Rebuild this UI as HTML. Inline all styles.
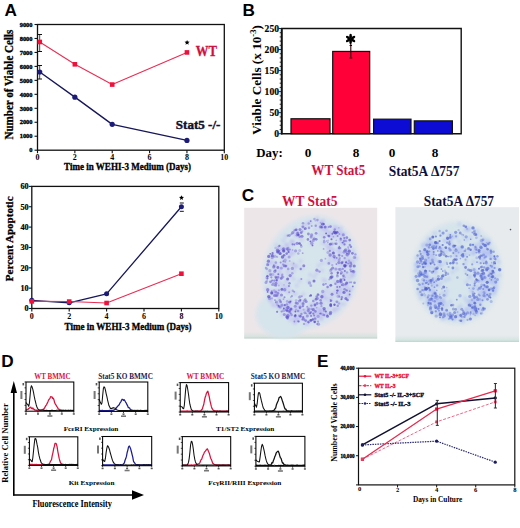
<!DOCTYPE html>
<html><head><meta charset="utf-8"><style>
html,body{margin:0;padding:0;background:#fff;}
body{width:520px;height:528px;overflow:hidden;}
svg{display:block;}
</style></head><body>
<svg width="520" height="528" viewBox="0 0 520 528">
<defs>
<filter id="soft" x="-5%" y="-5%" width="110%" height="110%"><feGaussianBlur stdDeviation="0.45"/></filter>
<filter id="blur1" x="-20%" y="-20%" width="140%" height="140%"><feGaussianBlur stdDeviation="1.2"/></filter>
<filter id="blur2" x="-20%" y="-20%" width="140%" height="140%"><feGaussianBlur stdDeviation="2"/></filter>
<linearGradient id="gstrip" x1="0" y1="0" x2="0" y2="1"><stop offset="0" stop-color="#c0e0d8" stop-opacity="0"/><stop offset="0.7" stop-color="#bcdcd0" stop-opacity="0.4"/><stop offset="1" stop-color="#a0c4b4" stop-opacity="0.6"/></linearGradient>
</defs>
<rect width="520" height="528" fill="#fff"/>
<text x="4.4" y="15.6" font-family="Liberation Sans" font-size="17.2" font-weight="bold" fill="#000" text-anchor="start" >A</text>
<text x="242.6" y="15.6" font-family="Liberation Sans" font-size="17.2" font-weight="bold" fill="#000" text-anchor="start" >B</text>
<text x="241.8" y="201.4" font-family="Liberation Sans" font-size="17.2" font-weight="bold" fill="#000" text-anchor="start" >C</text>
<text x="1.2" y="366.6" font-family="Liberation Sans" font-size="17.2" font-weight="bold" fill="#000" text-anchor="start" >D</text>
<text x="317.0" y="366.6" font-family="Liberation Sans" font-size="17.2" font-weight="bold" fill="#000" text-anchor="start" >E</text>
<rect x="37.50" y="24.50" width="186.80" height="125.70" fill="none" stroke="#111" stroke-width="1.3" />
<line x1="34.50" y1="150.20" x2="37.50" y2="150.20" stroke="#111" stroke-width="1.1" />
<text x="32.5" y="152.39999999999998" font-family="Liberation Serif" font-size="6.4" font-weight="bold" fill="#000" text-anchor="end" stroke="#000" stroke-width="0.35">0</text>
<line x1="34.50" y1="136.23" x2="37.50" y2="136.23" stroke="#111" stroke-width="1.1" />
<text x="32.5" y="138.4333333333333" font-family="Liberation Serif" font-size="6.4" font-weight="bold" fill="#000" text-anchor="end" stroke="#000" stroke-width="0.35">1000</text>
<line x1="34.50" y1="122.27" x2="37.50" y2="122.27" stroke="#111" stroke-width="1.1" />
<text x="32.5" y="124.46666666666665" font-family="Liberation Serif" font-size="6.4" font-weight="bold" fill="#000" text-anchor="end" stroke="#000" stroke-width="0.35">2000</text>
<line x1="34.50" y1="108.30" x2="37.50" y2="108.30" stroke="#111" stroke-width="1.1" />
<text x="32.5" y="110.5" font-family="Liberation Serif" font-size="6.4" font-weight="bold" fill="#000" text-anchor="end" stroke="#000" stroke-width="0.35">3000</text>
<line x1="34.50" y1="94.33" x2="37.50" y2="94.33" stroke="#111" stroke-width="1.1" />
<text x="32.5" y="96.53333333333333" font-family="Liberation Serif" font-size="6.4" font-weight="bold" fill="#000" text-anchor="end" stroke="#000" stroke-width="0.35">4000</text>
<line x1="34.50" y1="80.37" x2="37.50" y2="80.37" stroke="#111" stroke-width="1.1" />
<text x="32.5" y="82.56666666666666" font-family="Liberation Serif" font-size="6.4" font-weight="bold" fill="#000" text-anchor="end" stroke="#000" stroke-width="0.35">5000</text>
<line x1="34.50" y1="66.40" x2="37.50" y2="66.40" stroke="#111" stroke-width="1.1" />
<text x="32.5" y="68.60000000000001" font-family="Liberation Serif" font-size="6.4" font-weight="bold" fill="#000" text-anchor="end" stroke="#000" stroke-width="0.35">6000</text>
<line x1="34.50" y1="52.43" x2="37.50" y2="52.43" stroke="#111" stroke-width="1.1" />
<text x="32.5" y="54.63333333333334" font-family="Liberation Serif" font-size="6.4" font-weight="bold" fill="#000" text-anchor="end" stroke="#000" stroke-width="0.35">7000</text>
<line x1="34.50" y1="38.47" x2="37.50" y2="38.47" stroke="#111" stroke-width="1.1" />
<text x="32.5" y="40.66666666666667" font-family="Liberation Serif" font-size="6.4" font-weight="bold" fill="#000" text-anchor="end" stroke="#000" stroke-width="0.35">8000</text>
<line x1="34.50" y1="24.50" x2="37.50" y2="24.50" stroke="#111" stroke-width="1.1" />
<text x="32.5" y="26.699999999999985" font-family="Liberation Serif" font-size="6.4" font-weight="bold" fill="#000" text-anchor="end" stroke="#000" stroke-width="0.35">9000</text>
<line x1="37.50" y1="150.20" x2="37.50" y2="153.20" stroke="#111" stroke-width="1.1" />
<text x="37.5" y="160.2" font-family="Liberation Serif" font-size="8" font-weight="bold" fill="#000" text-anchor="middle" >0</text>
<line x1="74.86" y1="150.20" x2="74.86" y2="153.20" stroke="#111" stroke-width="1.1" />
<text x="74.86" y="160.2" font-family="Liberation Serif" font-size="8" font-weight="bold" fill="#000" text-anchor="middle" >2</text>
<line x1="112.22" y1="150.20" x2="112.22" y2="153.20" stroke="#111" stroke-width="1.1" />
<text x="112.22" y="160.2" font-family="Liberation Serif" font-size="8" font-weight="bold" fill="#000" text-anchor="middle" >4</text>
<line x1="149.58" y1="150.20" x2="149.58" y2="153.20" stroke="#111" stroke-width="1.1" />
<text x="149.58" y="160.2" font-family="Liberation Serif" font-size="8" font-weight="bold" fill="#000" text-anchor="middle" >6</text>
<line x1="186.94" y1="150.20" x2="186.94" y2="153.20" stroke="#111" stroke-width="1.1" />
<text x="186.94" y="160.2" font-family="Liberation Serif" font-size="8" font-weight="bold" fill="#000" text-anchor="middle" >8</text>
<line x1="224.30" y1="150.20" x2="224.30" y2="153.20" stroke="#111" stroke-width="1.1" />
<text x="224.3" y="160.2" font-family="Liberation Serif" font-size="8" font-weight="bold" fill="#000" text-anchor="middle" >10</text>
<text x="127.6" y="170.2" font-family="Liberation Serif" font-size="9.6" font-weight="bold" fill="#000" text-anchor="middle" textLength="127" lengthAdjust="spacingAndGlyphs" stroke="#000" stroke-width="0.3">Time in WEHI-3 Medium (Days)</text>
<text transform="translate(13.2,84.6) rotate(-90)" x="0" y="0" font-family="Liberation Serif" font-size="11.5" font-weight="bold" fill="#000" text-anchor="middle" textLength="110" lengthAdjust="spacingAndGlyphs" stroke="#000" stroke-width="0.3">Number of Viable Cells</text>
<line x1="39.60" y1="34.50" x2="39.60" y2="51.50" stroke="#666" stroke-width="1.2" />
<line x1="37.60" y1="34.50" x2="42.00" y2="34.50" stroke="#111" stroke-width="1" />
<line x1="37.60" y1="51.50" x2="42.00" y2="51.50" stroke="#111" stroke-width="1" />
<line x1="39.60" y1="65.50" x2="39.60" y2="79.00" stroke="#666" stroke-width="1.2" />
<line x1="37.60" y1="65.50" x2="42.00" y2="65.50" stroke="#111" stroke-width="1" />
<line x1="37.60" y1="79.00" x2="42.00" y2="79.00" stroke="#111" stroke-width="1" />
<polyline points="39.74,41.96 74.86,64.31 112.22,84.56 186.94,52.43" fill="none" stroke="#ea2c52" stroke-width="1.05" stroke-linejoin="round" />
<polyline points="39.74,71.99 74.86,97.13 112.22,124.36 186.94,140.42" fill="none" stroke="#16165a" stroke-width="1.35" stroke-linejoin="round" />
<rect x="37.44" y="39.66" width="4.60" height="4.60" fill="#f0103c" stroke="none" stroke-width="1" />
<rect x="72.56" y="62.01" width="4.60" height="4.60" fill="#f0103c" stroke="none" stroke-width="1" />
<rect x="109.92" y="82.26" width="4.60" height="4.60" fill="#f0103c" stroke="none" stroke-width="1" />
<rect x="184.64" y="50.13" width="4.60" height="4.60" fill="#f0103c" stroke="none" stroke-width="1" />
<circle cx="39.74" cy="71.99" r="2.60" fill="#1c1c78" />
<circle cx="74.86" cy="97.13" r="2.60" fill="#1c1c78" />
<circle cx="112.22" cy="124.36" r="2.60" fill="#1c1c78" />
<circle cx="186.94" cy="140.42" r="2.60" fill="#1c1c78" />
<polygon points="187.10,39.90 187.81,41.62 189.67,41.77 188.26,42.98 188.69,44.78 187.10,43.82 185.51,44.78 185.94,42.98 184.53,41.77 186.39,41.62" fill="#000"/>
<text x="195.8" y="55.9" font-family="Liberation Serif" font-size="13.6" font-weight="bold" fill="#d0103e" text-anchor="start" textLength="21.2" lengthAdjust="spacingAndGlyphs" stroke="#d0103e" stroke-width="0.3">WT</text>
<text x="175.8" y="128.5" font-family="Liberation Serif" font-size="13.4" font-weight="bold" fill="#101030" text-anchor="start" textLength="44.6" lengthAdjust="spacingAndGlyphs" stroke="#101030" stroke-width="0.45">Stat5 -/-</text>
<rect x="31.80" y="186.40" width="187.00" height="122.10" fill="none" stroke="#111" stroke-width="1.3" />
<line x1="28.80" y1="308.50" x2="31.80" y2="308.50" stroke="#111" stroke-width="1.1" />
<text x="28.6" y="311.3" font-family="Liberation Serif" font-size="8.2" font-weight="bold" fill="#000" text-anchor="end" stroke="#000" stroke-width="0.2">0</text>
<line x1="28.80" y1="288.15" x2="31.80" y2="288.15" stroke="#111" stroke-width="1.1" />
<text x="28.6" y="290.95" font-family="Liberation Serif" font-size="8.2" font-weight="bold" fill="#000" text-anchor="end" stroke="#000" stroke-width="0.2">10</text>
<line x1="28.80" y1="267.80" x2="31.80" y2="267.80" stroke="#111" stroke-width="1.1" />
<text x="28.6" y="270.6" font-family="Liberation Serif" font-size="8.2" font-weight="bold" fill="#000" text-anchor="end" stroke="#000" stroke-width="0.2">20</text>
<line x1="28.80" y1="247.45" x2="31.80" y2="247.45" stroke="#111" stroke-width="1.1" />
<text x="28.6" y="250.25" font-family="Liberation Serif" font-size="8.2" font-weight="bold" fill="#000" text-anchor="end" stroke="#000" stroke-width="0.2">30</text>
<line x1="28.80" y1="227.10" x2="31.80" y2="227.10" stroke="#111" stroke-width="1.1" />
<text x="28.6" y="229.9" font-family="Liberation Serif" font-size="8.2" font-weight="bold" fill="#000" text-anchor="end" stroke="#000" stroke-width="0.2">40</text>
<line x1="28.80" y1="206.75" x2="31.80" y2="206.75" stroke="#111" stroke-width="1.1" />
<text x="28.6" y="209.55" font-family="Liberation Serif" font-size="8.2" font-weight="bold" fill="#000" text-anchor="end" stroke="#000" stroke-width="0.2">50</text>
<line x1="28.80" y1="186.40" x2="31.80" y2="186.40" stroke="#111" stroke-width="1.1" />
<text x="28.6" y="189.20000000000002" font-family="Liberation Serif" font-size="8.2" font-weight="bold" fill="#000" text-anchor="end" stroke="#000" stroke-width="0.2">60</text>
<line x1="31.80" y1="308.50" x2="31.80" y2="311.50" stroke="#111" stroke-width="1.1" />
<text x="31.8" y="318.6" font-family="Liberation Serif" font-size="8" font-weight="bold" fill="#000" text-anchor="middle" >0</text>
<line x1="69.20" y1="308.50" x2="69.20" y2="311.50" stroke="#111" stroke-width="1.1" />
<text x="69.2" y="318.6" font-family="Liberation Serif" font-size="8" font-weight="bold" fill="#000" text-anchor="middle" >2</text>
<line x1="106.60" y1="308.50" x2="106.60" y2="311.50" stroke="#111" stroke-width="1.1" />
<text x="106.6" y="318.6" font-family="Liberation Serif" font-size="8" font-weight="bold" fill="#000" text-anchor="middle" >4</text>
<line x1="144.00" y1="308.50" x2="144.00" y2="311.50" stroke="#111" stroke-width="1.1" />
<text x="144.0" y="318.6" font-family="Liberation Serif" font-size="8" font-weight="bold" fill="#000" text-anchor="middle" >6</text>
<line x1="181.40" y1="308.50" x2="181.40" y2="311.50" stroke="#111" stroke-width="1.1" />
<text x="181.4" y="318.6" font-family="Liberation Serif" font-size="8" font-weight="bold" fill="#000" text-anchor="middle" >8</text>
<line x1="218.80" y1="308.50" x2="218.80" y2="311.50" stroke="#111" stroke-width="1.1" />
<text x="218.8" y="318.6" font-family="Liberation Serif" font-size="8" font-weight="bold" fill="#000" text-anchor="middle" >10</text>
<text x="128.1" y="330.0" font-family="Liberation Serif" font-size="9.4" font-weight="bold" fill="#000" text-anchor="middle" textLength="127" lengthAdjust="spacingAndGlyphs" stroke="#000" stroke-width="0.3">Time in WEHI-3 Medium (Days)</text>
<text transform="translate(12.6,238.8) rotate(-90)" x="0" y="0" font-family="Liberation Serif" font-size="11" font-weight="bold" fill="#000" text-anchor="middle" textLength="84.7" lengthAdjust="spacingAndGlyphs" stroke="#000" stroke-width="0.3">Percent Apoptotic</text>
<polyline points="31.80,300.36 69.20,302.80 106.60,293.85 181.40,206.75" fill="none" stroke="#16165a" stroke-width="1.3" stroke-linejoin="round" />
<polyline points="31.80,301.38 69.20,301.58 106.60,303.01 181.40,273.70" fill="none" stroke="#ea2c52" stroke-width="1.05" stroke-linejoin="round" />
<circle cx="31.80" cy="300.36" r="2.50" fill="#1c1c78" />
<circle cx="69.20" cy="302.80" r="2.50" fill="#1c1c78" />
<circle cx="106.60" cy="293.85" r="2.50" fill="#1c1c78" />
<circle cx="181.40" cy="206.75" r="2.50" fill="#1c1c78" />
<rect x="29.50" y="299.08" width="4.60" height="4.60" fill="#f0103c" stroke="none" stroke-width="1" />
<rect x="66.90" y="299.28" width="4.60" height="4.60" fill="#f0103c" stroke="none" stroke-width="1" />
<rect x="104.30" y="300.71" width="4.60" height="4.60" fill="#f0103c" stroke="none" stroke-width="1" />
<rect x="179.10" y="271.40" width="4.60" height="4.60" fill="#f0103c" stroke="none" stroke-width="1" />
<line x1="179.80" y1="203.00" x2="183.80" y2="203.00" stroke="#111" stroke-width="1" />
<line x1="179.80" y1="211.30" x2="183.80" y2="211.30" stroke="#111" stroke-width="1" />
<polygon points="181.50,195.20 182.19,196.85 183.97,197.00 182.61,198.16 183.03,199.90 181.50,198.97 179.97,199.90 180.39,198.16 179.03,197.00 180.81,196.85" fill="#000"/>
<rect x="291.00" y="118.76" width="39.00" height="14.94" fill="#ff0038" stroke="#111" stroke-width="1.2" />
<rect x="332.70" y="51.43" width="37.00" height="82.27" fill="#ff0038" stroke="#111" stroke-width="1.2" />
<rect x="373.60" y="119.18" width="37.40" height="14.52" fill="#0c0cd4" stroke="#111" stroke-width="1.2" />
<rect x="414.30" y="120.87" width="38.10" height="12.83" fill="#0c0cd4" stroke="#111" stroke-width="1.2" />
<path d="M281.7,28.5 H461.2 V133.7 H281.7 Z" fill="none" stroke="#111" stroke-width="1.4"/>
<line x1="281.70" y1="28.50" x2="281.70" y2="134.40" stroke="#111" stroke-width="1.9" />
<line x1="278.70" y1="133.70" x2="281.70" y2="133.70" stroke="#111" stroke-width="0.9" />
<line x1="279.70" y1="129.49" x2="281.70" y2="129.49" stroke="#111" stroke-width="0.9" />
<line x1="279.70" y1="125.28" x2="281.70" y2="125.28" stroke="#111" stroke-width="0.9" />
<line x1="279.70" y1="121.08" x2="281.70" y2="121.08" stroke="#111" stroke-width="0.9" />
<line x1="279.70" y1="116.87" x2="281.70" y2="116.87" stroke="#111" stroke-width="0.9" />
<line x1="278.70" y1="112.66" x2="281.70" y2="112.66" stroke="#111" stroke-width="0.9" />
<line x1="279.70" y1="108.45" x2="281.70" y2="108.45" stroke="#111" stroke-width="0.9" />
<line x1="279.70" y1="104.24" x2="281.70" y2="104.24" stroke="#111" stroke-width="0.9" />
<line x1="279.70" y1="100.04" x2="281.70" y2="100.04" stroke="#111" stroke-width="0.9" />
<line x1="279.70" y1="95.83" x2="281.70" y2="95.83" stroke="#111" stroke-width="0.9" />
<line x1="278.70" y1="91.62" x2="281.70" y2="91.62" stroke="#111" stroke-width="0.9" />
<line x1="279.70" y1="87.41" x2="281.70" y2="87.41" stroke="#111" stroke-width="0.9" />
<line x1="279.70" y1="83.20" x2="281.70" y2="83.20" stroke="#111" stroke-width="0.9" />
<line x1="279.70" y1="79.00" x2="281.70" y2="79.00" stroke="#111" stroke-width="0.9" />
<line x1="279.70" y1="74.79" x2="281.70" y2="74.79" stroke="#111" stroke-width="0.9" />
<line x1="278.70" y1="70.58" x2="281.70" y2="70.58" stroke="#111" stroke-width="0.9" />
<line x1="279.70" y1="66.37" x2="281.70" y2="66.37" stroke="#111" stroke-width="0.9" />
<line x1="279.70" y1="62.16" x2="281.70" y2="62.16" stroke="#111" stroke-width="0.9" />
<line x1="279.70" y1="57.96" x2="281.70" y2="57.96" stroke="#111" stroke-width="0.9" />
<line x1="279.70" y1="53.75" x2="281.70" y2="53.75" stroke="#111" stroke-width="0.9" />
<line x1="278.70" y1="49.54" x2="281.70" y2="49.54" stroke="#111" stroke-width="0.9" />
<line x1="279.70" y1="45.33" x2="281.70" y2="45.33" stroke="#111" stroke-width="0.9" />
<line x1="279.70" y1="41.12" x2="281.70" y2="41.12" stroke="#111" stroke-width="0.9" />
<line x1="279.70" y1="36.92" x2="281.70" y2="36.92" stroke="#111" stroke-width="0.9" />
<line x1="279.70" y1="32.71" x2="281.70" y2="32.71" stroke="#111" stroke-width="0.9" />
<line x1="278.70" y1="28.50" x2="281.70" y2="28.50" stroke="#111" stroke-width="0.9" />
<text x="279" y="137.0" font-family="Liberation Serif" font-size="9.6" font-weight="bold" fill="#000" text-anchor="end" stroke="#000" stroke-width="0.15">0</text>
<text x="279" y="115.96" font-family="Liberation Serif" font-size="9.6" font-weight="bold" fill="#000" text-anchor="end" stroke="#000" stroke-width="0.15">50</text>
<text x="279" y="94.92" font-family="Liberation Serif" font-size="9.6" font-weight="bold" fill="#000" text-anchor="end" stroke="#000" stroke-width="0.15">100</text>
<text x="279" y="73.88" font-family="Liberation Serif" font-size="9.6" font-weight="bold" fill="#000" text-anchor="end" stroke="#000" stroke-width="0.15">150</text>
<text x="279" y="52.84" font-family="Liberation Serif" font-size="9.6" font-weight="bold" fill="#000" text-anchor="end" stroke="#000" stroke-width="0.15">200</text>
<text x="279" y="31.8" font-family="Liberation Serif" font-size="9.6" font-weight="bold" fill="#000" text-anchor="end" stroke="#000" stroke-width="0.15">250</text>
<line x1="350.80" y1="44.00" x2="350.80" y2="58.30" stroke="#300008" stroke-width="1.1" />
<line x1="349.60" y1="45.50" x2="352.00" y2="45.50" stroke="#000" stroke-width="1" />
<line x1="349.30" y1="58.00" x2="352.30" y2="58.00" stroke="#700010" stroke-width="1.2" />
<g transform="translate(350.6,39)" fill="#000"><ellipse cx="0" cy="-2.86" rx="1.35" ry="2.44" transform="rotate(0)"/><ellipse cx="0" cy="-2.86" rx="1.35" ry="2.44" transform="rotate(60)"/><ellipse cx="0" cy="-2.86" rx="1.35" ry="2.44" transform="rotate(120)"/><ellipse cx="0" cy="-2.86" rx="1.35" ry="2.44" transform="rotate(180)"/><ellipse cx="0" cy="-2.86" rx="1.35" ry="2.44" transform="rotate(240)"/><ellipse cx="0" cy="-2.86" rx="1.35" ry="2.44" transform="rotate(300)"/><circle r="1.04"/></g>
<text transform="translate(260.6,79.9) rotate(-90)" x="0" y="0" font-family="Liberation Serif" font-size="13.2" font-weight="bold" fill="#000" text-anchor="middle" >Viable Cells (x 10<tspan dy="-5" font-size="8.6">-3</tspan><tspan dy="5">)</tspan></text>
<text x="256.3" y="156.8" font-family="Liberation Serif" font-size="13.2" font-weight="bold" fill="#000" text-anchor="start" textLength="26.5" lengthAdjust="spacingAndGlyphs" >Day:</text>
<text x="308" y="156.8" font-family="Liberation Serif" font-size="13.2" font-weight="bold" fill="#000" text-anchor="middle" >0</text>
<text x="356" y="156.8" font-family="Liberation Serif" font-size="13.2" font-weight="bold" fill="#000" text-anchor="middle" >8</text>
<text x="392" y="156.8" font-family="Liberation Serif" font-size="13.2" font-weight="bold" fill="#000" text-anchor="middle" >0</text>
<text x="435" y="156.8" font-family="Liberation Serif" font-size="13.2" font-weight="bold" fill="#000" text-anchor="middle" >8</text>
<text x="311.3" y="175.4" font-family="Liberation Serif" font-size="14.1" font-weight="bold" fill="#d0103e" text-anchor="start" textLength="54" lengthAdjust="spacingAndGlyphs" >WT Stat5</text>
<text x="388.7" y="175.5" font-family="Liberation Serif" font-size="14.1" font-weight="bold" fill="#10103a" text-anchor="start" textLength="70.8" lengthAdjust="spacingAndGlyphs" >Stat5A Δ757</text>
<text x="309.8" y="205.7" font-family="Liberation Serif" font-size="14" font-weight="bold" fill="#d0103e" text-anchor="middle" textLength="55.5" lengthAdjust="spacingAndGlyphs" >WT Stat5</text>
<text x="458.9" y="205.9" font-family="Liberation Serif" font-size="14" font-weight="bold" fill="#10103a" text-anchor="middle" textLength="70.3" lengthAdjust="spacingAndGlyphs" >Stat5A Δ757</text>
<rect x="244.20" y="207.80" width="133.00" height="130.70" fill="#ece6e9" stroke="none" stroke-width="1" />
<rect x="244.2" y="331.5" width="133.0" height="7" fill="url(#gstrip)"/>
<ellipse cx="284" cy="314" rx="28" ry="24" transform="rotate(0 284 314)" fill="#d6e4ec" filter="url(#blur2)"/>
<ellipse cx="311" cy="272" rx="48" ry="57" transform="rotate(16 311 272)" fill="#d6e4ec" filter="url(#blur2)"/>
<g fill="#b8b2f0" filter="url(#blur1)"><circle cx="341.8" cy="252.8" r="2.4" fill-opacity="0.28"/><circle cx="342.7" cy="273.4" r="2.4" fill-opacity="0.28"/><circle cx="295.7" cy="235.4" r="2.4" fill-opacity="0.28"/><circle cx="339.1" cy="286.5" r="2.4" fill-opacity="0.28"/><circle cx="289.5" cy="291.2" r="2.4" fill-opacity="0.28"/><circle cx="352.0" cy="274.8" r="2.4" fill-opacity="0.28"/><circle cx="332.0" cy="255.5" r="2.4" fill-opacity="0.28"/><circle cx="308.8" cy="281.5" r="2.4" fill-opacity="0.28"/><circle cx="279.2" cy="296.9" r="2.4" fill-opacity="0.28"/><circle cx="280.6" cy="268.9" r="2.4" fill-opacity="0.28"/><circle cx="330.2" cy="263.2" r="2.4" fill-opacity="0.28"/><circle cx="303.3" cy="301.7" r="2.4" fill-opacity="0.28"/><circle cx="301.9" cy="268.2" r="2.4" fill-opacity="0.28"/><circle cx="322.5" cy="263.1" r="2.4" fill-opacity="0.28"/><circle cx="303.6" cy="311.1" r="2.4" fill-opacity="0.28"/><circle cx="298.5" cy="320.2" r="2.4" fill-opacity="0.28"/><circle cx="326.4" cy="313.1" r="2.4" fill-opacity="0.28"/><circle cx="322.9" cy="310.8" r="2.4" fill-opacity="0.28"/><circle cx="318.7" cy="265.7" r="2.4" fill-opacity="0.28"/><circle cx="341.6" cy="288.8" r="2.4" fill-opacity="0.28"/><circle cx="322.2" cy="270.4" r="2.4" fill-opacity="0.28"/><circle cx="346.4" cy="254.1" r="2.4" fill-opacity="0.28"/><circle cx="338.9" cy="232.3" r="2.4" fill-opacity="0.28"/><circle cx="310.3" cy="222.5" r="2.4" fill-opacity="0.28"/><circle cx="323.5" cy="237.6" r="2.4" fill-opacity="0.28"/><circle cx="331.1" cy="272.6" r="2.4" fill-opacity="0.28"/><circle cx="323.1" cy="221.0" r="2.4" fill-opacity="0.28"/><circle cx="313.5" cy="237.0" r="2.4" fill-opacity="0.28"/><circle cx="346.1" cy="283.2" r="2.4" fill-opacity="0.28"/><circle cx="310.7" cy="308.2" r="2.4" fill-opacity="0.28"/><circle cx="340.7" cy="241.6" r="2.4" fill-opacity="0.28"/><circle cx="325.4" cy="281.2" r="2.4" fill-opacity="0.28"/><circle cx="336.0" cy="228.7" r="2.4" fill-opacity="0.28"/><circle cx="283.0" cy="305.0" r="2.4" fill-opacity="0.28"/><circle cx="311.1" cy="243.7" r="2.4" fill-opacity="0.28"/><circle cx="279.7" cy="283.0" r="2.4" fill-opacity="0.28"/><circle cx="331.9" cy="254.6" r="2.4" fill-opacity="0.28"/><circle cx="284.3" cy="306.9" r="2.4" fill-opacity="0.28"/><circle cx="340.9" cy="262.2" r="2.4" fill-opacity="0.28"/><circle cx="316.2" cy="312.1" r="2.4" fill-opacity="0.28"/><circle cx="285.6" cy="308.5" r="2.4" fill-opacity="0.28"/><circle cx="294.9" cy="322.9" r="2.4" fill-opacity="0.28"/><circle cx="343.5" cy="233.8" r="2.4" fill-opacity="0.28"/><circle cx="340.3" cy="292.3" r="2.4" fill-opacity="0.28"/><circle cx="327.5" cy="231.5" r="2.4" fill-opacity="0.28"/><circle cx="326.5" cy="314.0" r="2.4" fill-opacity="0.28"/><circle cx="312.6" cy="304.7" r="2.4" fill-opacity="0.28"/><circle cx="325.6" cy="244.6" r="2.4" fill-opacity="0.28"/><circle cx="278.5" cy="307.4" r="2.4" fill-opacity="0.28"/><circle cx="349.9" cy="278.3" r="2.4" fill-opacity="0.28"/><circle cx="326.4" cy="313.9" r="2.4" fill-opacity="0.28"/><circle cx="338.5" cy="233.1" r="2.4" fill-opacity="0.28"/><circle cx="315.7" cy="229.3" r="2.4" fill-opacity="0.28"/><circle cx="280.7" cy="291.2" r="2.4" fill-opacity="0.28"/><circle cx="351.0" cy="269.5" r="2.4" fill-opacity="0.28"/><circle cx="353.4" cy="260.6" r="2.4" fill-opacity="0.28"/><circle cx="321.1" cy="229.1" r="2.4" fill-opacity="0.28"/><circle cx="332.6" cy="250.6" r="2.4" fill-opacity="0.28"/><circle cx="301.6" cy="240.3" r="2.4" fill-opacity="0.28"/><circle cx="353.3" cy="271.6" r="2.4" fill-opacity="0.28"/><circle cx="351.8" cy="261.1" r="2.4" fill-opacity="0.28"/><circle cx="299.4" cy="310.2" r="2.4" fill-opacity="0.28"/><circle cx="302.2" cy="303.2" r="2.4" fill-opacity="0.28"/><circle cx="344.9" cy="261.1" r="2.4" fill-opacity="0.28"/><circle cx="299.6" cy="316.7" r="2.4" fill-opacity="0.28"/><circle cx="282.5" cy="310.0" r="2.4" fill-opacity="0.28"/><circle cx="327.0" cy="298.3" r="2.4" fill-opacity="0.28"/><circle cx="333.3" cy="250.1" r="2.4" fill-opacity="0.28"/><circle cx="276.7" cy="245.6" r="2.4" fill-opacity="0.28"/><circle cx="288.0" cy="264.8" r="2.4" fill-opacity="0.28"/><circle cx="289.3" cy="255.7" r="2.4" fill-opacity="0.28"/><circle cx="286.7" cy="281.8" r="2.4" fill-opacity="0.28"/><circle cx="272.8" cy="262.4" r="2.4" fill-opacity="0.28"/><circle cx="272.8" cy="291.5" r="2.4" fill-opacity="0.28"/><circle cx="308.6" cy="312.1" r="2.4" fill-opacity="0.28"/><circle cx="349.5" cy="291.2" r="2.4" fill-opacity="0.28"/><circle cx="297.5" cy="235.8" r="2.4" fill-opacity="0.28"/><circle cx="320.5" cy="299.6" r="2.4" fill-opacity="0.28"/><circle cx="334.3" cy="293.4" r="2.4" fill-opacity="0.28"/><circle cx="270.7" cy="292.0" r="2.4" fill-opacity="0.28"/><circle cx="319.0" cy="297.2" r="2.4" fill-opacity="0.28"/><circle cx="291.4" cy="301.0" r="2.4" fill-opacity="0.28"/><circle cx="286.6" cy="245.0" r="2.4" fill-opacity="0.28"/><circle cx="274.3" cy="273.0" r="2.4" fill-opacity="0.28"/><circle cx="283.4" cy="240.7" r="2.4" fill-opacity="0.28"/><circle cx="285.4" cy="257.7" r="2.4" fill-opacity="0.28"/><circle cx="291.6" cy="241.8" r="2.4" fill-opacity="0.28"/><circle cx="288.3" cy="275.3" r="2.4" fill-opacity="0.28"/><circle cx="318.4" cy="307.4" r="2.4" fill-opacity="0.28"/><circle cx="351.5" cy="288.8" r="2.4" fill-opacity="0.28"/><circle cx="334.3" cy="309.5" r="2.4" fill-opacity="0.28"/><circle cx="330.5" cy="298.6" r="2.4" fill-opacity="0.28"/><circle cx="327.8" cy="262.8" r="2.4" fill-opacity="0.28"/><circle cx="308.1" cy="314.8" r="2.4" fill-opacity="0.28"/><circle cx="343.4" cy="270.9" r="2.4" fill-opacity="0.28"/><circle cx="278.2" cy="276.3" r="2.4" fill-opacity="0.28"/><circle cx="340.4" cy="290.1" r="2.4" fill-opacity="0.28"/><circle cx="338.6" cy="308.4" r="2.4" fill-opacity="0.28"/><circle cx="328.5" cy="293.1" r="2.4" fill-opacity="0.28"/><circle cx="309.6" cy="321.6" r="2.4" fill-opacity="0.28"/><circle cx="333.5" cy="309.1" r="2.4" fill-opacity="0.28"/><circle cx="318.1" cy="316.8" r="2.4" fill-opacity="0.28"/><circle cx="270.1" cy="298.4" r="2.4" fill-opacity="0.28"/><circle cx="321.9" cy="223.1" r="2.4" fill-opacity="0.28"/><circle cx="335.0" cy="270.0" r="2.4" fill-opacity="0.28"/><circle cx="298.1" cy="319.4" r="2.4" fill-opacity="0.28"/><circle cx="342.0" cy="243.0" r="2.4" fill-opacity="0.28"/><circle cx="320.3" cy="310.7" r="2.4" fill-opacity="0.28"/><circle cx="328.8" cy="246.5" r="2.4" fill-opacity="0.28"/><circle cx="273.2" cy="294.3" r="2.4" fill-opacity="0.28"/><circle cx="318.9" cy="313.6" r="2.4" fill-opacity="0.28"/><circle cx="342.6" cy="295.1" r="2.4" fill-opacity="0.28"/><circle cx="279.8" cy="277.4" r="2.4" fill-opacity="0.28"/><circle cx="328.0" cy="289.0" r="2.4" fill-opacity="0.28"/><circle cx="324.3" cy="234.5" r="2.4" fill-opacity="0.28"/><circle cx="281.4" cy="288.5" r="2.4" fill-opacity="0.28"/><circle cx="305.7" cy="225.4" r="2.4" fill-opacity="0.28"/><circle cx="322.5" cy="229.5" r="2.4" fill-opacity="0.28"/><circle cx="268.7" cy="271.0" r="2.4" fill-opacity="0.28"/><circle cx="319.5" cy="310.5" r="2.4" fill-opacity="0.28"/><circle cx="271.4" cy="282.7" r="2.4" fill-opacity="0.28"/><circle cx="335.2" cy="259.5" r="2.4" fill-opacity="0.28"/><circle cx="348.1" cy="262.0" r="2.4" fill-opacity="0.28"/><circle cx="305.4" cy="318.3" r="2.4" fill-opacity="0.28"/><circle cx="336.8" cy="309.0" r="2.4" fill-opacity="0.28"/><circle cx="274.6" cy="280.4" r="2.4" fill-opacity="0.28"/><circle cx="302.6" cy="225.8" r="2.4" fill-opacity="0.28"/><circle cx="317.0" cy="313.3" r="2.4" fill-opacity="0.28"/><circle cx="331.3" cy="248.4" r="2.4" fill-opacity="0.28"/><circle cx="346.7" cy="292.6" r="2.4" fill-opacity="0.28"/><circle cx="272.9" cy="304.6" r="2.4" fill-opacity="0.28"/><circle cx="322.9" cy="304.3" r="2.4" fill-opacity="0.28"/><circle cx="269.4" cy="263.7" r="2.4" fill-opacity="0.28"/><circle cx="281.3" cy="251.5" r="2.4" fill-opacity="0.28"/><circle cx="325.6" cy="229.3" r="2.4" fill-opacity="0.28"/><circle cx="293.7" cy="293.7" r="2.4" fill-opacity="0.28"/><circle cx="348.4" cy="260.3" r="2.4" fill-opacity="0.28"/><circle cx="286.7" cy="271.6" r="2.4" fill-opacity="0.28"/><circle cx="330.4" cy="232.3" r="2.4" fill-opacity="0.28"/><circle cx="334.5" cy="301.8" r="2.4" fill-opacity="0.28"/><circle cx="302.9" cy="230.4" r="2.4" fill-opacity="0.28"/><circle cx="325.1" cy="230.0" r="2.4" fill-opacity="0.28"/><circle cx="330.0" cy="256.1" r="2.4" fill-opacity="0.28"/><circle cx="310.3" cy="274.8" r="2.4" fill-opacity="0.28"/><circle cx="352.9" cy="264.1" r="2.4" fill-opacity="0.28"/><circle cx="296.7" cy="315.1" r="2.4" fill-opacity="0.28"/><circle cx="348.7" cy="241.0" r="2.4" fill-opacity="0.28"/><circle cx="321.5" cy="303.2" r="2.4" fill-opacity="0.28"/><circle cx="345.8" cy="298.4" r="2.4" fill-opacity="0.28"/><circle cx="304.2" cy="316.6" r="2.4" fill-opacity="0.28"/><circle cx="296.2" cy="293.9" r="2.4" fill-opacity="0.28"/><circle cx="274.2" cy="266.7" r="2.4" fill-opacity="0.28"/><circle cx="326.1" cy="228.1" r="2.4" fill-opacity="0.28"/><circle cx="337.7" cy="296.0" r="2.4" fill-opacity="0.28"/><circle cx="288.8" cy="305.4" r="2.4" fill-opacity="0.28"/><circle cx="280.0" cy="307.9" r="2.4" fill-opacity="0.28"/><circle cx="321.4" cy="310.9" r="2.4" fill-opacity="0.28"/><circle cx="334.5" cy="280.4" r="2.4" fill-opacity="0.28"/><circle cx="290.9" cy="310.0" r="2.4" fill-opacity="0.28"/><circle cx="353.9" cy="273.8" r="2.4" fill-opacity="0.28"/><circle cx="329.9" cy="285.0" r="2.4" fill-opacity="0.28"/><circle cx="289.1" cy="315.7" r="2.4" fill-opacity="0.28"/><circle cx="313.9" cy="318.5" r="2.4" fill-opacity="0.28"/><circle cx="345.2" cy="268.5" r="2.4" fill-opacity="0.28"/><circle cx="341.0" cy="266.0" r="2.4" fill-opacity="0.28"/><circle cx="281.5" cy="246.9" r="2.4" fill-opacity="0.28"/><circle cx="278.9" cy="303.8" r="2.4" fill-opacity="0.28"/><circle cx="303.2" cy="294.4" r="2.4" fill-opacity="0.28"/><circle cx="295.5" cy="319.3" r="2.4" fill-opacity="0.28"/><circle cx="320.6" cy="313.0" r="2.4" fill-opacity="0.28"/><circle cx="314.3" cy="276.9" r="2.4" fill-opacity="0.28"/><circle cx="274.3" cy="267.5" r="2.4" fill-opacity="0.28"/><circle cx="337.7" cy="236.0" r="2.4" fill-opacity="0.28"/><circle cx="334.0" cy="311.4" r="2.4" fill-opacity="0.28"/><circle cx="277.8" cy="249.9" r="2.4" fill-opacity="0.28"/><circle cx="279.6" cy="250.0" r="2.4" fill-opacity="0.28"/><circle cx="283.9" cy="266.6" r="2.4" fill-opacity="0.28"/><circle cx="297.0" cy="266.4" r="2.4" fill-opacity="0.28"/><circle cx="289.2" cy="270.4" r="2.4" fill-opacity="0.28"/><circle cx="323.6" cy="314.8" r="2.4" fill-opacity="0.28"/><circle cx="284.8" cy="288.1" r="2.4" fill-opacity="0.28"/><circle cx="305.8" cy="323.1" r="2.4" fill-opacity="0.28"/><circle cx="331.3" cy="237.6" r="2.4" fill-opacity="0.28"/><circle cx="285.6" cy="287.1" r="2.4" fill-opacity="0.28"/><circle cx="289.8" cy="250.8" r="2.4" fill-opacity="0.28"/><circle cx="293.5" cy="279.1" r="2.4" fill-opacity="0.28"/><circle cx="338.7" cy="302.2" r="2.4" fill-opacity="0.28"/><circle cx="314.4" cy="308.7" r="2.4" fill-opacity="0.28"/><circle cx="294.9" cy="266.7" r="2.4" fill-opacity="0.28"/><circle cx="347.3" cy="273.5" r="2.4" fill-opacity="0.28"/><circle cx="333.8" cy="231.0" r="2.4" fill-opacity="0.28"/><circle cx="340.9" cy="228.1" r="2.4" fill-opacity="0.28"/><circle cx="342.9" cy="235.7" r="2.4" fill-opacity="0.28"/><circle cx="288.9" cy="315.3" r="2.4" fill-opacity="0.28"/><circle cx="282.7" cy="284.5" r="2.4" fill-opacity="0.28"/><circle cx="288.7" cy="300.4" r="2.4" fill-opacity="0.28"/><circle cx="338.1" cy="291.9" r="2.4" fill-opacity="0.28"/><circle cx="289.5" cy="311.4" r="2.4" fill-opacity="0.28"/><circle cx="328.9" cy="226.1" r="2.4" fill-opacity="0.28"/><circle cx="279.8" cy="248.6" r="2.4" fill-opacity="0.28"/><circle cx="325.1" cy="297.2" r="2.4" fill-opacity="0.28"/><circle cx="288.5" cy="286.4" r="2.4" fill-opacity="0.28"/><circle cx="346.8" cy="263.4" r="2.4" fill-opacity="0.28"/><circle cx="270.3" cy="300.3" r="2.4" fill-opacity="0.28"/><circle cx="346.1" cy="277.4" r="2.4" fill-opacity="0.28"/><circle cx="299.7" cy="280.9" r="2.4" fill-opacity="0.28"/><circle cx="322.4" cy="222.3" r="2.4" fill-opacity="0.28"/><circle cx="315.5" cy="307.9" r="2.4" fill-opacity="0.28"/><circle cx="279.1" cy="298.1" r="2.4" fill-opacity="0.28"/><circle cx="349.2" cy="265.4" r="2.4" fill-opacity="0.28"/><circle cx="273.7" cy="253.8" r="2.4" fill-opacity="0.28"/><circle cx="283.2" cy="300.2" r="2.4" fill-opacity="0.28"/><circle cx="324.5" cy="291.3" r="2.4" fill-opacity="0.28"/><circle cx="277.7" cy="278.8" r="2.4" fill-opacity="0.28"/><circle cx="290.6" cy="304.3" r="2.4" fill-opacity="0.28"/><circle cx="342.3" cy="235.2" r="2.4" fill-opacity="0.28"/><circle cx="328.4" cy="302.5" r="2.4" fill-opacity="0.28"/><circle cx="283.8" cy="250.0" r="2.4" fill-opacity="0.28"/><circle cx="274.9" cy="292.1" r="2.4" fill-opacity="0.28"/><circle cx="343.8" cy="257.2" r="2.4" fill-opacity="0.28"/><circle cx="346.3" cy="286.5" r="2.4" fill-opacity="0.28"/><circle cx="330.1" cy="259.5" r="2.4" fill-opacity="0.28"/><circle cx="324.8" cy="298.9" r="2.4" fill-opacity="0.28"/><circle cx="323.5" cy="279.8" r="2.4" fill-opacity="0.28"/><circle cx="294.6" cy="322.0" r="2.4" fill-opacity="0.28"/><circle cx="293.9" cy="271.1" r="2.4" fill-opacity="0.28"/><circle cx="343.3" cy="265.2" r="2.4" fill-opacity="0.28"/><circle cx="306.5" cy="310.2" r="2.4" fill-opacity="0.28"/><circle cx="314.8" cy="299.5" r="2.4" fill-opacity="0.28"/><circle cx="292.4" cy="263.0" r="2.4" fill-opacity="0.28"/><circle cx="285.8" cy="236.5" r="2.4" fill-opacity="0.28"/><circle cx="336.5" cy="283.6" r="2.4" fill-opacity="0.28"/><circle cx="293.5" cy="309.5" r="2.4" fill-opacity="0.28"/><circle cx="334.9" cy="230.5" r="2.4" fill-opacity="0.28"/><circle cx="277.0" cy="266.7" r="2.4" fill-opacity="0.28"/><circle cx="291.7" cy="252.9" r="2.4" fill-opacity="0.28"/><circle cx="288.1" cy="304.2" r="2.4" fill-opacity="0.28"/><circle cx="334.1" cy="261.2" r="2.4" fill-opacity="0.28"/><circle cx="286.4" cy="260.8" r="2.4" fill-opacity="0.28"/><circle cx="335.6" cy="289.7" r="2.4" fill-opacity="0.28"/><circle cx="341.0" cy="252.5" r="2.4" fill-opacity="0.28"/><circle cx="345.6" cy="260.8" r="2.4" fill-opacity="0.28"/><circle cx="347.5" cy="297.2" r="2.4" fill-opacity="0.28"/><circle cx="338.3" cy="295.1" r="2.4" fill-opacity="0.28"/><circle cx="284.9" cy="265.4" r="2.4" fill-opacity="0.28"/><circle cx="340.6" cy="304.3" r="2.4" fill-opacity="0.28"/><circle cx="287.9" cy="313.8" r="2.4" fill-opacity="0.28"/><circle cx="337.6" cy="251.5" r="2.4" fill-opacity="0.28"/><circle cx="286.3" cy="280.7" r="2.4" fill-opacity="0.28"/><circle cx="348.2" cy="283.0" r="2.4" fill-opacity="0.28"/><circle cx="320.7" cy="222.7" r="2.4" fill-opacity="0.28"/><circle cx="292.0" cy="318.8" r="2.4" fill-opacity="0.28"/><circle cx="283.3" cy="265.2" r="2.4" fill-opacity="0.28"/><circle cx="288.5" cy="249.5" r="2.4" fill-opacity="0.28"/><circle cx="297.2" cy="306.3" r="2.4" fill-opacity="0.28"/><circle cx="326.9" cy="315.7" r="2.4" fill-opacity="0.28"/><circle cx="289.4" cy="312.2" r="2.4" fill-opacity="0.28"/><circle cx="347.9" cy="288.5" r="2.4" fill-opacity="0.28"/><circle cx="348.8" cy="257.4" r="2.4" fill-opacity="0.28"/><circle cx="328.0" cy="308.4" r="2.4" fill-opacity="0.28"/><circle cx="329.4" cy="233.1" r="2.4" fill-opacity="0.28"/><circle cx="312.4" cy="312.1" r="2.4" fill-opacity="0.28"/><circle cx="301.6" cy="304.8" r="2.4" fill-opacity="0.28"/><circle cx="286.3" cy="244.9" r="2.4" fill-opacity="0.28"/><circle cx="338.8" cy="292.4" r="2.4" fill-opacity="0.28"/><circle cx="268.4" cy="274.8" r="2.4" fill-opacity="0.28"/><circle cx="356.6" cy="258.5" r="2.4" fill-opacity="0.28"/><circle cx="284.9" cy="290.4" r="2.4" fill-opacity="0.28"/><circle cx="292.2" cy="241.1" r="2.4" fill-opacity="0.28"/><circle cx="321.4" cy="319.2" r="2.4" fill-opacity="0.28"/><circle cx="290.0" cy="320.1" r="2.4" fill-opacity="0.28"/><circle cx="330.1" cy="234.3" r="2.4" fill-opacity="0.28"/><circle cx="339.2" cy="248.0" r="2.4" fill-opacity="0.28"/><circle cx="269.0" cy="263.2" r="2.4" fill-opacity="0.28"/><circle cx="292.6" cy="265.6" r="2.4" fill-opacity="0.28"/><circle cx="296.8" cy="285.5" r="2.4" fill-opacity="0.28"/><circle cx="277.2" cy="283.4" r="2.4" fill-opacity="0.28"/><circle cx="351.5" cy="275.2" r="2.4" fill-opacity="0.28"/><circle cx="272.2" cy="275.3" r="2.4" fill-opacity="0.28"/><circle cx="353.0" cy="276.3" r="2.4" fill-opacity="0.28"/><circle cx="310.1" cy="223.0" r="2.4" fill-opacity="0.28"/><circle cx="319.6" cy="309.3" r="2.4" fill-opacity="0.28"/><circle cx="338.4" cy="287.1" r="2.4" fill-opacity="0.28"/><circle cx="306.9" cy="311.7" r="2.4" fill-opacity="0.28"/><circle cx="298.4" cy="306.4" r="2.4" fill-opacity="0.28"/><circle cx="327.8" cy="249.3" r="2.4" fill-opacity="0.28"/><circle cx="334.0" cy="226.6" r="2.4" fill-opacity="0.28"/><circle cx="353.8" cy="253.6" r="2.4" fill-opacity="0.28"/><circle cx="338.3" cy="257.7" r="2.4" fill-opacity="0.28"/><circle cx="352.6" cy="250.6" r="2.4" fill-opacity="0.28"/><circle cx="335.1" cy="236.4" r="2.4" fill-opacity="0.28"/><circle cx="348.4" cy="295.0" r="2.4" fill-opacity="0.28"/><circle cx="274.9" cy="292.1" r="2.4" fill-opacity="0.28"/><circle cx="291.5" cy="254.4" r="2.4" fill-opacity="0.28"/><circle cx="321.1" cy="318.3" r="2.4" fill-opacity="0.28"/><circle cx="334.9" cy="256.8" r="2.4" fill-opacity="0.28"/><circle cx="306.8" cy="223.5" r="2.4" fill-opacity="0.28"/><circle cx="299.9" cy="311.2" r="2.4" fill-opacity="0.28"/><circle cx="294.0" cy="252.6" r="2.4" fill-opacity="0.28"/><circle cx="275.4" cy="263.5" r="2.4" fill-opacity="0.28"/><circle cx="320.8" cy="315.2" r="2.4" fill-opacity="0.28"/><circle cx="294.6" cy="233.0" r="2.4" fill-opacity="0.28"/><circle cx="273.7" cy="305.6" r="2.4" fill-opacity="0.28"/><circle cx="317.4" cy="218.5" r="2.4" fill-opacity="0.28"/><circle cx="315.5" cy="303.2" r="2.4" fill-opacity="0.28"/><circle cx="269.6" cy="298.2" r="2.4" fill-opacity="0.28"/><circle cx="332.0" cy="296.9" r="2.4" fill-opacity="0.28"/><circle cx="277.2" cy="290.5" r="2.4" fill-opacity="0.28"/><circle cx="292.7" cy="242.3" r="2.4" fill-opacity="0.28"/><circle cx="298.3" cy="233.4" r="2.4" fill-opacity="0.28"/><circle cx="295.6" cy="310.4" r="2.4" fill-opacity="0.28"/><circle cx="310.2" cy="313.5" r="2.4" fill-opacity="0.28"/><circle cx="332.0" cy="233.8" r="2.4" fill-opacity="0.28"/><circle cx="337.5" cy="264.8" r="2.4" fill-opacity="0.28"/><circle cx="279.6" cy="270.6" r="2.4" fill-opacity="0.28"/><circle cx="340.3" cy="240.3" r="2.4" fill-opacity="0.28"/><circle cx="333.3" cy="236.7" r="2.4" fill-opacity="0.28"/><circle cx="328.9" cy="246.9" r="2.4" fill-opacity="0.28"/><circle cx="271.2" cy="301.3" r="2.4" fill-opacity="0.28"/><circle cx="340.4" cy="231.1" r="2.4" fill-opacity="0.28"/><circle cx="300.5" cy="311.4" r="2.4" fill-opacity="0.28"/><circle cx="332.1" cy="292.6" r="2.4" fill-opacity="0.28"/><circle cx="307.0" cy="324.0" r="2.4" fill-opacity="0.28"/><circle cx="278.1" cy="302.4" r="2.4" fill-opacity="0.28"/><circle cx="344.1" cy="304.1" r="2.4" fill-opacity="0.28"/><circle cx="287.6" cy="309.9" r="2.4" fill-opacity="0.28"/><circle cx="292.7" cy="245.2" r="2.4" fill-opacity="0.28"/><circle cx="345.3" cy="286.3" r="2.4" fill-opacity="0.28"/><circle cx="300.3" cy="261.3" r="2.4" fill-opacity="0.28"/><circle cx="277.0" cy="292.3" r="2.4" fill-opacity="0.28"/><circle cx="295.4" cy="229.0" r="2.4" fill-opacity="0.28"/><circle cx="315.6" cy="315.4" r="2.4" fill-opacity="0.28"/><circle cx="332.9" cy="243.5" r="2.4" fill-opacity="0.28"/><circle cx="307.4" cy="309.6" r="2.4" fill-opacity="0.28"/><circle cx="295.3" cy="265.3" r="2.4" fill-opacity="0.28"/><circle cx="287.7" cy="292.9" r="2.4" fill-opacity="0.28"/><circle cx="343.3" cy="289.6" r="2.4" fill-opacity="0.28"/><circle cx="316.5" cy="224.5" r="2.4" fill-opacity="0.28"/><circle cx="314.1" cy="314.0" r="2.4" fill-opacity="0.28"/><circle cx="288.0" cy="245.6" r="2.4" fill-opacity="0.28"/><circle cx="348.1" cy="254.3" r="2.4" fill-opacity="0.28"/><circle cx="296.2" cy="319.4" r="2.4" fill-opacity="0.28"/><circle cx="336.5" cy="227.7" r="2.4" fill-opacity="0.28"/><circle cx="339.0" cy="251.2" r="2.4" fill-opacity="0.28"/><circle cx="270.0" cy="261.1" r="2.4" fill-opacity="0.28"/><circle cx="316.0" cy="321.2" r="2.4" fill-opacity="0.28"/><circle cx="316.7" cy="273.3" r="2.4" fill-opacity="0.28"/><circle cx="278.7" cy="272.9" r="2.4" fill-opacity="0.28"/><circle cx="321.2" cy="311.7" r="2.4" fill-opacity="0.28"/><circle cx="322.7" cy="293.9" r="2.4" fill-opacity="0.28"/><circle cx="266.8" cy="288.8" r="2.4" fill-opacity="0.28"/><circle cx="282.8" cy="257.3" r="2.4" fill-opacity="0.28"/><circle cx="282.4" cy="262.7" r="2.4" fill-opacity="0.28"/><circle cx="276.1" cy="305.1" r="2.4" fill-opacity="0.28"/><circle cx="310.4" cy="304.7" r="2.4" fill-opacity="0.28"/><circle cx="295.7" cy="306.0" r="2.4" fill-opacity="0.28"/><circle cx="342.8" cy="235.0" r="2.4" fill-opacity="0.28"/><circle cx="345.3" cy="244.5" r="2.4" fill-opacity="0.28"/><circle cx="274.4" cy="293.0" r="2.4" fill-opacity="0.28"/><circle cx="343.7" cy="274.7" r="2.4" fill-opacity="0.28"/><circle cx="295.1" cy="316.7" r="2.4" fill-opacity="0.28"/><circle cx="292.8" cy="311.2" r="2.4" fill-opacity="0.28"/><circle cx="319.7" cy="234.3" r="2.4" fill-opacity="0.28"/><circle cx="349.3" cy="295.7" r="2.4" fill-opacity="0.28"/><circle cx="347.1" cy="249.9" r="2.4" fill-opacity="0.28"/><circle cx="284.0" cy="249.9" r="2.4" fill-opacity="0.28"/><circle cx="291.1" cy="275.6" r="2.4" fill-opacity="0.28"/><circle cx="343.3" cy="244.0" r="2.4" fill-opacity="0.28"/><circle cx="349.1" cy="289.7" r="2.4" fill-opacity="0.28"/><circle cx="336.2" cy="258.6" r="2.4" fill-opacity="0.28"/><circle cx="322.8" cy="243.1" r="2.4" fill-opacity="0.28"/><circle cx="281.6" cy="274.4" r="2.4" fill-opacity="0.28"/><circle cx="282.4" cy="314.4" r="2.4" fill-opacity="0.28"/><circle cx="300.7" cy="237.5" r="2.4" fill-opacity="0.28"/><circle cx="323.4" cy="295.0" r="2.4" fill-opacity="0.28"/><circle cx="289.0" cy="311.7" r="2.4" fill-opacity="0.28"/></g>
<g filter="url(#soft)"><circle cx="277.8" cy="251.9" r="1.6" fill="#5448c4" fill-opacity="0.76"/><circle cx="344.2" cy="240.8" r="1.4" fill="#7c70dc" fill-opacity="0.71"/><circle cx="274.8" cy="271.3" r="1.6" fill="#7c70dc" fill-opacity="0.66"/><circle cx="334.4" cy="257.8" r="1.0" fill="#6458d0" fill-opacity="0.50"/><circle cx="308.4" cy="234.0" r="1.4" fill="#5448c4" fill-opacity="0.50"/><circle cx="273.7" cy="265.1" r="0.8" fill="#6458d0" fill-opacity="0.39"/><circle cx="283.6" cy="248.2" r="1.3" fill="#6458d0" fill-opacity="0.39"/><circle cx="350.4" cy="266.0" r="1.7" fill="#7c70dc" fill-opacity="0.69"/><circle cx="339.3" cy="246.5" r="0.8" fill="#5448c4" fill-opacity="0.56"/><circle cx="274.5" cy="295.6" r="1.5" fill="#5448c4" fill-opacity="0.48"/><circle cx="346.8" cy="237.7" r="1.4" fill="#7c70dc" fill-opacity="0.76"/><circle cx="283.3" cy="249.3" r="1.6" fill="#6458d0" fill-opacity="0.49"/><circle cx="335.9" cy="269.0" r="1.6" fill="#7c70dc" fill-opacity="0.53"/><circle cx="324.2" cy="242.1" r="1.4" fill="#7c70dc" fill-opacity="0.48"/><circle cx="330.5" cy="226.6" r="1.3" fill="#7c70dc" fill-opacity="0.78"/><circle cx="296.2" cy="300.4" r="1.5" fill="#7c70dc" fill-opacity="0.34"/><circle cx="336.9" cy="301.8" r="1.4" fill="#5448c4" fill-opacity="0.43"/><circle cx="272.3" cy="255.7" r="1.6" fill="#5448c4" fill-opacity="0.69"/><circle cx="348.9" cy="253.7" r="1.1" fill="#7c70dc" fill-opacity="0.76"/><circle cx="316.1" cy="233.3" r="1.4" fill="#7c70dc" fill-opacity="0.70"/><circle cx="274.2" cy="265.9" r="1.3" fill="#5448c4" fill-opacity="0.31"/><circle cx="345.9" cy="298.4" r="1.5" fill="#6458d0" fill-opacity="0.69"/><circle cx="290.6" cy="313.3" r="1.0" fill="#5448c4" fill-opacity="0.48"/><circle cx="301.9" cy="296.2" r="1.0" fill="#7c70dc" fill-opacity="0.52"/><circle cx="269.9" cy="270.7" r="1.6" fill="#5448c4" fill-opacity="0.32"/><circle cx="311.7" cy="226.0" r="1.0" fill="#7c70dc" fill-opacity="0.57"/><circle cx="337.1" cy="232.3" r="1.4" fill="#5448c4" fill-opacity="0.72"/><circle cx="355.4" cy="254.4" r="1.2" fill="#7c70dc" fill-opacity="0.55"/><circle cx="315.4" cy="220.7" r="0.9" fill="#7c70dc" fill-opacity="0.35"/><circle cx="287.6" cy="279.1" r="1.5" fill="#6458d0" fill-opacity="0.76"/><circle cx="275.9" cy="285.5" r="1.2" fill="#6458d0" fill-opacity="0.59"/><circle cx="328.2" cy="240.6" r="1.0" fill="#7c70dc" fill-opacity="0.35"/><circle cx="317.2" cy="303.5" r="1.4" fill="#7c70dc" fill-opacity="0.72"/><circle cx="347.2" cy="254.8" r="1.7" fill="#6458d0" fill-opacity="0.54"/><circle cx="335.4" cy="283.7" r="1.2" fill="#7c70dc" fill-opacity="0.65"/><circle cx="326.1" cy="233.4" r="0.9" fill="#5448c4" fill-opacity="0.79"/><circle cx="306.2" cy="301.5" r="1.5" fill="#6458d0" fill-opacity="0.57"/><circle cx="273.7" cy="256.9" r="0.9" fill="#7c70dc" fill-opacity="0.42"/><circle cx="325.9" cy="283.8" r="0.9" fill="#7c70dc" fill-opacity="0.74"/><circle cx="314.7" cy="322.0" r="0.9" fill="#6458d0" fill-opacity="0.64"/><circle cx="336.3" cy="243.6" r="1.5" fill="#7c70dc" fill-opacity="0.32"/><circle cx="323.6" cy="248.9" r="0.9" fill="#7c70dc" fill-opacity="0.55"/><circle cx="277.1" cy="311.8" r="1.1" fill="#5448c4" fill-opacity="0.60"/><circle cx="296.0" cy="303.1" r="1.4" fill="#6458d0" fill-opacity="0.60"/><circle cx="313.3" cy="309.7" r="1.6" fill="#5448c4" fill-opacity="0.57"/><circle cx="346.3" cy="265.5" r="1.1" fill="#5448c4" fill-opacity="0.42"/><circle cx="344.8" cy="250.7" r="1.4" fill="#6458d0" fill-opacity="0.38"/><circle cx="288.0" cy="307.5" r="1.7" fill="#6458d0" fill-opacity="0.76"/><circle cx="352.8" cy="286.4" r="0.9" fill="#5448c4" fill-opacity="0.64"/><circle cx="315.3" cy="318.8" r="1.5" fill="#7c70dc" fill-opacity="0.34"/><circle cx="296.1" cy="309.5" r="1.1" fill="#7c70dc" fill-opacity="0.40"/><circle cx="338.2" cy="296.4" r="1.7" fill="#7c70dc" fill-opacity="0.33"/><circle cx="330.7" cy="270.4" r="1.6" fill="#5448c4" fill-opacity="0.30"/><circle cx="286.8" cy="248.9" r="1.4" fill="#7c70dc" fill-opacity="0.74"/><circle cx="307.4" cy="316.0" r="1.5" fill="#5448c4" fill-opacity="0.41"/><circle cx="308.6" cy="322.3" r="1.1" fill="#6458d0" fill-opacity="0.79"/><circle cx="332.3" cy="244.0" r="1.4" fill="#6458d0" fill-opacity="0.35"/><circle cx="267.6" cy="291.9" r="0.9" fill="#5448c4" fill-opacity="0.73"/><circle cx="312.8" cy="319.5" r="1.2" fill="#5448c4" fill-opacity="0.73"/><circle cx="299.4" cy="297.3" r="1.5" fill="#7c70dc" fill-opacity="0.37"/><circle cx="266.7" cy="268.8" r="1.4" fill="#6458d0" fill-opacity="0.37"/><circle cx="299.9" cy="307.9" r="1.0" fill="#6458d0" fill-opacity="0.57"/><circle cx="315.7" cy="225.7" r="1.2" fill="#7c70dc" fill-opacity="0.63"/><circle cx="325.4" cy="258.7" r="0.9" fill="#7c70dc" fill-opacity="0.46"/><circle cx="311.1" cy="312.1" r="1.0" fill="#7c70dc" fill-opacity="0.60"/><circle cx="278.0" cy="277.2" r="1.3" fill="#7c70dc" fill-opacity="0.69"/><circle cx="316.8" cy="296.7" r="1.4" fill="#5448c4" fill-opacity="0.50"/><circle cx="301.3" cy="246.5" r="1.4" fill="#6458d0" fill-opacity="0.34"/><circle cx="298.0" cy="311.0" r="1.3" fill="#5448c4" fill-opacity="0.42"/><circle cx="287.7" cy="235.7" r="1.1" fill="#6458d0" fill-opacity="0.52"/><circle cx="298.8" cy="234.5" r="0.9" fill="#5448c4" fill-opacity="0.69"/><circle cx="303.1" cy="317.2" r="1.1" fill="#6458d0" fill-opacity="0.66"/><circle cx="277.1" cy="295.5" r="1.3" fill="#5448c4" fill-opacity="0.57"/><circle cx="303.1" cy="303.4" r="0.9" fill="#7c70dc" fill-opacity="0.45"/><circle cx="297.0" cy="235.3" r="1.3" fill="#7c70dc" fill-opacity="0.65"/><circle cx="354.3" cy="257.4" r="1.6" fill="#7c70dc" fill-opacity="0.47"/><circle cx="275.0" cy="256.2" r="1.5" fill="#5448c4" fill-opacity="0.30"/><circle cx="277.4" cy="304.7" r="1.2" fill="#7c70dc" fill-opacity="0.37"/><circle cx="323.7" cy="240.7" r="0.8" fill="#7c70dc" fill-opacity="0.31"/><circle cx="343.1" cy="284.7" r="1.6" fill="#7c70dc" fill-opacity="0.69"/><circle cx="301.2" cy="232.6" r="1.4" fill="#6458d0" fill-opacity="0.70"/><circle cx="289.4" cy="311.8" r="1.2" fill="#6458d0" fill-opacity="0.63"/><circle cx="337.7" cy="305.8" r="1.2" fill="#6458d0" fill-opacity="0.49"/><circle cx="266.8" cy="281.0" r="1.3" fill="#5448c4" fill-opacity="0.30"/><circle cx="326.5" cy="241.1" r="1.0" fill="#6458d0" fill-opacity="0.33"/><circle cx="324.2" cy="237.2" r="1.3" fill="#6458d0" fill-opacity="0.61"/><circle cx="322.8" cy="224.2" r="1.6" fill="#6458d0" fill-opacity="0.68"/><circle cx="327.3" cy="315.4" r="0.9" fill="#6458d0" fill-opacity="0.56"/><circle cx="319.5" cy="271.6" r="1.2" fill="#7c70dc" fill-opacity="0.62"/><circle cx="337.2" cy="287.1" r="1.0" fill="#7c70dc" fill-opacity="0.80"/><circle cx="314.1" cy="315.6" r="1.0" fill="#5448c4" fill-opacity="0.52"/><circle cx="289.7" cy="302.2" r="1.4" fill="#6458d0" fill-opacity="0.67"/><circle cx="270.5" cy="281.8" r="1.4" fill="#7c70dc" fill-opacity="0.73"/><circle cx="301.3" cy="279.1" r="1.0" fill="#7c70dc" fill-opacity="0.67"/><circle cx="333.4" cy="252.9" r="1.5" fill="#5448c4" fill-opacity="0.74"/><circle cx="324.2" cy="315.2" r="1.1" fill="#7c70dc" fill-opacity="0.76"/><circle cx="275.9" cy="283.4" r="1.6" fill="#7c70dc" fill-opacity="0.74"/><circle cx="331.6" cy="276.7" r="1.5" fill="#5448c4" fill-opacity="0.53"/><circle cx="270.5" cy="274.7" r="1.3" fill="#6458d0" fill-opacity="0.46"/><circle cx="278.9" cy="290.3" r="1.0" fill="#6458d0" fill-opacity="0.38"/><circle cx="297.5" cy="303.4" r="1.3" fill="#7c70dc" fill-opacity="0.68"/><circle cx="315.4" cy="311.4" r="1.3" fill="#6458d0" fill-opacity="0.60"/><circle cx="303.4" cy="319.4" r="1.5" fill="#6458d0" fill-opacity="0.33"/><circle cx="286.9" cy="304.5" r="1.3" fill="#5448c4" fill-opacity="0.41"/><circle cx="268.4" cy="261.2" r="1.6" fill="#5448c4" fill-opacity="0.56"/><circle cx="311.6" cy="234.9" r="1.6" fill="#7c70dc" fill-opacity="0.60"/><circle cx="310.8" cy="285.7" r="1.4" fill="#5448c4" fill-opacity="0.35"/><circle cx="349.3" cy="251.2" r="1.6" fill="#5448c4" fill-opacity="0.68"/><circle cx="295.2" cy="306.2" r="1.5" fill="#6458d0" fill-opacity="0.48"/><circle cx="332.7" cy="268.0" r="1.6" fill="#5448c4" fill-opacity="0.51"/><circle cx="343.4" cy="242.6" r="1.0" fill="#6458d0" fill-opacity="0.40"/><circle cx="340.4" cy="281.4" r="0.9" fill="#5448c4" fill-opacity="0.64"/><circle cx="339.5" cy="255.6" r="1.0" fill="#6458d0" fill-opacity="0.62"/><circle cx="318.1" cy="316.4" r="1.6" fill="#7c70dc" fill-opacity="0.47"/><circle cx="339.0" cy="303.4" r="1.2" fill="#6458d0" fill-opacity="0.33"/><circle cx="278.6" cy="305.8" r="0.9" fill="#5448c4" fill-opacity="0.77"/><circle cx="283.7" cy="250.9" r="1.6" fill="#5448c4" fill-opacity="0.74"/><circle cx="273.7" cy="266.9" r="1.6" fill="#5448c4" fill-opacity="0.45"/><circle cx="272.2" cy="257.7" r="1.6" fill="#7c70dc" fill-opacity="0.51"/><circle cx="282.3" cy="274.7" r="1.1" fill="#6458d0" fill-opacity="0.46"/><circle cx="353.0" cy="271.3" r="1.2" fill="#7c70dc" fill-opacity="0.78"/><circle cx="340.9" cy="273.9" r="0.8" fill="#5448c4" fill-opacity="0.69"/><circle cx="320.0" cy="313.6" r="0.9" fill="#6458d0" fill-opacity="0.61"/><circle cx="321.4" cy="306.2" r="1.1" fill="#5448c4" fill-opacity="0.37"/><circle cx="316.9" cy="270.2" r="1.6" fill="#7c70dc" fill-opacity="0.68"/><circle cx="284.7" cy="289.7" r="1.7" fill="#6458d0" fill-opacity="0.51"/><circle cx="355.3" cy="257.7" r="1.1" fill="#7c70dc" fill-opacity="0.40"/><circle cx="279.3" cy="250.9" r="1.0" fill="#5448c4" fill-opacity="0.61"/><circle cx="336.7" cy="257.9" r="0.9" fill="#6458d0" fill-opacity="0.62"/><circle cx="330.5" cy="299.8" r="0.9" fill="#7c70dc" fill-opacity="0.71"/><circle cx="338.8" cy="262.6" r="1.6" fill="#5448c4" fill-opacity="0.49"/><circle cx="337.7" cy="281.5" r="1.7" fill="#6458d0" fill-opacity="0.66"/><circle cx="349.8" cy="244.9" r="1.2" fill="#6458d0" fill-opacity="0.54"/><circle cx="284.0" cy="284.8" r="0.9" fill="#7c70dc" fill-opacity="0.30"/><circle cx="288.0" cy="315.8" r="1.7" fill="#7c70dc" fill-opacity="0.77"/><circle cx="341.4" cy="299.4" r="0.9" fill="#6458d0" fill-opacity="0.55"/><circle cx="330.6" cy="305.0" r="1.6" fill="#6458d0" fill-opacity="0.39"/><circle cx="329.8" cy="250.9" r="1.1" fill="#5448c4" fill-opacity="0.54"/><circle cx="272.1" cy="280.5" r="1.0" fill="#5448c4" fill-opacity="0.55"/><circle cx="299.4" cy="301.0" r="1.6" fill="#6458d0" fill-opacity="0.51"/><circle cx="338.8" cy="227.8" r="0.9" fill="#7c70dc" fill-opacity="0.31"/><circle cx="311.4" cy="308.9" r="1.2" fill="#5448c4" fill-opacity="0.34"/><circle cx="306.2" cy="313.6" r="0.8" fill="#6458d0" fill-opacity="0.44"/><circle cx="272.0" cy="298.4" r="1.1" fill="#7c70dc" fill-opacity="0.39"/><circle cx="303.1" cy="303.7" r="1.6" fill="#5448c4" fill-opacity="0.42"/><circle cx="284.8" cy="305.2" r="1.1" fill="#5448c4" fill-opacity="0.70"/><circle cx="265.8" cy="267.7" r="1.0" fill="#6458d0" fill-opacity="0.40"/><circle cx="337.4" cy="274.8" r="1.0" fill="#7c70dc" fill-opacity="0.49"/><circle cx="315.0" cy="305.0" r="1.4" fill="#5448c4" fill-opacity="0.68"/><circle cx="292.8" cy="290.7" r="1.2" fill="#6458d0" fill-opacity="0.38"/><circle cx="291.9" cy="296.2" r="1.1" fill="#6458d0" fill-opacity="0.45"/><circle cx="283.0" cy="277.1" r="1.4" fill="#7c70dc" fill-opacity="0.53"/><circle cx="345.3" cy="265.7" r="1.1" fill="#5448c4" fill-opacity="0.61"/><circle cx="292.4" cy="268.4" r="1.6" fill="#5448c4" fill-opacity="0.41"/><circle cx="275.0" cy="300.1" r="0.9" fill="#5448c4" fill-opacity="0.51"/><circle cx="286.2" cy="307.4" r="0.9" fill="#7c70dc" fill-opacity="0.42"/><circle cx="346.0" cy="240.9" r="1.3" fill="#7c70dc" fill-opacity="0.53"/><circle cx="299.7" cy="236.6" r="1.4" fill="#6458d0" fill-opacity="0.52"/><circle cx="274.3" cy="280.6" r="1.2" fill="#6458d0" fill-opacity="0.54"/><circle cx="316.7" cy="307.7" r="0.8" fill="#7c70dc" fill-opacity="0.49"/><circle cx="280.7" cy="301.9" r="1.3" fill="#5448c4" fill-opacity="0.49"/><circle cx="330.8" cy="285.3" r="1.4" fill="#5448c4" fill-opacity="0.70"/><circle cx="343.6" cy="292.3" r="0.8" fill="#7c70dc" fill-opacity="0.62"/><circle cx="331.4" cy="300.5" r="1.1" fill="#6458d0" fill-opacity="0.45"/><circle cx="321.9" cy="296.7" r="1.7" fill="#6458d0" fill-opacity="0.77"/><circle cx="348.1" cy="247.1" r="0.9" fill="#6458d0" fill-opacity="0.48"/><circle cx="354.2" cy="266.0" r="1.6" fill="#5448c4" fill-opacity="0.60"/><circle cx="341.8" cy="262.9" r="1.4" fill="#6458d0" fill-opacity="0.71"/><circle cx="295.6" cy="250.8" r="1.6" fill="#7c70dc" fill-opacity="0.54"/><circle cx="327.5" cy="316.2" r="1.5" fill="#6458d0" fill-opacity="0.68"/><circle cx="274.2" cy="290.5" r="1.2" fill="#7c70dc" fill-opacity="0.35"/><circle cx="303.6" cy="309.7" r="1.1" fill="#6458d0" fill-opacity="0.31"/><circle cx="334.8" cy="229.4" r="1.2" fill="#7c70dc" fill-opacity="0.63"/><circle cx="308.3" cy="310.4" r="1.5" fill="#7c70dc" fill-opacity="0.70"/><circle cx="349.5" cy="282.3" r="0.9" fill="#7c70dc" fill-opacity="0.53"/><circle cx="341.6" cy="299.0" r="1.1" fill="#5448c4" fill-opacity="0.46"/><circle cx="292.3" cy="273.2" r="1.3" fill="#7c70dc" fill-opacity="0.47"/><circle cx="284.5" cy="297.3" r="1.0" fill="#5448c4" fill-opacity="0.53"/><circle cx="330.1" cy="255.0" r="1.7" fill="#6458d0" fill-opacity="0.57"/><circle cx="281.6" cy="311.5" r="1.1" fill="#6458d0" fill-opacity="0.53"/><circle cx="342.5" cy="262.0" r="1.2" fill="#6458d0" fill-opacity="0.43"/><circle cx="340.6" cy="279.9" r="1.4" fill="#7c70dc" fill-opacity="0.62"/><circle cx="304.0" cy="324.0" r="1.1" fill="#6458d0" fill-opacity="0.47"/><circle cx="272.8" cy="274.5" r="1.6" fill="#7c70dc" fill-opacity="0.33"/><circle cx="292.6" cy="250.0" r="0.9" fill="#7c70dc" fill-opacity="0.41"/><circle cx="329.2" cy="279.5" r="0.9" fill="#7c70dc" fill-opacity="0.51"/><circle cx="270.2" cy="253.8" r="0.9" fill="#6458d0" fill-opacity="0.79"/><circle cx="330.8" cy="305.8" r="1.4" fill="#6458d0" fill-opacity="0.79"/><circle cx="330.1" cy="244.2" r="1.3" fill="#5448c4" fill-opacity="0.52"/><circle cx="302.5" cy="231.2" r="0.9" fill="#5448c4" fill-opacity="0.33"/><circle cx="287.5" cy="317.3" r="1.4" fill="#5448c4" fill-opacity="0.54"/><circle cx="328.8" cy="263.4" r="1.3" fill="#5448c4" fill-opacity="0.42"/><circle cx="284.4" cy="265.7" r="1.5" fill="#5448c4" fill-opacity="0.51"/><circle cx="340.1" cy="269.4" r="1.7" fill="#7c70dc" fill-opacity="0.59"/><circle cx="343.8" cy="251.1" r="1.0" fill="#7c70dc" fill-opacity="0.47"/><circle cx="354.5" cy="282.8" r="1.3" fill="#6458d0" fill-opacity="0.58"/><circle cx="317.9" cy="294.4" r="1.2" fill="#5448c4" fill-opacity="0.55"/><circle cx="342.2" cy="256.0" r="1.1" fill="#5448c4" fill-opacity="0.43"/><circle cx="270.7" cy="274.1" r="1.5" fill="#7c70dc" fill-opacity="0.33"/><circle cx="334.1" cy="256.4" r="1.6" fill="#6458d0" fill-opacity="0.56"/><circle cx="298.1" cy="235.0" r="1.1" fill="#5448c4" fill-opacity="0.76"/><circle cx="322.7" cy="291.5" r="1.7" fill="#6458d0" fill-opacity="0.38"/><circle cx="339.1" cy="248.1" r="1.4" fill="#5448c4" fill-opacity="0.57"/><circle cx="351.1" cy="271.6" r="1.0" fill="#5448c4" fill-opacity="0.59"/><circle cx="334.9" cy="243.6" r="1.1" fill="#5448c4" fill-opacity="0.33"/><circle cx="347.0" cy="253.4" r="1.0" fill="#6458d0" fill-opacity="0.63"/><circle cx="275.8" cy="277.1" r="1.4" fill="#5448c4" fill-opacity="0.52"/><circle cx="330.9" cy="277.7" r="1.7" fill="#5448c4" fill-opacity="0.62"/><circle cx="341.7" cy="285.0" r="1.0" fill="#7c70dc" fill-opacity="0.77"/><circle cx="296.2" cy="229.8" r="1.4" fill="#6458d0" fill-opacity="0.78"/><circle cx="276.8" cy="278.8" r="1.5" fill="#6458d0" fill-opacity="0.33"/><circle cx="317.1" cy="324.0" r="1.1" fill="#7c70dc" fill-opacity="0.48"/><circle cx="344.9" cy="270.9" r="1.0" fill="#6458d0" fill-opacity="0.72"/><circle cx="327.9" cy="252.4" r="1.5" fill="#6458d0" fill-opacity="0.32"/><circle cx="343.1" cy="279.3" r="1.6" fill="#7c70dc" fill-opacity="0.36"/><circle cx="329.0" cy="236.1" r="1.3" fill="#6458d0" fill-opacity="0.71"/><circle cx="281.5" cy="295.0" r="1.6" fill="#6458d0" fill-opacity="0.56"/><circle cx="289.6" cy="310.4" r="1.5" fill="#6458d0" fill-opacity="0.54"/><circle cx="310.8" cy="295.4" r="1.2" fill="#5448c4" fill-opacity="0.80"/><circle cx="332.3" cy="233.8" r="0.9" fill="#5448c4" fill-opacity="0.72"/><circle cx="286.8" cy="315.7" r="1.1" fill="#7c70dc" fill-opacity="0.47"/><circle cx="283.0" cy="264.4" r="1.0" fill="#7c70dc" fill-opacity="0.55"/><circle cx="288.9" cy="286.1" r="1.1" fill="#7c70dc" fill-opacity="0.72"/><circle cx="327.6" cy="287.0" r="1.3" fill="#6458d0" fill-opacity="0.59"/><circle cx="275.9" cy="292.2" r="1.4" fill="#6458d0" fill-opacity="0.47"/><circle cx="297.8" cy="232.7" r="1.2" fill="#6458d0" fill-opacity="0.51"/><circle cx="321.4" cy="260.4" r="1.6" fill="#7c70dc" fill-opacity="0.49"/><circle cx="303.3" cy="318.7" r="1.5" fill="#7c70dc" fill-opacity="0.69"/><circle cx="336.4" cy="264.1" r="0.9" fill="#6458d0" fill-opacity="0.62"/><circle cx="344.2" cy="277.3" r="1.6" fill="#7c70dc" fill-opacity="0.32"/><circle cx="285.2" cy="262.0" r="1.0" fill="#6458d0" fill-opacity="0.32"/><circle cx="281.9" cy="276.1" r="0.9" fill="#6458d0" fill-opacity="0.46"/><circle cx="289.1" cy="257.1" r="1.5" fill="#7c70dc" fill-opacity="0.52"/><circle cx="341.0" cy="279.7" r="1.1" fill="#5448c4" fill-opacity="0.46"/><circle cx="278.8" cy="285.5" r="1.0" fill="#6458d0" fill-opacity="0.31"/><circle cx="302.0" cy="236.3" r="1.5" fill="#6458d0" fill-opacity="0.61"/><circle cx="339.1" cy="260.1" r="1.5" fill="#7c70dc" fill-opacity="0.51"/><circle cx="275.9" cy="262.6" r="1.3" fill="#6458d0" fill-opacity="0.41"/><circle cx="347.5" cy="300.0" r="1.3" fill="#5448c4" fill-opacity="0.56"/><circle cx="350.9" cy="246.7" r="1.3" fill="#7c70dc" fill-opacity="0.77"/><circle cx="325.1" cy="226.9" r="1.5" fill="#5448c4" fill-opacity="0.65"/><circle cx="345.0" cy="266.5" r="1.2" fill="#5448c4" fill-opacity="0.62"/><circle cx="330.6" cy="312.4" r="1.6" fill="#6458d0" fill-opacity="0.58"/><circle cx="346.2" cy="251.8" r="1.6" fill="#6458d0" fill-opacity="0.41"/><circle cx="334.4" cy="231.7" r="1.0" fill="#6458d0" fill-opacity="0.40"/><circle cx="281.3" cy="268.2" r="1.4" fill="#7c70dc" fill-opacity="0.50"/><circle cx="277.9" cy="267.5" r="1.4" fill="#6458d0" fill-opacity="0.71"/><circle cx="340.9" cy="239.4" r="1.3" fill="#5448c4" fill-opacity="0.40"/><circle cx="286.7" cy="253.6" r="1.3" fill="#5448c4" fill-opacity="0.62"/><circle cx="277.6" cy="250.3" r="1.7" fill="#6458d0" fill-opacity="0.61"/><circle cx="289.9" cy="249.5" r="1.1" fill="#6458d0" fill-opacity="0.48"/><circle cx="334.4" cy="232.3" r="1.7" fill="#5448c4" fill-opacity="0.70"/><circle cx="339.8" cy="258.1" r="1.2" fill="#5448c4" fill-opacity="0.33"/><circle cx="318.5" cy="324.2" r="1.6" fill="#5448c4" fill-opacity="0.39"/><circle cx="301.4" cy="313.9" r="1.2" fill="#7c70dc" fill-opacity="0.67"/><circle cx="312.5" cy="245.4" r="0.9" fill="#5448c4" fill-opacity="0.72"/><circle cx="271.7" cy="292.9" r="1.5" fill="#5448c4" fill-opacity="0.80"/><circle cx="339.8" cy="286.8" r="0.9" fill="#6458d0" fill-opacity="0.77"/><circle cx="273.2" cy="283.4" r="1.1" fill="#5448c4" fill-opacity="0.37"/><circle cx="269.5" cy="298.4" r="1.6" fill="#5448c4" fill-opacity="0.37"/><circle cx="305.3" cy="228.4" r="1.5" fill="#6458d0" fill-opacity="0.61"/><circle cx="294.4" cy="321.5" r="0.9" fill="#7c70dc" fill-opacity="0.68"/><circle cx="276.5" cy="302.1" r="1.6" fill="#5448c4" fill-opacity="0.32"/><circle cx="344.0" cy="252.3" r="1.4" fill="#7c70dc" fill-opacity="0.57"/><circle cx="330.8" cy="304.5" r="1.2" fill="#5448c4" fill-opacity="0.76"/><circle cx="275.8" cy="302.2" r="0.8" fill="#6458d0" fill-opacity="0.48"/><circle cx="291.5" cy="234.2" r="1.1" fill="#5448c4" fill-opacity="0.39"/><circle cx="351.7" cy="264.3" r="0.8" fill="#5448c4" fill-opacity="0.50"/><circle cx="275.9" cy="295.7" r="1.4" fill="#7c70dc" fill-opacity="0.77"/><circle cx="330.6" cy="301.2" r="0.9" fill="#5448c4" fill-opacity="0.56"/><circle cx="286.4" cy="309.9" r="1.6" fill="#6458d0" fill-opacity="0.55"/><circle cx="314.7" cy="321.8" r="1.4" fill="#5448c4" fill-opacity="0.61"/><circle cx="267.4" cy="278.5" r="1.0" fill="#6458d0" fill-opacity="0.76"/><circle cx="309.5" cy="282.9" r="1.7" fill="#5448c4" fill-opacity="0.34"/><circle cx="350.4" cy="265.9" r="0.9" fill="#7c70dc" fill-opacity="0.46"/><circle cx="309.0" cy="227.9" r="1.3" fill="#7c70dc" fill-opacity="0.59"/><circle cx="292.6" cy="244.3" r="1.1" fill="#5448c4" fill-opacity="0.55"/><circle cx="336.1" cy="243.9" r="1.2" fill="#5448c4" fill-opacity="0.37"/><circle cx="331.5" cy="239.2" r="1.0" fill="#5448c4" fill-opacity="0.72"/><circle cx="266.9" cy="277.7" r="1.7" fill="#7c70dc" fill-opacity="0.32"/><circle cx="305.6" cy="320.6" r="1.4" fill="#5448c4" fill-opacity="0.54"/><circle cx="314.0" cy="280.9" r="1.5" fill="#5448c4" fill-opacity="0.67"/><circle cx="321.7" cy="224.1" r="1.1" fill="#6458d0" fill-opacity="0.43"/><circle cx="344.6" cy="289.2" r="1.3" fill="#6458d0" fill-opacity="0.52"/><circle cx="288.2" cy="248.0" r="1.2" fill="#7c70dc" fill-opacity="0.59"/><circle cx="289.4" cy="235.5" r="1.4" fill="#5448c4" fill-opacity="0.43"/><circle cx="297.9" cy="321.3" r="1.0" fill="#6458d0" fill-opacity="0.42"/><circle cx="267.6" cy="264.7" r="1.6" fill="#6458d0" fill-opacity="0.49"/><circle cx="289.2" cy="292.2" r="1.0" fill="#7c70dc" fill-opacity="0.54"/><circle cx="347.1" cy="272.4" r="1.2" fill="#5448c4" fill-opacity="0.34"/><circle cx="349.0" cy="260.8" r="1.2" fill="#6458d0" fill-opacity="0.32"/><circle cx="317.8" cy="298.5" r="1.2" fill="#7c70dc" fill-opacity="0.59"/><circle cx="281.3" cy="278.4" r="1.4" fill="#6458d0" fill-opacity="0.68"/><circle cx="282.0" cy="305.1" r="1.6" fill="#6458d0" fill-opacity="0.49"/><circle cx="309.7" cy="296.1" r="0.8" fill="#6458d0" fill-opacity="0.62"/><circle cx="320.3" cy="227.0" r="1.7" fill="#5448c4" fill-opacity="0.30"/><circle cx="330.7" cy="243.9" r="1.5" fill="#6458d0" fill-opacity="0.46"/><circle cx="310.8" cy="320.4" r="1.4" fill="#5448c4" fill-opacity="0.78"/><circle cx="334.5" cy="304.8" r="1.2" fill="#5448c4" fill-opacity="0.79"/><circle cx="337.6" cy="236.1" r="1.0" fill="#5448c4" fill-opacity="0.49"/><circle cx="332.3" cy="265.1" r="1.2" fill="#7c70dc" fill-opacity="0.44"/><circle cx="295.1" cy="316.0" r="1.4" fill="#5448c4" fill-opacity="0.68"/><circle cx="272.4" cy="284.7" r="1.3" fill="#7c70dc" fill-opacity="0.56"/><circle cx="323.5" cy="284.6" r="1.3" fill="#6458d0" fill-opacity="0.57"/><circle cx="303.0" cy="306.4" r="0.9" fill="#5448c4" fill-opacity="0.36"/><circle cx="299.3" cy="315.7" r="1.3" fill="#5448c4" fill-opacity="0.36"/><circle cx="274.4" cy="285.3" r="1.1" fill="#7c70dc" fill-opacity="0.66"/><circle cx="317.4" cy="220.1" r="1.3" fill="#7c70dc" fill-opacity="0.56"/><circle cx="278.3" cy="274.3" r="1.0" fill="#6458d0" fill-opacity="0.72"/><circle cx="345.7" cy="249.9" r="1.7" fill="#5448c4" fill-opacity="0.43"/><circle cx="297.1" cy="243.3" r="1.6" fill="#7c70dc" fill-opacity="0.71"/><circle cx="339.0" cy="255.1" r="1.3" fill="#7c70dc" fill-opacity="0.64"/><circle cx="339.3" cy="234.0" r="1.0" fill="#5448c4" fill-opacity="0.38"/><circle cx="303.1" cy="305.7" r="1.2" fill="#7c70dc" fill-opacity="0.54"/><circle cx="267.4" cy="276.3" r="1.2" fill="#5448c4" fill-opacity="0.72"/><circle cx="287.1" cy="301.4" r="1.3" fill="#6458d0" fill-opacity="0.33"/><circle cx="330.3" cy="313.7" r="1.6" fill="#7c70dc" fill-opacity="0.77"/><circle cx="310.6" cy="312.9" r="1.1" fill="#5448c4" fill-opacity="0.32"/><circle cx="275.5" cy="270.3" r="1.1" fill="#5448c4" fill-opacity="0.50"/><circle cx="300.7" cy="269.0" r="1.2" fill="#5448c4" fill-opacity="0.54"/><circle cx="308.6" cy="308.8" r="1.4" fill="#7c70dc" fill-opacity="0.62"/><circle cx="324.2" cy="240.2" r="0.8" fill="#7c70dc" fill-opacity="0.50"/><circle cx="277.1" cy="256.9" r="1.1" fill="#5448c4" fill-opacity="0.31"/><circle cx="278.3" cy="246.8" r="1.0" fill="#7c70dc" fill-opacity="0.37"/><circle cx="308.7" cy="223.5" r="1.2" fill="#5448c4" fill-opacity="0.35"/><circle cx="290.2" cy="275.6" r="1.6" fill="#7c70dc" fill-opacity="0.78"/><circle cx="307.2" cy="306.8" r="1.0" fill="#7c70dc" fill-opacity="0.62"/><circle cx="290.8" cy="297.1" r="0.8" fill="#6458d0" fill-opacity="0.44"/><circle cx="289.5" cy="283.2" r="1.2" fill="#5448c4" fill-opacity="0.51"/><circle cx="289.6" cy="261.0" r="1.0" fill="#7c70dc" fill-opacity="0.39"/><circle cx="346.7" cy="283.0" r="1.5" fill="#6458d0" fill-opacity="0.74"/><circle cx="313.3" cy="301.0" r="1.3" fill="#6458d0" fill-opacity="0.51"/><circle cx="318.4" cy="294.9" r="1.2" fill="#6458d0" fill-opacity="0.38"/><circle cx="302.9" cy="226.8" r="1.4" fill="#6458d0" fill-opacity="0.59"/><circle cx="286.5" cy="316.8" r="1.4" fill="#6458d0" fill-opacity="0.46"/><circle cx="337.8" cy="272.8" r="1.2" fill="#5448c4" fill-opacity="0.77"/><circle cx="316.1" cy="299.2" r="1.4" fill="#5448c4" fill-opacity="0.64"/><circle cx="342.8" cy="268.9" r="1.1" fill="#7c70dc" fill-opacity="0.65"/><circle cx="328.6" cy="226.9" r="1.0" fill="#6458d0" fill-opacity="0.52"/><circle cx="340.3" cy="280.6" r="1.2" fill="#6458d0" fill-opacity="0.45"/><circle cx="271.8" cy="291.3" r="1.1" fill="#6458d0" fill-opacity="0.47"/><circle cx="336.3" cy="240.4" r="0.9" fill="#6458d0" fill-opacity="0.35"/><circle cx="320.6" cy="222.6" r="0.9" fill="#7c70dc" fill-opacity="0.38"/><circle cx="346.6" cy="290.4" r="1.2" fill="#5448c4" fill-opacity="0.59"/><circle cx="341.9" cy="297.2" r="1.2" fill="#5448c4" fill-opacity="0.49"/><circle cx="344.5" cy="244.4" r="1.1" fill="#6458d0" fill-opacity="0.67"/><circle cx="288.2" cy="250.1" r="1.3" fill="#7c70dc" fill-opacity="0.76"/><circle cx="303.0" cy="223.3" r="1.3" fill="#5448c4" fill-opacity="0.41"/><circle cx="290.8" cy="301.3" r="0.8" fill="#5448c4" fill-opacity="0.73"/><circle cx="267.7" cy="289.8" r="1.7" fill="#7c70dc" fill-opacity="0.78"/><circle cx="335.6" cy="233.0" r="1.5" fill="#5448c4" fill-opacity="0.74"/><circle cx="287.6" cy="318.6" r="1.4" fill="#6458d0" fill-opacity="0.37"/><circle cx="293.7" cy="263.5" r="0.9" fill="#7c70dc" fill-opacity="0.36"/><circle cx="302.0" cy="319.4" r="1.0" fill="#7c70dc" fill-opacity="0.48"/><circle cx="332.0" cy="294.3" r="1.5" fill="#5448c4" fill-opacity="0.56"/><circle cx="321.0" cy="303.2" r="1.6" fill="#6458d0" fill-opacity="0.62"/><circle cx="323.9" cy="224.1" r="1.0" fill="#5448c4" fill-opacity="0.66"/><circle cx="272.6" cy="253.2" r="1.1" fill="#5448c4" fill-opacity="0.63"/><circle cx="279.8" cy="300.4" r="1.3" fill="#6458d0" fill-opacity="0.43"/><circle cx="323.5" cy="308.5" r="1.4" fill="#7c70dc" fill-opacity="0.37"/><circle cx="346.1" cy="262.4" r="1.1" fill="#5448c4" fill-opacity="0.73"/><circle cx="339.3" cy="296.4" r="1.0" fill="#7c70dc" fill-opacity="0.67"/><circle cx="337.4" cy="290.6" r="1.2" fill="#5448c4" fill-opacity="0.79"/><circle cx="331.3" cy="300.7" r="0.8" fill="#7c70dc" fill-opacity="0.78"/><circle cx="284.3" cy="314.5" r="1.5" fill="#7c70dc" fill-opacity="0.64"/><circle cx="322.8" cy="314.6" r="1.4" fill="#7c70dc" fill-opacity="0.46"/><circle cx="349.6" cy="294.5" r="0.9" fill="#5448c4" fill-opacity="0.63"/><circle cx="297.3" cy="233.4" r="1.5" fill="#6458d0" fill-opacity="0.48"/><circle cx="287.1" cy="317.5" r="1.5" fill="#6458d0" fill-opacity="0.51"/><circle cx="341.0" cy="281.9" r="1.7" fill="#6458d0" fill-opacity="0.65"/><circle cx="300.1" cy="307.1" r="1.6" fill="#5448c4" fill-opacity="0.48"/><circle cx="295.4" cy="311.5" r="0.9" fill="#5448c4" fill-opacity="0.77"/><circle cx="285.9" cy="266.1" r="1.4" fill="#6458d0" fill-opacity="0.64"/><circle cx="292.8" cy="232.6" r="1.6" fill="#5448c4" fill-opacity="0.48"/><circle cx="283.9" cy="255.3" r="0.8" fill="#6458d0" fill-opacity="0.63"/><circle cx="343.3" cy="234.7" r="1.5" fill="#7c70dc" fill-opacity="0.59"/><circle cx="349.7" cy="291.2" r="0.9" fill="#5448c4" fill-opacity="0.49"/><circle cx="304.7" cy="228.8" r="0.9" fill="#5448c4" fill-opacity="0.39"/><circle cx="295.5" cy="315.2" r="0.9" fill="#5448c4" fill-opacity="0.76"/><circle cx="344.7" cy="258.1" r="1.2" fill="#5448c4" fill-opacity="0.39"/><circle cx="268.0" cy="264.7" r="0.9" fill="#6458d0" fill-opacity="0.36"/><circle cx="342.5" cy="242.6" r="0.9" fill="#6458d0" fill-opacity="0.77"/><circle cx="298.7" cy="321.4" r="1.0" fill="#6458d0" fill-opacity="0.70"/><circle cx="300.6" cy="316.0" r="0.8" fill="#6458d0" fill-opacity="0.60"/><circle cx="291.6" cy="314.9" r="1.3" fill="#5448c4" fill-opacity="0.41"/><circle cx="338.8" cy="269.2" r="1.2" fill="#7c70dc" fill-opacity="0.40"/><circle cx="311.1" cy="315.9" r="1.1" fill="#7c70dc" fill-opacity="0.72"/><circle cx="309.7" cy="312.9" r="1.4" fill="#5448c4" fill-opacity="0.35"/><circle cx="304.2" cy="300.8" r="1.4" fill="#7c70dc" fill-opacity="0.47"/><circle cx="331.2" cy="269.2" r="1.2" fill="#6458d0" fill-opacity="0.40"/><circle cx="320.6" cy="300.3" r="1.3" fill="#6458d0" fill-opacity="0.53"/><circle cx="283.9" cy="308.4" r="0.9" fill="#5448c4" fill-opacity="0.77"/><circle cx="283.5" cy="299.1" r="0.9" fill="#6458d0" fill-opacity="0.42"/><circle cx="352.4" cy="253.3" r="1.4" fill="#5448c4" fill-opacity="0.57"/><circle cx="284.2" cy="255.2" r="1.3" fill="#6458d0" fill-opacity="0.59"/><circle cx="321.9" cy="227.2" r="1.2" fill="#6458d0" fill-opacity="0.73"/><circle cx="331.6" cy="273.3" r="1.2" fill="#7c70dc" fill-opacity="0.73"/><circle cx="288.2" cy="268.9" r="1.3" fill="#6458d0" fill-opacity="0.41"/><circle cx="288.6" cy="252.0" r="1.1" fill="#5448c4" fill-opacity="0.73"/><circle cx="350.6" cy="262.9" r="1.4" fill="#5448c4" fill-opacity="0.52"/><circle cx="280.6" cy="262.6" r="1.0" fill="#5448c4" fill-opacity="0.47"/><circle cx="266.0" cy="282.5" r="1.5" fill="#7c70dc" fill-opacity="0.57"/><circle cx="332.6" cy="276.8" r="1.3" fill="#6458d0" fill-opacity="0.35"/><circle cx="344.3" cy="238.1" r="1.1" fill="#5448c4" fill-opacity="0.58"/><circle cx="348.4" cy="248.8" r="0.9" fill="#7c70dc" fill-opacity="0.46"/><circle cx="299.5" cy="243.5" r="1.3" fill="#5448c4" fill-opacity="0.75"/><circle cx="275.6" cy="248.0" r="1.3" fill="#7c70dc" fill-opacity="0.31"/><circle cx="333.4" cy="236.8" r="0.8" fill="#7c70dc" fill-opacity="0.50"/><circle cx="278.0" cy="293.4" r="1.4" fill="#7c70dc" fill-opacity="0.70"/><circle cx="311.3" cy="305.6" r="1.2" fill="#7c70dc" fill-opacity="0.58"/><circle cx="310.7" cy="221.1" r="0.9" fill="#5448c4" fill-opacity="0.62"/><circle cx="294.2" cy="291.8" r="1.0" fill="#5448c4" fill-opacity="0.43"/><circle cx="283.7" cy="310.6" r="1.6" fill="#5448c4" fill-opacity="0.30"/><circle cx="278.9" cy="306.7" r="1.4" fill="#6458d0" fill-opacity="0.31"/><circle cx="320.7" cy="226.7" r="1.3" fill="#5448c4" fill-opacity="0.44"/><circle cx="320.9" cy="313.6" r="1.0" fill="#6458d0" fill-opacity="0.54"/><circle cx="350.5" cy="269.8" r="1.2" fill="#7c70dc" fill-opacity="0.49"/><circle cx="340.2" cy="248.1" r="1.2" fill="#7c70dc" fill-opacity="0.62"/><circle cx="271.3" cy="277.3" r="1.1" fill="#7c70dc" fill-opacity="0.66"/><circle cx="343.4" cy="275.7" r="1.3" fill="#5448c4" fill-opacity="0.53"/><circle cx="348.1" cy="263.4" r="1.0" fill="#5448c4" fill-opacity="0.46"/><circle cx="276.7" cy="280.4" r="1.1" fill="#5448c4" fill-opacity="0.77"/><circle cx="291.0" cy="308.9" r="1.5" fill="#5448c4" fill-opacity="0.72"/><circle cx="344.6" cy="280.0" r="0.9" fill="#5448c4" fill-opacity="0.74"/><circle cx="301.0" cy="244.9" r="1.0" fill="#5448c4" fill-opacity="0.57"/><circle cx="327.8" cy="235.6" r="1.1" fill="#5448c4" fill-opacity="0.35"/><circle cx="351.1" cy="282.3" r="1.1" fill="#7c70dc" fill-opacity="0.55"/><circle cx="337.4" cy="276.1" r="1.5" fill="#6458d0" fill-opacity="0.41"/><circle cx="308.1" cy="321.8" r="1.3" fill="#7c70dc" fill-opacity="0.53"/><circle cx="302.4" cy="306.4" r="0.9" fill="#7c70dc" fill-opacity="0.34"/><circle cx="341.4" cy="272.5" r="1.5" fill="#5448c4" fill-opacity="0.40"/><circle cx="287.2" cy="310.7" r="1.2" fill="#5448c4" fill-opacity="0.63"/><circle cx="279.4" cy="245.8" r="1.1" fill="#5448c4" fill-opacity="0.60"/><circle cx="314.4" cy="219.0" r="1.3" fill="#6458d0" fill-opacity="0.36"/><circle cx="283.4" cy="261.2" r="1.0" fill="#5448c4" fill-opacity="0.49"/><circle cx="300.1" cy="296.5" r="1.6" fill="#7c70dc" fill-opacity="0.34"/><circle cx="344.0" cy="292.4" r="1.7" fill="#6458d0" fill-opacity="0.69"/><circle cx="268.7" cy="256.4" r="1.6" fill="#6458d0" fill-opacity="0.73"/><circle cx="353.7" cy="271.8" r="1.7" fill="#6458d0" fill-opacity="0.45"/><circle cx="325.9" cy="311.5" r="1.0" fill="#6458d0" fill-opacity="0.74"/><circle cx="314.9" cy="318.6" r="1.2" fill="#5448c4" fill-opacity="0.38"/><circle cx="302.7" cy="253.2" r="0.9" fill="#6458d0" fill-opacity="0.46"/><circle cx="336.9" cy="292.9" r="0.9" fill="#6458d0" fill-opacity="0.63"/><circle cx="313.3" cy="313.6" r="1.1" fill="#6458d0" fill-opacity="0.65"/><circle cx="300.5" cy="316.4" r="1.4" fill="#6458d0" fill-opacity="0.60"/><circle cx="294.5" cy="230.4" r="1.1" fill="#6458d0" fill-opacity="0.55"/><circle cx="282.5" cy="257.0" r="1.7" fill="#6458d0" fill-opacity="0.75"/><circle cx="345.6" cy="284.4" r="1.1" fill="#5448c4" fill-opacity="0.58"/><circle cx="275.9" cy="277.9" r="1.0" fill="#5448c4" fill-opacity="0.30"/><circle cx="281.9" cy="289.4" r="1.4" fill="#5448c4" fill-opacity="0.71"/><circle cx="318.0" cy="321.6" r="1.1" fill="#7c70dc" fill-opacity="0.57"/><circle cx="327.8" cy="242.4" r="0.9" fill="#7c70dc" fill-opacity="0.47"/><circle cx="324.3" cy="308.5" r="1.6" fill="#6458d0" fill-opacity="0.60"/><circle cx="285.1" cy="260.2" r="1.6" fill="#7c70dc" fill-opacity="0.40"/><circle cx="310.0" cy="313.6" r="0.9" fill="#6458d0" fill-opacity="0.52"/><circle cx="298.3" cy="253.5" r="1.3" fill="#7c70dc" fill-opacity="0.43"/><circle cx="344.6" cy="265.6" r="1.6" fill="#5448c4" fill-opacity="0.71"/><circle cx="280.2" cy="307.1" r="1.5" fill="#5448c4" fill-opacity="0.40"/><circle cx="349.7" cy="240.1" r="1.4" fill="#5448c4" fill-opacity="0.64"/><circle cx="303.8" cy="265.8" r="1.5" fill="#5448c4" fill-opacity="0.57"/><circle cx="294.4" cy="244.5" r="0.9" fill="#6458d0" fill-opacity="0.70"/><circle cx="340.6" cy="238.6" r="1.0" fill="#5448c4" fill-opacity="0.57"/><circle cx="324.3" cy="310.4" r="1.4" fill="#5448c4" fill-opacity="0.42"/><circle cx="300.0" cy="229.5" r="1.6" fill="#6458d0" fill-opacity="0.58"/><circle cx="299.7" cy="250.6" r="1.5" fill="#7c70dc" fill-opacity="0.33"/><circle cx="280.1" cy="253.5" r="1.6" fill="#5448c4" fill-opacity="0.73"/><circle cx="268.8" cy="296.6" r="1.7" fill="#6458d0" fill-opacity="0.78"/><circle cx="305.3" cy="299.5" r="1.3" fill="#5448c4" fill-opacity="0.42"/><circle cx="300.4" cy="300.0" r="1.1" fill="#6458d0" fill-opacity="0.73"/><circle cx="304.8" cy="312.8" r="1.4" fill="#5448c4" fill-opacity="0.40"/><circle cx="307.9" cy="239.4" r="1.3" fill="#5448c4" fill-opacity="0.55"/><circle cx="314.2" cy="238.8" r="1.4" fill="#6458d0" fill-opacity="0.56"/><circle cx="316.2" cy="239.3" r="1.4" fill="#5448c4" fill-opacity="0.55"/><circle cx="310.4" cy="241.3" r="0.9" fill="#5448c4" fill-opacity="0.74"/><circle cx="311.8" cy="243.2" r="1.7" fill="#6458d0" fill-opacity="0.42"/><circle cx="311.1" cy="236.9" r="1.5" fill="#6458d0" fill-opacity="0.51"/><circle cx="313.3" cy="240.5" r="1.6" fill="#7c70dc" fill-opacity="0.56"/><circle cx="313.3" cy="239.5" r="1.1" fill="#7c70dc" fill-opacity="0.32"/></g>
<rect x="395.40" y="207.20" width="123.60" height="134.80" fill="#e7ebed" stroke="none" stroke-width="1" />
<rect x="395.4" y="335.0" width="123.6" height="7" fill="url(#gstrip)"/>
<ellipse cx="457" cy="273" rx="45" ry="51.5" transform="rotate(0 457 273)" fill="#d6e4ec" filter="url(#blur2)"/>
<g fill="#a8b8f0" filter="url(#blur1)"><circle cx="485.9" cy="296.4" r="2.4" fill-opacity="0.28"/><circle cx="495.6" cy="277.4" r="2.4" fill-opacity="0.28"/><circle cx="416.4" cy="269.5" r="2.4" fill-opacity="0.28"/><circle cx="446.7" cy="311.8" r="2.4" fill-opacity="0.28"/><circle cx="462.2" cy="246.9" r="2.4" fill-opacity="0.28"/><circle cx="482.5" cy="296.2" r="2.4" fill-opacity="0.28"/><circle cx="479.6" cy="301.7" r="2.4" fill-opacity="0.28"/><circle cx="427.9" cy="298.1" r="2.4" fill-opacity="0.28"/><circle cx="493.5" cy="273.1" r="2.4" fill-opacity="0.28"/><circle cx="444.4" cy="310.9" r="2.4" fill-opacity="0.28"/><circle cx="476.2" cy="271.7" r="2.4" fill-opacity="0.28"/><circle cx="441.9" cy="292.8" r="2.4" fill-opacity="0.28"/><circle cx="464.6" cy="254.4" r="2.4" fill-opacity="0.28"/><circle cx="458.0" cy="316.0" r="2.4" fill-opacity="0.28"/><circle cx="476.4" cy="313.4" r="2.4" fill-opacity="0.28"/><circle cx="470.2" cy="250.5" r="2.4" fill-opacity="0.28"/><circle cx="458.9" cy="308.0" r="2.4" fill-opacity="0.28"/><circle cx="432.1" cy="310.7" r="2.4" fill-opacity="0.28"/><circle cx="483.9" cy="239.1" r="2.4" fill-opacity="0.28"/><circle cx="473.5" cy="261.7" r="2.4" fill-opacity="0.28"/><circle cx="477.9" cy="234.7" r="2.4" fill-opacity="0.28"/><circle cx="488.2" cy="293.3" r="2.4" fill-opacity="0.28"/><circle cx="433.4" cy="288.9" r="2.4" fill-opacity="0.28"/><circle cx="422.8" cy="267.8" r="2.4" fill-opacity="0.28"/><circle cx="425.0" cy="281.4" r="2.4" fill-opacity="0.28"/><circle cx="436.3" cy="283.5" r="2.4" fill-opacity="0.28"/><circle cx="415.6" cy="278.7" r="2.4" fill-opacity="0.28"/><circle cx="434.0" cy="267.5" r="2.4" fill-opacity="0.28"/><circle cx="475.0" cy="248.9" r="2.4" fill-opacity="0.28"/><circle cx="459.3" cy="224.0" r="2.4" fill-opacity="0.28"/><circle cx="434.7" cy="233.4" r="2.4" fill-opacity="0.28"/><circle cx="433.9" cy="245.0" r="2.4" fill-opacity="0.28"/><circle cx="459.2" cy="241.4" r="2.4" fill-opacity="0.28"/><circle cx="483.0" cy="259.8" r="2.4" fill-opacity="0.28"/><circle cx="493.2" cy="283.9" r="2.4" fill-opacity="0.28"/><circle cx="422.7" cy="253.8" r="2.4" fill-opacity="0.28"/><circle cx="431.9" cy="281.8" r="2.4" fill-opacity="0.28"/><circle cx="420.6" cy="298.2" r="2.4" fill-opacity="0.28"/><circle cx="478.8" cy="262.6" r="2.4" fill-opacity="0.28"/><circle cx="487.1" cy="287.0" r="2.4" fill-opacity="0.28"/><circle cx="482.7" cy="250.1" r="2.4" fill-opacity="0.28"/><circle cx="455.1" cy="318.0" r="2.4" fill-opacity="0.28"/><circle cx="439.5" cy="246.4" r="2.4" fill-opacity="0.28"/><circle cx="493.0" cy="281.5" r="2.4" fill-opacity="0.28"/><circle cx="422.3" cy="258.7" r="2.4" fill-opacity="0.28"/><circle cx="426.6" cy="264.8" r="2.4" fill-opacity="0.28"/><circle cx="425.1" cy="252.8" r="2.4" fill-opacity="0.28"/><circle cx="471.7" cy="290.9" r="2.4" fill-opacity="0.28"/><circle cx="422.3" cy="274.6" r="2.4" fill-opacity="0.28"/><circle cx="436.1" cy="312.1" r="2.4" fill-opacity="0.28"/><circle cx="481.3" cy="280.3" r="2.4" fill-opacity="0.28"/><circle cx="494.6" cy="293.3" r="2.4" fill-opacity="0.28"/><circle cx="433.3" cy="285.0" r="2.4" fill-opacity="0.28"/><circle cx="469.9" cy="304.3" r="2.4" fill-opacity="0.28"/><circle cx="480.0" cy="243.3" r="2.4" fill-opacity="0.28"/><circle cx="425.9" cy="284.1" r="2.4" fill-opacity="0.28"/><circle cx="435.8" cy="279.5" r="2.4" fill-opacity="0.28"/><circle cx="442.8" cy="249.9" r="2.4" fill-opacity="0.28"/><circle cx="481.7" cy="309.0" r="2.4" fill-opacity="0.28"/><circle cx="428.0" cy="261.3" r="2.4" fill-opacity="0.28"/><circle cx="461.9" cy="319.2" r="2.4" fill-opacity="0.28"/><circle cx="488.9" cy="254.0" r="2.4" fill-opacity="0.28"/><circle cx="422.0" cy="286.2" r="2.4" fill-opacity="0.28"/><circle cx="468.1" cy="254.0" r="2.4" fill-opacity="0.28"/><circle cx="453.3" cy="246.5" r="2.4" fill-opacity="0.28"/><circle cx="484.4" cy="261.0" r="2.4" fill-opacity="0.28"/><circle cx="428.3" cy="267.3" r="2.4" fill-opacity="0.28"/><circle cx="442.1" cy="233.4" r="2.4" fill-opacity="0.28"/><circle cx="430.3" cy="290.7" r="2.4" fill-opacity="0.28"/><circle cx="444.6" cy="302.2" r="2.4" fill-opacity="0.28"/><circle cx="483.5" cy="286.2" r="2.4" fill-opacity="0.28"/><circle cx="484.8" cy="257.4" r="2.4" fill-opacity="0.28"/><circle cx="493.6" cy="273.3" r="2.4" fill-opacity="0.28"/><circle cx="478.6" cy="309.6" r="2.4" fill-opacity="0.28"/><circle cx="445.6" cy="262.6" r="2.4" fill-opacity="0.28"/><circle cx="496.4" cy="258.5" r="2.4" fill-opacity="0.28"/><circle cx="434.4" cy="306.0" r="2.4" fill-opacity="0.28"/><circle cx="438.5" cy="286.6" r="2.4" fill-opacity="0.28"/><circle cx="441.2" cy="315.2" r="2.4" fill-opacity="0.28"/><circle cx="426.2" cy="243.7" r="2.4" fill-opacity="0.28"/><circle cx="450.2" cy="248.3" r="2.4" fill-opacity="0.28"/><circle cx="435.2" cy="247.3" r="2.4" fill-opacity="0.28"/><circle cx="487.2" cy="266.0" r="2.4" fill-opacity="0.28"/><circle cx="425.4" cy="275.3" r="2.4" fill-opacity="0.28"/><circle cx="443.1" cy="299.5" r="2.4" fill-opacity="0.28"/><circle cx="441.2" cy="306.4" r="2.4" fill-opacity="0.28"/><circle cx="444.2" cy="240.6" r="2.4" fill-opacity="0.28"/><circle cx="434.8" cy="271.2" r="2.4" fill-opacity="0.28"/><circle cx="425.9" cy="273.2" r="2.4" fill-opacity="0.28"/><circle cx="484.7" cy="275.3" r="2.4" fill-opacity="0.28"/><circle cx="456.3" cy="236.5" r="2.4" fill-opacity="0.28"/><circle cx="423.3" cy="244.5" r="2.4" fill-opacity="0.28"/><circle cx="432.5" cy="261.0" r="2.4" fill-opacity="0.28"/><circle cx="484.3" cy="285.6" r="2.4" fill-opacity="0.28"/><circle cx="446.4" cy="252.9" r="2.4" fill-opacity="0.28"/><circle cx="483.8" cy="279.2" r="2.4" fill-opacity="0.28"/><circle cx="433.7" cy="293.1" r="2.4" fill-opacity="0.28"/><circle cx="431.4" cy="242.7" r="2.4" fill-opacity="0.28"/><circle cx="474.4" cy="270.5" r="2.4" fill-opacity="0.28"/><circle cx="480.4" cy="305.0" r="2.4" fill-opacity="0.28"/><circle cx="423.3" cy="286.4" r="2.4" fill-opacity="0.28"/><circle cx="453.9" cy="252.4" r="2.4" fill-opacity="0.28"/><circle cx="484.9" cy="292.9" r="2.4" fill-opacity="0.28"/><circle cx="491.6" cy="279.8" r="2.4" fill-opacity="0.28"/><circle cx="437.4" cy="313.6" r="2.4" fill-opacity="0.28"/><circle cx="442.7" cy="276.8" r="2.4" fill-opacity="0.28"/><circle cx="459.2" cy="315.0" r="2.4" fill-opacity="0.28"/><circle cx="480.4" cy="292.1" r="2.4" fill-opacity="0.28"/><circle cx="454.7" cy="248.7" r="2.4" fill-opacity="0.28"/><circle cx="463.3" cy="254.1" r="2.4" fill-opacity="0.28"/><circle cx="466.0" cy="308.7" r="2.4" fill-opacity="0.28"/><circle cx="472.7" cy="254.0" r="2.4" fill-opacity="0.28"/><circle cx="486.0" cy="253.1" r="2.4" fill-opacity="0.28"/><circle cx="488.9" cy="243.1" r="2.4" fill-opacity="0.28"/><circle cx="441.4" cy="248.8" r="2.4" fill-opacity="0.28"/><circle cx="463.9" cy="236.6" r="2.4" fill-opacity="0.28"/><circle cx="466.2" cy="260.7" r="2.4" fill-opacity="0.28"/><circle cx="464.6" cy="314.0" r="2.4" fill-opacity="0.28"/><circle cx="427.0" cy="253.1" r="2.4" fill-opacity="0.28"/><circle cx="474.5" cy="310.1" r="2.4" fill-opacity="0.28"/><circle cx="474.4" cy="275.4" r="2.4" fill-opacity="0.28"/><circle cx="432.5" cy="245.7" r="2.4" fill-opacity="0.28"/><circle cx="495.3" cy="290.3" r="2.4" fill-opacity="0.28"/><circle cx="422.7" cy="274.0" r="2.4" fill-opacity="0.28"/><circle cx="481.3" cy="281.0" r="2.4" fill-opacity="0.28"/><circle cx="477.2" cy="245.4" r="2.4" fill-opacity="0.28"/><circle cx="455.2" cy="236.3" r="2.4" fill-opacity="0.28"/><circle cx="469.6" cy="316.8" r="2.4" fill-opacity="0.28"/><circle cx="451.6" cy="237.4" r="2.4" fill-opacity="0.28"/><circle cx="445.3" cy="317.3" r="2.4" fill-opacity="0.28"/><circle cx="443.3" cy="306.4" r="2.4" fill-opacity="0.28"/><circle cx="475.5" cy="308.9" r="2.4" fill-opacity="0.28"/><circle cx="450.1" cy="301.8" r="2.4" fill-opacity="0.28"/><circle cx="485.1" cy="290.1" r="2.4" fill-opacity="0.28"/><circle cx="435.2" cy="301.5" r="2.4" fill-opacity="0.28"/><circle cx="448.6" cy="313.5" r="2.4" fill-opacity="0.28"/><circle cx="465.3" cy="230.2" r="2.4" fill-opacity="0.28"/><circle cx="424.9" cy="265.8" r="2.4" fill-opacity="0.28"/><circle cx="425.0" cy="258.2" r="2.4" fill-opacity="0.28"/><circle cx="437.2" cy="245.2" r="2.4" fill-opacity="0.28"/><circle cx="435.3" cy="294.0" r="2.4" fill-opacity="0.28"/><circle cx="486.8" cy="269.2" r="2.4" fill-opacity="0.28"/><circle cx="424.1" cy="282.7" r="2.4" fill-opacity="0.28"/><circle cx="449.0" cy="313.8" r="2.4" fill-opacity="0.28"/><circle cx="491.1" cy="289.9" r="2.4" fill-opacity="0.28"/><circle cx="429.4" cy="306.0" r="2.4" fill-opacity="0.28"/><circle cx="420.9" cy="282.9" r="2.4" fill-opacity="0.28"/><circle cx="493.0" cy="267.5" r="2.4" fill-opacity="0.28"/><circle cx="466.7" cy="239.9" r="2.4" fill-opacity="0.28"/><circle cx="485.4" cy="279.7" r="2.4" fill-opacity="0.28"/><circle cx="454.0" cy="251.2" r="2.4" fill-opacity="0.28"/><circle cx="434.8" cy="303.8" r="2.4" fill-opacity="0.28"/><circle cx="433.3" cy="281.5" r="2.4" fill-opacity="0.28"/><circle cx="488.2" cy="281.7" r="2.4" fill-opacity="0.28"/><circle cx="427.9" cy="263.7" r="2.4" fill-opacity="0.28"/><circle cx="445.1" cy="241.3" r="2.4" fill-opacity="0.28"/><circle cx="466.9" cy="301.8" r="2.4" fill-opacity="0.28"/><circle cx="432.1" cy="293.2" r="2.4" fill-opacity="0.28"/><circle cx="430.9" cy="241.8" r="2.4" fill-opacity="0.28"/><circle cx="489.5" cy="253.7" r="2.4" fill-opacity="0.28"/><circle cx="429.1" cy="303.2" r="2.4" fill-opacity="0.28"/><circle cx="453.0" cy="318.6" r="2.4" fill-opacity="0.28"/><circle cx="426.7" cy="271.4" r="2.4" fill-opacity="0.28"/><circle cx="483.5" cy="275.6" r="2.4" fill-opacity="0.28"/><circle cx="424.8" cy="281.6" r="2.4" fill-opacity="0.28"/><circle cx="443.0" cy="301.1" r="2.4" fill-opacity="0.28"/><circle cx="433.6" cy="284.7" r="2.4" fill-opacity="0.28"/><circle cx="483.2" cy="287.4" r="2.4" fill-opacity="0.28"/><circle cx="495.9" cy="284.3" r="2.4" fill-opacity="0.28"/><circle cx="430.9" cy="278.3" r="2.4" fill-opacity="0.28"/><circle cx="475.9" cy="308.7" r="2.4" fill-opacity="0.28"/><circle cx="425.8" cy="296.6" r="2.4" fill-opacity="0.28"/><circle cx="491.2" cy="258.4" r="2.4" fill-opacity="0.28"/><circle cx="427.4" cy="253.3" r="2.4" fill-opacity="0.28"/><circle cx="489.6" cy="276.5" r="2.4" fill-opacity="0.28"/><circle cx="494.0" cy="280.1" r="2.4" fill-opacity="0.28"/><circle cx="433.8" cy="256.6" r="2.4" fill-opacity="0.28"/><circle cx="430.1" cy="266.8" r="2.4" fill-opacity="0.28"/><circle cx="470.5" cy="306.0" r="2.4" fill-opacity="0.28"/><circle cx="493.6" cy="288.2" r="2.4" fill-opacity="0.28"/><circle cx="433.2" cy="250.1" r="2.4" fill-opacity="0.28"/><circle cx="485.7" cy="294.8" r="2.4" fill-opacity="0.28"/><circle cx="434.4" cy="268.6" r="2.4" fill-opacity="0.28"/><circle cx="423.2" cy="246.5" r="2.4" fill-opacity="0.28"/><circle cx="436.3" cy="278.4" r="2.4" fill-opacity="0.28"/><circle cx="428.8" cy="238.4" r="2.4" fill-opacity="0.28"/><circle cx="439.8" cy="265.7" r="2.4" fill-opacity="0.28"/><circle cx="482.4" cy="261.1" r="2.4" fill-opacity="0.28"/><circle cx="427.3" cy="250.1" r="2.4" fill-opacity="0.28"/><circle cx="436.1" cy="246.5" r="2.4" fill-opacity="0.28"/><circle cx="483.9" cy="254.1" r="2.4" fill-opacity="0.28"/><circle cx="483.3" cy="252.7" r="2.4" fill-opacity="0.28"/><circle cx="427.6" cy="245.1" r="2.4" fill-opacity="0.28"/><circle cx="457.7" cy="311.8" r="2.4" fill-opacity="0.28"/><circle cx="426.2" cy="274.5" r="2.4" fill-opacity="0.28"/><circle cx="472.4" cy="245.3" r="2.4" fill-opacity="0.28"/><circle cx="476.5" cy="301.9" r="2.4" fill-opacity="0.28"/><circle cx="494.4" cy="280.3" r="2.4" fill-opacity="0.28"/><circle cx="457.2" cy="248.8" r="2.4" fill-opacity="0.28"/><circle cx="430.8" cy="255.6" r="2.4" fill-opacity="0.28"/><circle cx="496.3" cy="287.4" r="2.4" fill-opacity="0.28"/><circle cx="472.1" cy="310.7" r="2.4" fill-opacity="0.28"/><circle cx="441.6" cy="264.9" r="2.4" fill-opacity="0.28"/><circle cx="446.9" cy="291.0" r="2.4" fill-opacity="0.28"/><circle cx="473.7" cy="252.9" r="2.4" fill-opacity="0.28"/><circle cx="428.9" cy="301.6" r="2.4" fill-opacity="0.28"/><circle cx="466.7" cy="281.9" r="2.4" fill-opacity="0.28"/><circle cx="476.0" cy="307.4" r="2.4" fill-opacity="0.28"/><circle cx="491.7" cy="294.4" r="2.4" fill-opacity="0.28"/><circle cx="434.6" cy="247.5" r="2.4" fill-opacity="0.28"/><circle cx="471.5" cy="290.8" r="2.4" fill-opacity="0.28"/><circle cx="496.2" cy="281.2" r="2.4" fill-opacity="0.28"/><circle cx="430.1" cy="244.6" r="2.4" fill-opacity="0.28"/><circle cx="466.2" cy="271.0" r="2.4" fill-opacity="0.28"/><circle cx="430.4" cy="260.6" r="2.4" fill-opacity="0.28"/><circle cx="451.2" cy="243.4" r="2.4" fill-opacity="0.28"/><circle cx="454.5" cy="255.7" r="2.4" fill-opacity="0.28"/><circle cx="423.9" cy="252.6" r="2.4" fill-opacity="0.28"/><circle cx="431.7" cy="306.6" r="2.4" fill-opacity="0.28"/><circle cx="420.9" cy="294.2" r="2.4" fill-opacity="0.28"/><circle cx="483.4" cy="299.7" r="2.4" fill-opacity="0.28"/><circle cx="423.0" cy="288.1" r="2.4" fill-opacity="0.28"/><circle cx="484.3" cy="256.3" r="2.4" fill-opacity="0.28"/><circle cx="490.8" cy="251.1" r="2.4" fill-opacity="0.28"/><circle cx="488.4" cy="240.1" r="2.4" fill-opacity="0.28"/><circle cx="467.6" cy="309.9" r="2.4" fill-opacity="0.28"/><circle cx="441.4" cy="304.0" r="2.4" fill-opacity="0.28"/><circle cx="475.0" cy="310.1" r="2.4" fill-opacity="0.28"/><circle cx="418.8" cy="288.8" r="2.4" fill-opacity="0.28"/><circle cx="448.7" cy="235.3" r="2.4" fill-opacity="0.28"/><circle cx="478.9" cy="310.6" r="2.4" fill-opacity="0.28"/><circle cx="428.2" cy="291.8" r="2.4" fill-opacity="0.28"/><circle cx="478.7" cy="250.9" r="2.4" fill-opacity="0.28"/><circle cx="435.9" cy="299.2" r="2.4" fill-opacity="0.28"/><circle cx="456.8" cy="258.0" r="2.4" fill-opacity="0.28"/><circle cx="422.8" cy="252.0" r="2.4" fill-opacity="0.28"/><circle cx="431.9" cy="249.9" r="2.4" fill-opacity="0.28"/><circle cx="417.3" cy="263.9" r="2.4" fill-opacity="0.28"/><circle cx="422.5" cy="269.2" r="2.4" fill-opacity="0.28"/><circle cx="428.7" cy="240.7" r="2.4" fill-opacity="0.28"/><circle cx="426.5" cy="277.5" r="2.4" fill-opacity="0.28"/><circle cx="430.1" cy="256.6" r="2.4" fill-opacity="0.28"/><circle cx="468.1" cy="230.2" r="2.4" fill-opacity="0.28"/><circle cx="464.4" cy="318.1" r="2.4" fill-opacity="0.28"/><circle cx="432.3" cy="282.4" r="2.4" fill-opacity="0.28"/><circle cx="465.1" cy="264.7" r="2.4" fill-opacity="0.28"/><circle cx="459.6" cy="247.9" r="2.4" fill-opacity="0.28"/><circle cx="483.7" cy="257.4" r="2.4" fill-opacity="0.28"/><circle cx="487.0" cy="297.7" r="2.4" fill-opacity="0.28"/><circle cx="493.1" cy="263.9" r="2.4" fill-opacity="0.28"/><circle cx="466.7" cy="309.8" r="2.4" fill-opacity="0.28"/><circle cx="427.9" cy="287.4" r="2.4" fill-opacity="0.28"/><circle cx="491.0" cy="258.5" r="2.4" fill-opacity="0.28"/><circle cx="436.0" cy="272.0" r="2.4" fill-opacity="0.28"/><circle cx="480.5" cy="249.6" r="2.4" fill-opacity="0.28"/><circle cx="499.5" cy="275.2" r="2.4" fill-opacity="0.28"/><circle cx="420.9" cy="264.4" r="2.4" fill-opacity="0.28"/><circle cx="486.7" cy="250.0" r="2.4" fill-opacity="0.28"/><circle cx="470.6" cy="300.5" r="2.4" fill-opacity="0.28"/><circle cx="437.1" cy="260.7" r="2.4" fill-opacity="0.28"/><circle cx="436.8" cy="309.3" r="2.4" fill-opacity="0.28"/><circle cx="481.5" cy="279.9" r="2.4" fill-opacity="0.28"/><circle cx="473.8" cy="311.4" r="2.4" fill-opacity="0.28"/><circle cx="426.3" cy="276.2" r="2.4" fill-opacity="0.28"/><circle cx="492.7" cy="265.8" r="2.4" fill-opacity="0.28"/><circle cx="490.5" cy="272.9" r="2.4" fill-opacity="0.28"/><circle cx="472.8" cy="309.0" r="2.4" fill-opacity="0.28"/><circle cx="446.4" cy="249.7" r="2.4" fill-opacity="0.28"/><circle cx="468.5" cy="228.5" r="2.4" fill-opacity="0.28"/><circle cx="443.4" cy="303.3" r="2.4" fill-opacity="0.28"/><circle cx="420.5" cy="273.1" r="2.4" fill-opacity="0.28"/><circle cx="433.7" cy="253.4" r="2.4" fill-opacity="0.28"/><circle cx="443.2" cy="316.6" r="2.4" fill-opacity="0.28"/><circle cx="416.5" cy="265.3" r="2.4" fill-opacity="0.28"/><circle cx="458.7" cy="251.7" r="2.4" fill-opacity="0.28"/><circle cx="480.9" cy="292.3" r="2.4" fill-opacity="0.28"/><circle cx="482.9" cy="290.5" r="2.4" fill-opacity="0.28"/><circle cx="440.6" cy="283.1" r="2.4" fill-opacity="0.28"/><circle cx="476.6" cy="313.7" r="2.4" fill-opacity="0.28"/><circle cx="489.0" cy="243.3" r="2.4" fill-opacity="0.28"/><circle cx="472.9" cy="281.3" r="2.4" fill-opacity="0.28"/><circle cx="481.6" cy="240.0" r="2.4" fill-opacity="0.28"/><circle cx="431.3" cy="261.2" r="2.4" fill-opacity="0.28"/><circle cx="474.6" cy="304.3" r="2.4" fill-opacity="0.28"/><circle cx="445.5" cy="295.3" r="2.4" fill-opacity="0.28"/><circle cx="429.5" cy="298.2" r="2.4" fill-opacity="0.28"/><circle cx="460.8" cy="305.9" r="2.4" fill-opacity="0.28"/><circle cx="460.9" cy="256.0" r="2.4" fill-opacity="0.28"/><circle cx="485.2" cy="247.5" r="2.4" fill-opacity="0.28"/><circle cx="451.3" cy="237.2" r="2.4" fill-opacity="0.28"/><circle cx="442.6" cy="318.9" r="2.4" fill-opacity="0.28"/><circle cx="426.8" cy="276.0" r="2.4" fill-opacity="0.28"/><circle cx="473.9" cy="301.5" r="2.4" fill-opacity="0.28"/><circle cx="432.3" cy="244.4" r="2.4" fill-opacity="0.28"/><circle cx="428.8" cy="260.8" r="2.4" fill-opacity="0.28"/><circle cx="416.0" cy="264.4" r="2.4" fill-opacity="0.28"/><circle cx="480.3" cy="253.1" r="2.4" fill-opacity="0.28"/><circle cx="476.9" cy="298.6" r="2.4" fill-opacity="0.28"/><circle cx="434.6" cy="291.6" r="2.4" fill-opacity="0.28"/><circle cx="434.5" cy="258.2" r="2.4" fill-opacity="0.28"/><circle cx="465.1" cy="298.5" r="2.4" fill-opacity="0.28"/><circle cx="434.9" cy="302.3" r="2.4" fill-opacity="0.28"/><circle cx="469.5" cy="276.4" r="2.4" fill-opacity="0.28"/><circle cx="486.1" cy="254.0" r="2.4" fill-opacity="0.28"/><circle cx="450.4" cy="235.4" r="2.4" fill-opacity="0.28"/><circle cx="481.1" cy="243.9" r="2.4" fill-opacity="0.28"/><circle cx="470.4" cy="237.5" r="2.4" fill-opacity="0.28"/><circle cx="462.4" cy="321.7" r="2.4" fill-opacity="0.28"/><circle cx="489.5" cy="251.9" r="2.4" fill-opacity="0.28"/><circle cx="416.7" cy="258.1" r="2.4" fill-opacity="0.28"/><circle cx="456.6" cy="268.9" r="2.4" fill-opacity="0.28"/><circle cx="490.0" cy="281.3" r="2.4" fill-opacity="0.28"/><circle cx="434.7" cy="294.9" r="2.4" fill-opacity="0.28"/><circle cx="440.3" cy="312.2" r="2.4" fill-opacity="0.28"/><circle cx="420.2" cy="274.3" r="2.4" fill-opacity="0.28"/><circle cx="472.0" cy="287.0" r="2.4" fill-opacity="0.28"/><circle cx="479.3" cy="274.5" r="2.4" fill-opacity="0.28"/><circle cx="427.6" cy="248.5" r="2.4" fill-opacity="0.28"/><circle cx="424.6" cy="274.4" r="2.4" fill-opacity="0.28"/><circle cx="449.1" cy="318.1" r="2.4" fill-opacity="0.28"/><circle cx="456.6" cy="253.7" r="2.4" fill-opacity="0.28"/><circle cx="470.3" cy="306.3" r="2.4" fill-opacity="0.28"/><circle cx="429.7" cy="288.9" r="2.4" fill-opacity="0.28"/><circle cx="461.9" cy="249.5" r="2.4" fill-opacity="0.28"/><circle cx="452.7" cy="272.0" r="2.4" fill-opacity="0.28"/><circle cx="484.5" cy="277.7" r="2.4" fill-opacity="0.28"/><circle cx="478.2" cy="286.7" r="2.4" fill-opacity="0.28"/><circle cx="480.0" cy="301.0" r="2.4" fill-opacity="0.28"/><circle cx="490.6" cy="271.4" r="2.4" fill-opacity="0.28"/><circle cx="439.5" cy="302.2" r="2.4" fill-opacity="0.28"/><circle cx="427.2" cy="277.5" r="2.4" fill-opacity="0.28"/><circle cx="461.3" cy="251.8" r="2.4" fill-opacity="0.28"/><circle cx="485.6" cy="291.0" r="2.4" fill-opacity="0.28"/><circle cx="448.9" cy="278.9" r="2.4" fill-opacity="0.28"/><circle cx="472.9" cy="269.6" r="2.4" fill-opacity="0.28"/><circle cx="489.9" cy="250.1" r="2.4" fill-opacity="0.28"/><circle cx="466.0" cy="312.7" r="2.4" fill-opacity="0.28"/><circle cx="449.8" cy="243.9" r="2.4" fill-opacity="0.28"/><circle cx="454.0" cy="319.0" r="2.4" fill-opacity="0.28"/><circle cx="434.8" cy="297.0" r="2.4" fill-opacity="0.28"/><circle cx="491.7" cy="267.6" r="2.4" fill-opacity="0.28"/><circle cx="426.9" cy="280.8" r="2.4" fill-opacity="0.28"/><circle cx="468.3" cy="229.3" r="2.4" fill-opacity="0.28"/><circle cx="473.4" cy="310.8" r="2.4" fill-opacity="0.28"/><circle cx="474.3" cy="299.1" r="2.4" fill-opacity="0.28"/><circle cx="479.2" cy="281.0" r="2.4" fill-opacity="0.28"/><circle cx="482.8" cy="242.6" r="2.4" fill-opacity="0.28"/><circle cx="489.7" cy="266.5" r="2.4" fill-opacity="0.28"/><circle cx="437.3" cy="242.7" r="2.4" fill-opacity="0.28"/><circle cx="430.7" cy="299.7" r="2.4" fill-opacity="0.28"/><circle cx="472.5" cy="300.9" r="2.4" fill-opacity="0.28"/><circle cx="476.7" cy="312.5" r="2.4" fill-opacity="0.28"/><circle cx="445.0" cy="294.7" r="2.4" fill-opacity="0.28"/><circle cx="438.7" cy="264.3" r="2.4" fill-opacity="0.28"/><circle cx="449.8" cy="316.8" r="2.4" fill-opacity="0.28"/><circle cx="423.9" cy="290.5" r="2.4" fill-opacity="0.28"/><circle cx="436.9" cy="300.4" r="2.4" fill-opacity="0.28"/><circle cx="464.9" cy="255.2" r="2.4" fill-opacity="0.28"/><circle cx="440.5" cy="249.8" r="2.4" fill-opacity="0.28"/><circle cx="476.3" cy="248.7" r="2.4" fill-opacity="0.28"/><circle cx="484.1" cy="292.9" r="2.4" fill-opacity="0.28"/><circle cx="418.8" cy="256.3" r="2.4" fill-opacity="0.28"/><circle cx="485.5" cy="288.5" r="2.4" fill-opacity="0.28"/><circle cx="487.0" cy="244.7" r="2.4" fill-opacity="0.28"/><circle cx="469.6" cy="277.5" r="2.4" fill-opacity="0.28"/><circle cx="484.1" cy="251.6" r="2.4" fill-opacity="0.28"/><circle cx="476.3" cy="273.8" r="2.4" fill-opacity="0.28"/><circle cx="475.0" cy="245.8" r="2.4" fill-opacity="0.28"/><circle cx="475.9" cy="250.8" r="2.4" fill-opacity="0.28"/><circle cx="418.8" cy="293.2" r="2.4" fill-opacity="0.28"/><circle cx="429.9" cy="302.5" r="2.4" fill-opacity="0.28"/><circle cx="456.6" cy="251.2" r="2.4" fill-opacity="0.28"/><circle cx="498.8" cy="262.1" r="2.4" fill-opacity="0.28"/><circle cx="426.7" cy="259.6" r="2.4" fill-opacity="0.28"/><circle cx="431.1" cy="251.9" r="2.4" fill-opacity="0.28"/><circle cx="416.2" cy="270.6" r="2.4" fill-opacity="0.28"/><circle cx="489.9" cy="271.3" r="2.4" fill-opacity="0.28"/><circle cx="450.9" cy="239.3" r="2.4" fill-opacity="0.28"/><circle cx="447.3" cy="305.9" r="2.4" fill-opacity="0.28"/><circle cx="440.5" cy="299.8" r="2.4" fill-opacity="0.28"/><circle cx="427.0" cy="256.5" r="2.4" fill-opacity="0.28"/><circle cx="438.0" cy="299.9" r="2.4" fill-opacity="0.28"/><circle cx="490.2" cy="255.2" r="2.4" fill-opacity="0.28"/><circle cx="475.6" cy="286.5" r="2.4" fill-opacity="0.28"/><circle cx="494.2" cy="290.9" r="2.4" fill-opacity="0.28"/><circle cx="454.6" cy="315.3" r="2.4" fill-opacity="0.28"/><circle cx="472.6" cy="309.8" r="2.4" fill-opacity="0.28"/><circle cx="441.1" cy="249.3" r="2.4" fill-opacity="0.28"/><circle cx="491.0" cy="255.9" r="2.4" fill-opacity="0.28"/><circle cx="487.0" cy="263.8" r="2.4" fill-opacity="0.28"/><circle cx="469.5" cy="300.8" r="2.4" fill-opacity="0.28"/><circle cx="474.0" cy="253.0" r="2.4" fill-opacity="0.28"/><circle cx="470.2" cy="304.0" r="2.4" fill-opacity="0.28"/><circle cx="434.2" cy="292.6" r="2.4" fill-opacity="0.28"/><circle cx="437.0" cy="307.3" r="2.4" fill-opacity="0.28"/><circle cx="491.7" cy="276.6" r="2.4" fill-opacity="0.28"/><circle cx="441.4" cy="301.6" r="2.4" fill-opacity="0.28"/><circle cx="479.8" cy="297.2" r="2.4" fill-opacity="0.28"/><circle cx="481.2" cy="294.5" r="2.4" fill-opacity="0.28"/><circle cx="490.5" cy="282.9" r="2.4" fill-opacity="0.28"/><circle cx="445.1" cy="280.4" r="2.4" fill-opacity="0.28"/><circle cx="471.9" cy="306.9" r="2.4" fill-opacity="0.28"/><circle cx="483.5" cy="279.9" r="2.4" fill-opacity="0.28"/><circle cx="485.6" cy="241.8" r="2.4" fill-opacity="0.28"/><circle cx="483.1" cy="296.7" r="2.4" fill-opacity="0.28"/><circle cx="476.7" cy="290.0" r="2.4" fill-opacity="0.28"/><circle cx="433.5" cy="300.1" r="2.4" fill-opacity="0.28"/><circle cx="433.9" cy="260.6" r="2.4" fill-opacity="0.28"/><circle cx="477.2" cy="230.9" r="2.4" fill-opacity="0.28"/><circle cx="449.1" cy="240.1" r="2.4" fill-opacity="0.28"/><circle cx="429.4" cy="303.0" r="2.4" fill-opacity="0.28"/><circle cx="474.6" cy="299.8" r="2.4" fill-opacity="0.28"/><circle cx="434.7" cy="272.6" r="2.4" fill-opacity="0.28"/><circle cx="497.5" cy="269.0" r="2.4" fill-opacity="0.28"/><circle cx="426.5" cy="302.0" r="2.4" fill-opacity="0.28"/><circle cx="431.3" cy="255.6" r="2.4" fill-opacity="0.28"/></g>
<g filter="url(#soft)"><circle cx="435.4" cy="242.3" r="1.3" fill="#5060c8" fill-opacity="0.65"/><circle cx="436.3" cy="280.9" r="1.1" fill="#7484e0" fill-opacity="0.56"/><circle cx="474.8" cy="272.4" r="1.2" fill="#5060c8" fill-opacity="0.49"/><circle cx="433.4" cy="248.6" r="1.3" fill="#5060c8" fill-opacity="0.71"/><circle cx="495.5" cy="259.3" r="1.1" fill="#7484e0" fill-opacity="0.70"/><circle cx="440.0" cy="255.8" r="1.3" fill="#5a6ed8" fill-opacity="0.44"/><circle cx="422.7" cy="274.6" r="1.2" fill="#5a6ed8" fill-opacity="0.54"/><circle cx="449.2" cy="248.4" r="1.2" fill="#7484e0" fill-opacity="0.64"/><circle cx="422.3" cy="256.6" r="1.6" fill="#7484e0" fill-opacity="0.71"/><circle cx="439.7" cy="296.7" r="1.2" fill="#7484e0" fill-opacity="0.52"/><circle cx="478.7" cy="294.7" r="1.1" fill="#5a6ed8" fill-opacity="0.46"/><circle cx="453.7" cy="245.8" r="1.0" fill="#7484e0" fill-opacity="0.74"/><circle cx="468.4" cy="248.8" r="1.5" fill="#5060c8" fill-opacity="0.45"/><circle cx="467.7" cy="312.9" r="1.7" fill="#5060c8" fill-opacity="0.44"/><circle cx="487.2" cy="282.3" r="1.6" fill="#5060c8" fill-opacity="0.78"/><circle cx="419.9" cy="251.3" r="1.2" fill="#7484e0" fill-opacity="0.73"/><circle cx="425.4" cy="271.1" r="1.5" fill="#5060c8" fill-opacity="0.73"/><circle cx="482.3" cy="279.0" r="1.4" fill="#5060c8" fill-opacity="0.73"/><circle cx="491.8" cy="266.5" r="1.2" fill="#7484e0" fill-opacity="0.68"/><circle cx="446.7" cy="287.6" r="0.8" fill="#5a6ed8" fill-opacity="0.31"/><circle cx="443.6" cy="316.5" r="1.5" fill="#5060c8" fill-opacity="0.33"/><circle cx="425.8" cy="263.5" r="1.3" fill="#5a6ed8" fill-opacity="0.77"/><circle cx="438.7" cy="304.2" r="1.1" fill="#7484e0" fill-opacity="0.76"/><circle cx="444.1" cy="254.4" r="1.5" fill="#5060c8" fill-opacity="0.43"/><circle cx="450.3" cy="234.9" r="0.9" fill="#5060c8" fill-opacity="0.70"/><circle cx="487.0" cy="270.0" r="0.8" fill="#5060c8" fill-opacity="0.60"/><circle cx="444.0" cy="295.3" r="1.5" fill="#5060c8" fill-opacity="0.36"/><circle cx="499.5" cy="269.6" r="1.2" fill="#7484e0" fill-opacity="0.62"/><circle cx="455.7" cy="309.4" r="1.3" fill="#5060c8" fill-opacity="0.49"/><circle cx="454.6" cy="312.4" r="1.5" fill="#5a6ed8" fill-opacity="0.60"/><circle cx="435.3" cy="297.4" r="1.6" fill="#7484e0" fill-opacity="0.51"/><circle cx="489.7" cy="242.7" r="0.9" fill="#5a6ed8" fill-opacity="0.55"/><circle cx="484.5" cy="285.3" r="1.0" fill="#5060c8" fill-opacity="0.77"/><circle cx="437.4" cy="307.7" r="0.9" fill="#5a6ed8" fill-opacity="0.35"/><circle cx="481.6" cy="313.3" r="1.5" fill="#7484e0" fill-opacity="0.35"/><circle cx="447.4" cy="314.2" r="1.0" fill="#5a6ed8" fill-opacity="0.38"/><circle cx="472.2" cy="264.4" r="1.1" fill="#5a6ed8" fill-opacity="0.52"/><circle cx="439.4" cy="241.1" r="0.9" fill="#5060c8" fill-opacity="0.79"/><circle cx="427.3" cy="282.5" r="1.0" fill="#5060c8" fill-opacity="0.50"/><circle cx="449.7" cy="245.1" r="1.0" fill="#5a6ed8" fill-opacity="0.32"/><circle cx="475.0" cy="303.2" r="1.3" fill="#5a6ed8" fill-opacity="0.79"/><circle cx="420.3" cy="258.8" r="1.3" fill="#5060c8" fill-opacity="0.76"/><circle cx="483.8" cy="285.0" r="1.2" fill="#7484e0" fill-opacity="0.59"/><circle cx="489.1" cy="289.9" r="1.3" fill="#5a6ed8" fill-opacity="0.36"/><circle cx="441.4" cy="278.6" r="1.5" fill="#5a6ed8" fill-opacity="0.58"/><circle cx="421.9" cy="294.8" r="1.5" fill="#5060c8" fill-opacity="0.56"/><circle cx="463.5" cy="264.1" r="1.2" fill="#5a6ed8" fill-opacity="0.59"/><circle cx="457.4" cy="277.6" r="1.3" fill="#5060c8" fill-opacity="0.32"/><circle cx="452.3" cy="236.3" r="0.9" fill="#7484e0" fill-opacity="0.35"/><circle cx="481.3" cy="274.5" r="1.7" fill="#7484e0" fill-opacity="0.55"/><circle cx="483.6" cy="276.9" r="1.6" fill="#7484e0" fill-opacity="0.46"/><circle cx="432.3" cy="280.0" r="1.4" fill="#5a6ed8" fill-opacity="0.60"/><circle cx="456.5" cy="259.5" r="1.2" fill="#5060c8" fill-opacity="0.56"/><circle cx="439.6" cy="231.0" r="1.2" fill="#5a6ed8" fill-opacity="0.40"/><circle cx="419.5" cy="266.3" r="1.3" fill="#7484e0" fill-opacity="0.53"/><circle cx="452.7" cy="315.0" r="1.4" fill="#7484e0" fill-opacity="0.63"/><circle cx="474.5" cy="276.5" r="1.0" fill="#7484e0" fill-opacity="0.44"/><circle cx="453.4" cy="260.4" r="1.2" fill="#7484e0" fill-opacity="0.65"/><circle cx="427.3" cy="251.5" r="1.2" fill="#5a6ed8" fill-opacity="0.53"/><circle cx="450.1" cy="250.2" r="1.6" fill="#7484e0" fill-opacity="0.44"/><circle cx="438.4" cy="276.3" r="1.3" fill="#7484e0" fill-opacity="0.49"/><circle cx="482.8" cy="270.3" r="1.5" fill="#5060c8" fill-opacity="0.70"/><circle cx="483.6" cy="273.4" r="1.4" fill="#5060c8" fill-opacity="0.63"/><circle cx="488.3" cy="243.9" r="1.3" fill="#5060c8" fill-opacity="0.56"/><circle cx="476.5" cy="311.2" r="1.3" fill="#5060c8" fill-opacity="0.67"/><circle cx="480.7" cy="246.7" r="1.6" fill="#7484e0" fill-opacity="0.40"/><circle cx="436.9" cy="307.1" r="1.0" fill="#7484e0" fill-opacity="0.62"/><circle cx="417.6" cy="280.5" r="1.7" fill="#5060c8" fill-opacity="0.55"/><circle cx="474.5" cy="275.2" r="1.4" fill="#5060c8" fill-opacity="0.76"/><circle cx="442.8" cy="271.1" r="0.8" fill="#5a6ed8" fill-opacity="0.71"/><circle cx="436.2" cy="316.1" r="1.7" fill="#5060c8" fill-opacity="0.34"/><circle cx="427.8" cy="297.4" r="1.1" fill="#7484e0" fill-opacity="0.78"/><circle cx="430.2" cy="238.9" r="1.4" fill="#5a6ed8" fill-opacity="0.49"/><circle cx="440.7" cy="314.7" r="1.5" fill="#5060c8" fill-opacity="0.49"/><circle cx="453.0" cy="263.0" r="1.4" fill="#5a6ed8" fill-opacity="0.63"/><circle cx="470.0" cy="284.9" r="1.0" fill="#5060c8" fill-opacity="0.42"/><circle cx="419.2" cy="275.7" r="1.4" fill="#7484e0" fill-opacity="0.62"/><circle cx="485.0" cy="308.4" r="0.9" fill="#5a6ed8" fill-opacity="0.49"/><circle cx="453.4" cy="309.0" r="1.5" fill="#5060c8" fill-opacity="0.42"/><circle cx="450.4" cy="249.9" r="1.1" fill="#7484e0" fill-opacity="0.45"/><circle cx="474.7" cy="283.6" r="1.1" fill="#5060c8" fill-opacity="0.60"/><circle cx="483.9" cy="295.5" r="1.5" fill="#5060c8" fill-opacity="0.44"/><circle cx="453.7" cy="262.3" r="1.4" fill="#5060c8" fill-opacity="0.40"/><circle cx="443.0" cy="245.0" r="1.1" fill="#5a6ed8" fill-opacity="0.45"/><circle cx="461.0" cy="320.8" r="1.3" fill="#5060c8" fill-opacity="0.65"/><circle cx="475.0" cy="297.3" r="1.4" fill="#5a6ed8" fill-opacity="0.49"/><circle cx="472.9" cy="292.1" r="1.3" fill="#7484e0" fill-opacity="0.32"/><circle cx="480.3" cy="304.8" r="1.2" fill="#7484e0" fill-opacity="0.77"/><circle cx="449.5" cy="241.4" r="0.9" fill="#7484e0" fill-opacity="0.69"/><circle cx="445.9" cy="275.3" r="0.8" fill="#5a6ed8" fill-opacity="0.55"/><circle cx="480.1" cy="258.7" r="1.2" fill="#5a6ed8" fill-opacity="0.42"/><circle cx="484.0" cy="292.4" r="1.4" fill="#7484e0" fill-opacity="0.48"/><circle cx="427.7" cy="287.6" r="1.2" fill="#7484e0" fill-opacity="0.43"/><circle cx="481.5" cy="240.6" r="1.7" fill="#5a6ed8" fill-opacity="0.36"/><circle cx="474.6" cy="285.5" r="1.0" fill="#5a6ed8" fill-opacity="0.66"/><circle cx="484.2" cy="267.4" r="1.2" fill="#5a6ed8" fill-opacity="0.54"/><circle cx="420.7" cy="254.9" r="1.2" fill="#7484e0" fill-opacity="0.32"/><circle cx="436.0" cy="242.7" r="1.6" fill="#5a6ed8" fill-opacity="0.40"/><circle cx="486.3" cy="261.6" r="1.1" fill="#5060c8" fill-opacity="0.52"/><circle cx="463.1" cy="254.0" r="1.1" fill="#5060c8" fill-opacity="0.55"/><circle cx="461.8" cy="234.6" r="1.0" fill="#5060c8" fill-opacity="0.34"/><circle cx="475.8" cy="281.5" r="1.7" fill="#5a6ed8" fill-opacity="0.41"/><circle cx="447.1" cy="242.7" r="1.1" fill="#5a6ed8" fill-opacity="0.54"/><circle cx="479.9" cy="288.2" r="1.6" fill="#5a6ed8" fill-opacity="0.55"/><circle cx="480.8" cy="313.5" r="1.0" fill="#5060c8" fill-opacity="0.39"/><circle cx="437.8" cy="250.9" r="0.9" fill="#5060c8" fill-opacity="0.49"/><circle cx="483.7" cy="263.3" r="0.9" fill="#5a6ed8" fill-opacity="0.75"/><circle cx="419.3" cy="276.4" r="1.4" fill="#7484e0" fill-opacity="0.46"/><circle cx="430.6" cy="304.3" r="1.2" fill="#5060c8" fill-opacity="0.49"/><circle cx="494.8" cy="258.5" r="1.4" fill="#7484e0" fill-opacity="0.60"/><circle cx="474.9" cy="276.7" r="1.0" fill="#5a6ed8" fill-opacity="0.55"/><circle cx="432.3" cy="246.8" r="1.3" fill="#5a6ed8" fill-opacity="0.40"/><circle cx="430.7" cy="263.8" r="1.0" fill="#5060c8" fill-opacity="0.80"/><circle cx="476.3" cy="252.6" r="0.9" fill="#5060c8" fill-opacity="0.45"/><circle cx="444.7" cy="290.9" r="0.8" fill="#5a6ed8" fill-opacity="0.42"/><circle cx="487.1" cy="294.8" r="1.0" fill="#5a6ed8" fill-opacity="0.74"/><circle cx="438.9" cy="303.3" r="1.2" fill="#5a6ed8" fill-opacity="0.47"/><circle cx="429.2" cy="247.5" r="1.3" fill="#5a6ed8" fill-opacity="0.44"/><circle cx="476.2" cy="234.8" r="1.2" fill="#5a6ed8" fill-opacity="0.56"/><circle cx="420.8" cy="272.9" r="1.7" fill="#5a6ed8" fill-opacity="0.51"/><circle cx="482.0" cy="270.7" r="1.6" fill="#5a6ed8" fill-opacity="0.54"/><circle cx="427.1" cy="251.7" r="1.5" fill="#5a6ed8" fill-opacity="0.80"/><circle cx="499.7" cy="269.7" r="1.7" fill="#5a6ed8" fill-opacity="0.79"/><circle cx="446.5" cy="230.7" r="1.3" fill="#7484e0" fill-opacity="0.55"/><circle cx="426.4" cy="288.8" r="1.5" fill="#5060c8" fill-opacity="0.79"/><circle cx="475.4" cy="246.9" r="1.1" fill="#5060c8" fill-opacity="0.52"/><circle cx="483.6" cy="254.9" r="1.4" fill="#5a6ed8" fill-opacity="0.50"/><circle cx="421.3" cy="259.6" r="1.2" fill="#5060c8" fill-opacity="0.36"/><circle cx="420.4" cy="272.9" r="1.6" fill="#7484e0" fill-opacity="0.58"/><circle cx="478.5" cy="309.1" r="1.0" fill="#5060c8" fill-opacity="0.63"/><circle cx="445.8" cy="247.6" r="1.4" fill="#5a6ed8" fill-opacity="0.70"/><circle cx="447.6" cy="238.3" r="1.6" fill="#5060c8" fill-opacity="0.72"/><circle cx="478.4" cy="281.4" r="1.4" fill="#7484e0" fill-opacity="0.35"/><circle cx="483.2" cy="288.9" r="1.0" fill="#7484e0" fill-opacity="0.76"/><circle cx="491.8" cy="251.7" r="0.9" fill="#7484e0" fill-opacity="0.41"/><circle cx="494.6" cy="268.0" r="1.1" fill="#5a6ed8" fill-opacity="0.59"/><circle cx="443.1" cy="304.9" r="1.0" fill="#7484e0" fill-opacity="0.51"/><circle cx="473.5" cy="295.7" r="1.6" fill="#7484e0" fill-opacity="0.70"/><circle cx="423.6" cy="290.2" r="1.2" fill="#7484e0" fill-opacity="0.55"/><circle cx="440.5" cy="303.9" r="1.0" fill="#5060c8" fill-opacity="0.57"/><circle cx="458.6" cy="252.5" r="0.9" fill="#7484e0" fill-opacity="0.50"/><circle cx="461.8" cy="316.8" r="1.2" fill="#5060c8" fill-opacity="0.37"/><circle cx="430.6" cy="307.6" r="1.5" fill="#7484e0" fill-opacity="0.76"/><circle cx="433.9" cy="270.8" r="0.8" fill="#7484e0" fill-opacity="0.51"/><circle cx="484.8" cy="296.3" r="1.3" fill="#7484e0" fill-opacity="0.37"/><circle cx="476.8" cy="257.7" r="1.5" fill="#7484e0" fill-opacity="0.35"/><circle cx="482.5" cy="300.3" r="1.0" fill="#5060c8" fill-opacity="0.57"/><circle cx="437.3" cy="267.9" r="1.6" fill="#7484e0" fill-opacity="0.62"/><circle cx="484.6" cy="293.6" r="1.0" fill="#5060c8" fill-opacity="0.35"/><circle cx="474.6" cy="293.5" r="0.9" fill="#5a6ed8" fill-opacity="0.74"/><circle cx="456.0" cy="260.2" r="1.0" fill="#5a6ed8" fill-opacity="0.41"/><circle cx="479.8" cy="295.4" r="1.0" fill="#5a6ed8" fill-opacity="0.45"/><circle cx="419.8" cy="263.4" r="0.8" fill="#5a6ed8" fill-opacity="0.70"/><circle cx="429.6" cy="280.9" r="1.6" fill="#7484e0" fill-opacity="0.55"/><circle cx="440.4" cy="314.1" r="1.6" fill="#5060c8" fill-opacity="0.71"/><circle cx="439.1" cy="306.1" r="1.3" fill="#5060c8" fill-opacity="0.64"/><circle cx="488.4" cy="275.9" r="0.9" fill="#7484e0" fill-opacity="0.66"/><circle cx="475.9" cy="248.7" r="1.6" fill="#7484e0" fill-opacity="0.55"/><circle cx="476.4" cy="312.7" r="1.4" fill="#7484e0" fill-opacity="0.36"/><circle cx="480.7" cy="263.2" r="1.1" fill="#5060c8" fill-opacity="0.47"/><circle cx="475.4" cy="273.9" r="1.3" fill="#7484e0" fill-opacity="0.68"/><circle cx="479.6" cy="299.3" r="1.5" fill="#7484e0" fill-opacity="0.39"/><circle cx="445.6" cy="274.8" r="1.1" fill="#5a6ed8" fill-opacity="0.50"/><circle cx="469.1" cy="288.2" r="0.8" fill="#5a6ed8" fill-opacity="0.60"/><circle cx="424.7" cy="295.0" r="1.6" fill="#7484e0" fill-opacity="0.32"/><circle cx="463.8" cy="225.8" r="1.3" fill="#7484e0" fill-opacity="0.73"/><circle cx="420.5" cy="260.3" r="1.0" fill="#7484e0" fill-opacity="0.70"/><circle cx="477.7" cy="299.5" r="1.6" fill="#7484e0" fill-opacity="0.69"/><circle cx="452.5" cy="319.4" r="1.1" fill="#5a6ed8" fill-opacity="0.68"/><circle cx="485.0" cy="277.6" r="1.5" fill="#5a6ed8" fill-opacity="0.48"/><circle cx="419.1" cy="284.3" r="1.4" fill="#5060c8" fill-opacity="0.37"/><circle cx="456.1" cy="250.4" r="1.7" fill="#5060c8" fill-opacity="0.38"/><circle cx="477.3" cy="280.1" r="1.2" fill="#5060c8" fill-opacity="0.62"/><circle cx="425.8" cy="271.1" r="1.1" fill="#5060c8" fill-opacity="0.65"/><circle cx="424.8" cy="249.7" r="1.6" fill="#5060c8" fill-opacity="0.68"/><circle cx="448.2" cy="256.6" r="0.8" fill="#5060c8" fill-opacity="0.49"/><circle cx="474.3" cy="298.0" r="1.3" fill="#5a6ed8" fill-opacity="0.53"/><circle cx="427.8" cy="255.4" r="1.1" fill="#7484e0" fill-opacity="0.45"/><circle cx="424.1" cy="293.3" r="0.8" fill="#5a6ed8" fill-opacity="0.33"/><circle cx="436.4" cy="246.2" r="0.8" fill="#5a6ed8" fill-opacity="0.79"/><circle cx="486.5" cy="242.9" r="0.8" fill="#7484e0" fill-opacity="0.42"/><circle cx="450.4" cy="263.3" r="1.2" fill="#5a6ed8" fill-opacity="0.76"/><circle cx="470.6" cy="249.8" r="1.2" fill="#5060c8" fill-opacity="0.74"/><circle cx="446.8" cy="262.7" r="1.0" fill="#5060c8" fill-opacity="0.33"/><circle cx="468.5" cy="269.8" r="1.4" fill="#5a6ed8" fill-opacity="0.57"/><circle cx="486.6" cy="248.0" r="0.9" fill="#7484e0" fill-opacity="0.38"/><circle cx="443.7" cy="287.1" r="1.5" fill="#5060c8" fill-opacity="0.71"/><circle cx="417.6" cy="289.0" r="1.3" fill="#5060c8" fill-opacity="0.56"/><circle cx="490.8" cy="250.8" r="1.2" fill="#5a6ed8" fill-opacity="0.65"/><circle cx="425.6" cy="260.1" r="1.7" fill="#5a6ed8" fill-opacity="0.46"/><circle cx="467.4" cy="284.8" r="1.5" fill="#5a6ed8" fill-opacity="0.62"/><circle cx="494.4" cy="262.5" r="1.4" fill="#5a6ed8" fill-opacity="0.69"/><circle cx="463.3" cy="235.0" r="0.8" fill="#5060c8" fill-opacity="0.54"/><circle cx="439.1" cy="261.4" r="1.6" fill="#5a6ed8" fill-opacity="0.38"/><circle cx="429.9" cy="290.1" r="1.3" fill="#5a6ed8" fill-opacity="0.54"/><circle cx="493.6" cy="251.7" r="1.3" fill="#5a6ed8" fill-opacity="0.48"/><circle cx="448.4" cy="315.5" r="0.9" fill="#5a6ed8" fill-opacity="0.37"/><circle cx="488.9" cy="275.4" r="1.4" fill="#7484e0" fill-opacity="0.65"/><circle cx="483.2" cy="307.8" r="1.1" fill="#5a6ed8" fill-opacity="0.56"/><circle cx="436.2" cy="295.9" r="1.6" fill="#5a6ed8" fill-opacity="0.62"/><circle cx="473.0" cy="227.9" r="1.7" fill="#5a6ed8" fill-opacity="0.76"/><circle cx="428.6" cy="257.8" r="1.1" fill="#7484e0" fill-opacity="0.49"/><circle cx="448.9" cy="318.9" r="1.1" fill="#5060c8" fill-opacity="0.34"/><circle cx="494.1" cy="287.3" r="1.2" fill="#5a6ed8" fill-opacity="0.38"/><circle cx="450.2" cy="237.4" r="1.3" fill="#5060c8" fill-opacity="0.63"/><circle cx="430.2" cy="262.8" r="0.9" fill="#5060c8" fill-opacity="0.37"/><circle cx="465.6" cy="249.5" r="1.1" fill="#7484e0" fill-opacity="0.46"/><circle cx="492.5" cy="277.1" r="1.3" fill="#5060c8" fill-opacity="0.51"/><circle cx="431.1" cy="281.5" r="1.1" fill="#5a6ed8" fill-opacity="0.60"/><circle cx="469.5" cy="255.1" r="0.9" fill="#5060c8" fill-opacity="0.31"/><circle cx="475.1" cy="315.3" r="0.9" fill="#5060c8" fill-opacity="0.33"/><circle cx="436.3" cy="248.6" r="1.0" fill="#7484e0" fill-opacity="0.33"/><circle cx="467.3" cy="275.1" r="1.0" fill="#5a6ed8" fill-opacity="0.64"/><circle cx="453.8" cy="246.3" r="1.7" fill="#5a6ed8" fill-opacity="0.52"/><circle cx="430.7" cy="282.9" r="1.4" fill="#7484e0" fill-opacity="0.48"/><circle cx="433.7" cy="254.3" r="1.0" fill="#5060c8" fill-opacity="0.46"/><circle cx="422.7" cy="283.9" r="1.1" fill="#7484e0" fill-opacity="0.65"/><circle cx="438.4" cy="279.2" r="1.6" fill="#5060c8" fill-opacity="0.76"/><circle cx="454.7" cy="259.5" r="1.3" fill="#5060c8" fill-opacity="0.74"/><circle cx="455.7" cy="245.5" r="0.8" fill="#5a6ed8" fill-opacity="0.56"/><circle cx="492.2" cy="288.7" r="0.8" fill="#5060c8" fill-opacity="0.40"/><circle cx="439.8" cy="294.4" r="0.8" fill="#7484e0" fill-opacity="0.42"/><circle cx="434.2" cy="282.2" r="0.9" fill="#5060c8" fill-opacity="0.58"/><circle cx="473.9" cy="232.6" r="1.6" fill="#5060c8" fill-opacity="0.39"/><circle cx="425.7" cy="264.1" r="0.8" fill="#5060c8" fill-opacity="0.48"/><circle cx="445.9" cy="272.7" r="1.3" fill="#5060c8" fill-opacity="0.55"/><circle cx="476.3" cy="279.3" r="1.1" fill="#5060c8" fill-opacity="0.75"/><circle cx="477.4" cy="297.5" r="1.0" fill="#5060c8" fill-opacity="0.44"/><circle cx="492.5" cy="290.8" r="1.0" fill="#7484e0" fill-opacity="0.39"/><circle cx="424.8" cy="276.3" r="1.6" fill="#5060c8" fill-opacity="0.49"/><circle cx="431.5" cy="298.4" r="1.0" fill="#5060c8" fill-opacity="0.60"/><circle cx="437.3" cy="268.6" r="0.9" fill="#5a6ed8" fill-opacity="0.65"/><circle cx="491.2" cy="301.6" r="1.5" fill="#7484e0" fill-opacity="0.44"/><circle cx="491.4" cy="279.8" r="0.9" fill="#5a6ed8" fill-opacity="0.67"/><circle cx="422.5" cy="264.3" r="1.1" fill="#5a6ed8" fill-opacity="0.70"/><circle cx="457.5" cy="312.1" r="1.0" fill="#7484e0" fill-opacity="0.43"/><circle cx="430.8" cy="280.3" r="1.2" fill="#5a6ed8" fill-opacity="0.78"/><circle cx="484.7" cy="245.4" r="1.5" fill="#5060c8" fill-opacity="0.46"/><circle cx="431.5" cy="295.6" r="1.4" fill="#7484e0" fill-opacity="0.36"/><circle cx="435.9" cy="247.8" r="1.1" fill="#5a6ed8" fill-opacity="0.67"/><circle cx="474.0" cy="307.7" r="1.7" fill="#7484e0" fill-opacity="0.43"/><circle cx="429.7" cy="270.9" r="1.1" fill="#5a6ed8" fill-opacity="0.46"/><circle cx="469.9" cy="296.4" r="1.7" fill="#5a6ed8" fill-opacity="0.51"/><circle cx="490.5" cy="297.6" r="0.9" fill="#5060c8" fill-opacity="0.76"/><circle cx="417.9" cy="266.8" r="1.5" fill="#7484e0" fill-opacity="0.75"/><circle cx="477.0" cy="262.2" r="0.9" fill="#7484e0" fill-opacity="0.75"/><circle cx="439.8" cy="241.0" r="0.9" fill="#7484e0" fill-opacity="0.80"/><circle cx="439.4" cy="315.2" r="1.3" fill="#7484e0" fill-opacity="0.32"/><circle cx="423.7" cy="274.5" r="1.1" fill="#5a6ed8" fill-opacity="0.50"/><circle cx="456.8" cy="299.7" r="0.9" fill="#5060c8" fill-opacity="0.57"/><circle cx="431.8" cy="312.8" r="1.5" fill="#5060c8" fill-opacity="0.73"/><circle cx="490.5" cy="265.6" r="0.9" fill="#5a6ed8" fill-opacity="0.66"/><circle cx="427.1" cy="276.7" r="1.3" fill="#5a6ed8" fill-opacity="0.54"/><circle cx="442.4" cy="245.0" r="0.9" fill="#5060c8" fill-opacity="0.54"/><circle cx="489.3" cy="296.5" r="1.4" fill="#5060c8" fill-opacity="0.57"/><circle cx="439.8" cy="247.1" r="1.0" fill="#5a6ed8" fill-opacity="0.75"/><circle cx="428.7" cy="247.0" r="1.1" fill="#7484e0" fill-opacity="0.47"/><circle cx="455.8" cy="249.0" r="1.0" fill="#5a6ed8" fill-opacity="0.41"/><circle cx="436.1" cy="255.1" r="0.9" fill="#7484e0" fill-opacity="0.78"/><circle cx="463.7" cy="255.9" r="0.9" fill="#5a6ed8" fill-opacity="0.46"/><circle cx="431.7" cy="285.7" r="1.1" fill="#5060c8" fill-opacity="0.33"/><circle cx="422.2" cy="290.1" r="1.2" fill="#5a6ed8" fill-opacity="0.44"/><circle cx="476.2" cy="308.7" r="1.1" fill="#5060c8" fill-opacity="0.71"/><circle cx="482.1" cy="255.7" r="1.1" fill="#7484e0" fill-opacity="0.71"/><circle cx="439.2" cy="248.3" r="1.2" fill="#7484e0" fill-opacity="0.50"/><circle cx="479.0" cy="252.2" r="1.4" fill="#5060c8" fill-opacity="0.46"/><circle cx="469.3" cy="305.0" r="1.6" fill="#5060c8" fill-opacity="0.65"/><circle cx="472.3" cy="307.5" r="1.3" fill="#5060c8" fill-opacity="0.73"/><circle cx="419.8" cy="271.2" r="1.1" fill="#7484e0" fill-opacity="0.54"/><circle cx="443.7" cy="252.2" r="0.9" fill="#5a6ed8" fill-opacity="0.47"/><circle cx="478.6" cy="280.5" r="0.8" fill="#7484e0" fill-opacity="0.46"/><circle cx="482.0" cy="266.7" r="1.3" fill="#5a6ed8" fill-opacity="0.50"/><circle cx="479.1" cy="250.9" r="1.4" fill="#5a6ed8" fill-opacity="0.35"/><circle cx="487.6" cy="249.2" r="1.2" fill="#5060c8" fill-opacity="0.61"/><circle cx="433.4" cy="271.6" r="0.8" fill="#5060c8" fill-opacity="0.78"/><circle cx="437.2" cy="298.6" r="1.7" fill="#7484e0" fill-opacity="0.31"/><circle cx="424.5" cy="263.3" r="1.4" fill="#5060c8" fill-opacity="0.64"/><circle cx="467.0" cy="228.8" r="0.9" fill="#7484e0" fill-opacity="0.57"/><circle cx="432.7" cy="301.0" r="0.9" fill="#7484e0" fill-opacity="0.44"/><circle cx="493.2" cy="290.7" r="1.1" fill="#5a6ed8" fill-opacity="0.78"/><circle cx="466.2" cy="236.8" r="1.6" fill="#5a6ed8" fill-opacity="0.47"/><circle cx="418.5" cy="273.7" r="1.4" fill="#5060c8" fill-opacity="0.35"/><circle cx="481.1" cy="247.6" r="1.7" fill="#5a6ed8" fill-opacity="0.68"/><circle cx="437.7" cy="243.0" r="1.3" fill="#7484e0" fill-opacity="0.59"/><circle cx="459.5" cy="320.4" r="1.0" fill="#5060c8" fill-opacity="0.36"/><circle cx="428.6" cy="303.0" r="1.2" fill="#5060c8" fill-opacity="0.77"/><circle cx="440.3" cy="261.7" r="1.6" fill="#5a6ed8" fill-opacity="0.71"/><circle cx="482.6" cy="309.8" r="1.6" fill="#5a6ed8" fill-opacity="0.40"/><circle cx="465.8" cy="226.8" r="1.4" fill="#5060c8" fill-opacity="0.67"/><circle cx="465.2" cy="251.0" r="1.1" fill="#7484e0" fill-opacity="0.70"/><circle cx="483.1" cy="308.5" r="1.1" fill="#7484e0" fill-opacity="0.68"/><circle cx="492.8" cy="271.1" r="1.4" fill="#5060c8" fill-opacity="0.75"/><circle cx="430.8" cy="303.0" r="0.9" fill="#5060c8" fill-opacity="0.60"/><circle cx="431.0" cy="300.0" r="0.8" fill="#5a6ed8" fill-opacity="0.44"/><circle cx="439.3" cy="255.1" r="1.6" fill="#5a6ed8" fill-opacity="0.50"/><circle cx="463.1" cy="311.0" r="1.1" fill="#5060c8" fill-opacity="0.51"/><circle cx="424.8" cy="266.8" r="1.1" fill="#7484e0" fill-opacity="0.42"/><circle cx="438.9" cy="308.3" r="1.3" fill="#7484e0" fill-opacity="0.67"/><circle cx="425.9" cy="288.4" r="1.7" fill="#5060c8" fill-opacity="0.60"/><circle cx="456.5" cy="256.1" r="1.1" fill="#7484e0" fill-opacity="0.54"/><circle cx="474.4" cy="302.7" r="1.2" fill="#5060c8" fill-opacity="0.51"/><circle cx="444.9" cy="270.8" r="1.2" fill="#7484e0" fill-opacity="0.32"/><circle cx="474.8" cy="305.9" r="1.5" fill="#5a6ed8" fill-opacity="0.51"/><circle cx="470.3" cy="319.0" r="1.6" fill="#5060c8" fill-opacity="0.57"/><circle cx="484.4" cy="257.8" r="1.1" fill="#7484e0" fill-opacity="0.39"/><circle cx="475.1" cy="234.3" r="1.7" fill="#5060c8" fill-opacity="0.57"/><circle cx="462.2" cy="246.9" r="1.7" fill="#5a6ed8" fill-opacity="0.75"/><circle cx="487.8" cy="268.4" r="1.6" fill="#5a6ed8" fill-opacity="0.66"/><circle cx="446.6" cy="310.2" r="1.4" fill="#5a6ed8" fill-opacity="0.53"/><circle cx="465.5" cy="259.7" r="1.1" fill="#5a6ed8" fill-opacity="0.37"/><circle cx="476.4" cy="237.8" r="1.4" fill="#7484e0" fill-opacity="0.40"/><circle cx="461.2" cy="315.0" r="1.5" fill="#7484e0" fill-opacity="0.43"/><circle cx="426.7" cy="280.8" r="0.8" fill="#7484e0" fill-opacity="0.55"/><circle cx="481.5" cy="278.0" r="1.2" fill="#7484e0" fill-opacity="0.79"/><circle cx="417.6" cy="255.5" r="1.2" fill="#7484e0" fill-opacity="0.63"/><circle cx="454.8" cy="245.8" r="1.0" fill="#5060c8" fill-opacity="0.77"/><circle cx="486.7" cy="268.8" r="1.5" fill="#7484e0" fill-opacity="0.45"/><circle cx="434.7" cy="301.2" r="1.2" fill="#7484e0" fill-opacity="0.69"/><circle cx="460.4" cy="258.6" r="0.8" fill="#7484e0" fill-opacity="0.60"/><circle cx="486.2" cy="262.8" r="1.6" fill="#7484e0" fill-opacity="0.76"/><circle cx="432.7" cy="262.3" r="1.5" fill="#5a6ed8" fill-opacity="0.55"/><circle cx="443.1" cy="233.1" r="1.5" fill="#5a6ed8" fill-opacity="0.57"/><circle cx="476.2" cy="312.6" r="1.3" fill="#7484e0" fill-opacity="0.47"/><circle cx="424.4" cy="262.3" r="1.4" fill="#5a6ed8" fill-opacity="0.72"/><circle cx="488.4" cy="294.8" r="1.2" fill="#7484e0" fill-opacity="0.31"/><circle cx="441.0" cy="254.5" r="1.4" fill="#5060c8" fill-opacity="0.66"/><circle cx="458.6" cy="230.2" r="1.1" fill="#7484e0" fill-opacity="0.39"/><circle cx="492.9" cy="276.5" r="1.4" fill="#5060c8" fill-opacity="0.54"/><circle cx="430.4" cy="309.1" r="1.6" fill="#5a6ed8" fill-opacity="0.50"/><circle cx="479.6" cy="257.1" r="1.6" fill="#5060c8" fill-opacity="0.71"/><circle cx="472.0" cy="299.9" r="1.3" fill="#7484e0" fill-opacity="0.39"/><circle cx="464.3" cy="240.0" r="0.8" fill="#5060c8" fill-opacity="0.55"/><circle cx="447.9" cy="273.9" r="1.4" fill="#5060c8" fill-opacity="0.35"/><circle cx="446.2" cy="256.3" r="1.3" fill="#5060c8" fill-opacity="0.67"/><circle cx="471.9" cy="304.8" r="0.9" fill="#5a6ed8" fill-opacity="0.38"/><circle cx="426.9" cy="245.1" r="1.7" fill="#5060c8" fill-opacity="0.34"/><circle cx="474.5" cy="230.9" r="1.3" fill="#7484e0" fill-opacity="0.54"/><circle cx="440.7" cy="297.8" r="1.5" fill="#5060c8" fill-opacity="0.37"/><circle cx="433.4" cy="294.1" r="1.2" fill="#7484e0" fill-opacity="0.35"/><circle cx="483.0" cy="239.8" r="1.4" fill="#5060c8" fill-opacity="0.39"/><circle cx="465.6" cy="267.5" r="1.4" fill="#5060c8" fill-opacity="0.64"/><circle cx="421.2" cy="274.8" r="1.0" fill="#5a6ed8" fill-opacity="0.65"/><circle cx="432.9" cy="278.1" r="0.9" fill="#5a6ed8" fill-opacity="0.42"/><circle cx="464.4" cy="316.8" r="1.3" fill="#5a6ed8" fill-opacity="0.62"/><circle cx="456.1" cy="236.4" r="1.1" fill="#7484e0" fill-opacity="0.62"/><circle cx="428.9" cy="288.0" r="1.1" fill="#5060c8" fill-opacity="0.74"/><circle cx="492.7" cy="289.8" r="1.0" fill="#7484e0" fill-opacity="0.34"/><circle cx="416.2" cy="276.3" r="1.6" fill="#5a6ed8" fill-opacity="0.55"/><circle cx="435.6" cy="242.7" r="1.5" fill="#5060c8" fill-opacity="0.58"/><circle cx="494.4" cy="256.4" r="0.9" fill="#5060c8" fill-opacity="0.78"/><circle cx="493.4" cy="272.4" r="1.2" fill="#5060c8" fill-opacity="0.64"/><circle cx="467.5" cy="319.9" r="1.1" fill="#5a6ed8" fill-opacity="0.46"/><circle cx="417.6" cy="262.0" r="1.7" fill="#5a6ed8" fill-opacity="0.53"/><circle cx="433.7" cy="252.1" r="1.0" fill="#5a6ed8" fill-opacity="0.70"/><circle cx="429.3" cy="300.1" r="1.5" fill="#5a6ed8" fill-opacity="0.33"/><circle cx="479.0" cy="250.2" r="1.5" fill="#5060c8" fill-opacity="0.55"/><circle cx="476.5" cy="296.8" r="1.2" fill="#5060c8" fill-opacity="0.36"/><circle cx="451.2" cy="316.5" r="1.6" fill="#5a6ed8" fill-opacity="0.54"/><circle cx="446.0" cy="247.9" r="1.1" fill="#5060c8" fill-opacity="0.46"/><circle cx="484.1" cy="308.9" r="1.5" fill="#5060c8" fill-opacity="0.46"/><circle cx="420.0" cy="275.5" r="1.2" fill="#5a6ed8" fill-opacity="0.42"/><circle cx="424.8" cy="287.1" r="0.9" fill="#5a6ed8" fill-opacity="0.44"/><circle cx="489.0" cy="289.9" r="1.3" fill="#5060c8" fill-opacity="0.74"/><circle cx="493.6" cy="288.2" r="1.2" fill="#5a6ed8" fill-opacity="0.69"/><circle cx="491.0" cy="252.8" r="1.2" fill="#5060c8" fill-opacity="0.43"/><circle cx="435.9" cy="268.8" r="1.5" fill="#5060c8" fill-opacity="0.48"/><circle cx="423.1" cy="267.1" r="1.1" fill="#5060c8" fill-opacity="0.75"/><circle cx="487.2" cy="286.8" r="1.6" fill="#5a6ed8" fill-opacity="0.75"/><circle cx="435.9" cy="236.5" r="1.1" fill="#5060c8" fill-opacity="0.63"/><circle cx="436.8" cy="290.4" r="0.8" fill="#5060c8" fill-opacity="0.42"/><circle cx="489.8" cy="273.7" r="1.1" fill="#7484e0" fill-opacity="0.47"/><circle cx="470.6" cy="313.4" r="1.1" fill="#5060c8" fill-opacity="0.51"/><circle cx="442.0" cy="308.4" r="1.2" fill="#5060c8" fill-opacity="0.75"/><circle cx="451.3" cy="305.3" r="1.2" fill="#5a6ed8" fill-opacity="0.76"/><circle cx="464.2" cy="312.3" r="1.0" fill="#7484e0" fill-opacity="0.68"/><circle cx="432.1" cy="272.1" r="1.6" fill="#5a6ed8" fill-opacity="0.52"/><circle cx="473.0" cy="244.8" r="1.1" fill="#5a6ed8" fill-opacity="0.79"/><circle cx="431.8" cy="312.1" r="1.7" fill="#7484e0" fill-opacity="0.60"/><circle cx="428.7" cy="295.5" r="1.2" fill="#5a6ed8" fill-opacity="0.42"/><circle cx="483.4" cy="244.3" r="1.3" fill="#5060c8" fill-opacity="0.64"/><circle cx="450.5" cy="315.7" r="1.6" fill="#5a6ed8" fill-opacity="0.53"/><circle cx="479.0" cy="268.8" r="1.0" fill="#5060c8" fill-opacity="0.78"/><circle cx="485.3" cy="256.9" r="1.3" fill="#7484e0" fill-opacity="0.54"/><circle cx="432.6" cy="295.9" r="1.2" fill="#5060c8" fill-opacity="0.47"/><circle cx="421.0" cy="291.9" r="0.9" fill="#7484e0" fill-opacity="0.33"/><circle cx="453.0" cy="305.1" r="1.4" fill="#5060c8" fill-opacity="0.43"/><circle cx="456.9" cy="263.3" r="1.2" fill="#7484e0" fill-opacity="0.43"/><circle cx="443.0" cy="275.6" r="1.6" fill="#7484e0" fill-opacity="0.70"/><circle cx="462.9" cy="256.8" r="1.2" fill="#5a6ed8" fill-opacity="0.45"/><circle cx="491.5" cy="273.8" r="1.3" fill="#5060c8" fill-opacity="0.73"/><circle cx="495.7" cy="282.1" r="1.6" fill="#7484e0" fill-opacity="0.78"/><circle cx="473.4" cy="288.6" r="1.4" fill="#5a6ed8" fill-opacity="0.43"/><circle cx="482.4" cy="243.4" r="1.0" fill="#7484e0" fill-opacity="0.54"/><circle cx="482.7" cy="273.9" r="0.9" fill="#5060c8" fill-opacity="0.37"/><circle cx="432.8" cy="237.1" r="1.5" fill="#5060c8" fill-opacity="0.80"/><circle cx="460.2" cy="233.0" r="1.4" fill="#5060c8" fill-opacity="0.53"/><circle cx="465.3" cy="314.2" r="1.7" fill="#5a6ed8" fill-opacity="0.57"/><circle cx="420.7" cy="253.7" r="1.0" fill="#5060c8" fill-opacity="0.51"/><circle cx="475.7" cy="310.1" r="1.5" fill="#5060c8" fill-opacity="0.63"/><circle cx="478.0" cy="273.2" r="1.6" fill="#7484e0" fill-opacity="0.70"/><circle cx="470.7" cy="239.2" r="0.8" fill="#5060c8" fill-opacity="0.69"/><circle cx="440.2" cy="313.6" r="1.3" fill="#7484e0" fill-opacity="0.67"/><circle cx="485.2" cy="286.8" r="1.0" fill="#5a6ed8" fill-opacity="0.51"/><circle cx="436.9" cy="243.4" r="0.8" fill="#5a6ed8" fill-opacity="0.55"/><circle cx="422.8" cy="258.6" r="1.3" fill="#5a6ed8" fill-opacity="0.66"/><circle cx="420.1" cy="291.9" r="1.3" fill="#5060c8" fill-opacity="0.36"/><circle cx="486.3" cy="256.5" r="1.1" fill="#5a6ed8" fill-opacity="0.37"/><circle cx="430.9" cy="298.7" r="1.3" fill="#5a6ed8" fill-opacity="0.43"/><circle cx="472.2" cy="232.4" r="0.9" fill="#7484e0" fill-opacity="0.53"/><circle cx="434.8" cy="292.9" r="1.5" fill="#7484e0" fill-opacity="0.52"/><circle cx="440.8" cy="303.3" r="1.6" fill="#5a6ed8" fill-opacity="0.74"/><circle cx="421.4" cy="274.4" r="1.2" fill="#5a6ed8" fill-opacity="0.77"/><circle cx="435.6" cy="307.8" r="1.3" fill="#5060c8" fill-opacity="0.70"/><circle cx="475.0" cy="307.7" r="1.4" fill="#5a6ed8" fill-opacity="0.70"/><circle cx="493.9" cy="263.6" r="1.1" fill="#7484e0" fill-opacity="0.59"/><circle cx="429.8" cy="244.8" r="1.4" fill="#5060c8" fill-opacity="0.60"/><circle cx="440.4" cy="235.7" r="1.1" fill="#5a6ed8" fill-opacity="0.68"/><circle cx="476.4" cy="250.0" r="1.1" fill="#5060c8" fill-opacity="0.37"/><circle cx="497.5" cy="279.5" r="1.5" fill="#5a6ed8" fill-opacity="0.42"/><circle cx="452.9" cy="268.0" r="1.4" fill="#5a6ed8" fill-opacity="0.67"/><circle cx="475.1" cy="308.7" r="1.6" fill="#7484e0" fill-opacity="0.68"/><circle cx="491.0" cy="288.8" r="1.5" fill="#5a6ed8" fill-opacity="0.40"/><circle cx="450.7" cy="256.3" r="1.4" fill="#5a6ed8" fill-opacity="0.36"/><circle cx="470.0" cy="305.5" r="1.1" fill="#7484e0" fill-opacity="0.47"/><circle cx="453.3" cy="253.1" r="1.0" fill="#5a6ed8" fill-opacity="0.65"/><circle cx="428.5" cy="284.2" r="1.0" fill="#5060c8" fill-opacity="0.65"/><circle cx="441.9" cy="288.7" r="0.9" fill="#5a6ed8" fill-opacity="0.40"/><circle cx="435.8" cy="311.3" r="1.1" fill="#5060c8" fill-opacity="0.54"/><circle cx="464.1" cy="251.1" r="0.8" fill="#7484e0" fill-opacity="0.68"/><circle cx="437.7" cy="309.0" r="1.1" fill="#5a6ed8" fill-opacity="0.51"/><circle cx="425.3" cy="272.5" r="1.7" fill="#7484e0" fill-opacity="0.57"/><circle cx="440.0" cy="317.4" r="0.8" fill="#5060c8" fill-opacity="0.76"/><circle cx="470.4" cy="244.9" r="1.3" fill="#5a6ed8" fill-opacity="0.73"/><circle cx="455.7" cy="232.3" r="1.6" fill="#5a6ed8" fill-opacity="0.60"/><circle cx="434.5" cy="287.2" r="0.9" fill="#5a6ed8" fill-opacity="0.60"/><circle cx="487.5" cy="299.3" r="1.4" fill="#7484e0" fill-opacity="0.73"/><circle cx="472.9" cy="294.1" r="1.3" fill="#5a6ed8" fill-opacity="0.47"/><circle cx="434.5" cy="264.4" r="1.0" fill="#5060c8" fill-opacity="0.64"/><circle cx="422.9" cy="279.4" r="1.7" fill="#7484e0" fill-opacity="0.31"/><circle cx="481.2" cy="236.1" r="1.0" fill="#7484e0" fill-opacity="0.43"/><circle cx="470.3" cy="314.8" r="0.9" fill="#7484e0" fill-opacity="0.33"/><circle cx="483.4" cy="273.3" r="1.7" fill="#7484e0" fill-opacity="0.64"/><circle cx="425.9" cy="289.2" r="1.6" fill="#5060c8" fill-opacity="0.78"/><circle cx="448.6" cy="267.0" r="1.1" fill="#5060c8" fill-opacity="0.33"/><circle cx="460.0" cy="295.8" r="1.7" fill="#7484e0" fill-opacity="0.50"/><circle cx="447.4" cy="237.8" r="1.6" fill="#5a6ed8" fill-opacity="0.31"/><circle cx="468.7" cy="248.1" r="1.2" fill="#7484e0" fill-opacity="0.69"/><circle cx="480.8" cy="255.7" r="1.1" fill="#5a6ed8" fill-opacity="0.65"/><circle cx="449.3" cy="243.6" r="1.5" fill="#5060c8" fill-opacity="0.53"/><circle cx="441.1" cy="251.3" r="1.3" fill="#5060c8" fill-opacity="0.51"/><circle cx="465.6" cy="273.8" r="1.0" fill="#7484e0" fill-opacity="0.54"/><circle cx="421.9" cy="262.4" r="1.5" fill="#7484e0" fill-opacity="0.35"/><circle cx="444.7" cy="315.8" r="1.4" fill="#7484e0" fill-opacity="0.60"/><circle cx="426.0" cy="283.0" r="1.1" fill="#5a6ed8" fill-opacity="0.73"/><circle cx="482.0" cy="273.6" r="0.8" fill="#5a6ed8" fill-opacity="0.73"/><circle cx="479.0" cy="288.3" r="1.1" fill="#7484e0" fill-opacity="0.54"/><circle cx="429.4" cy="251.5" r="1.0" fill="#5a6ed8" fill-opacity="0.56"/><circle cx="470.7" cy="270.6" r="1.7" fill="#5060c8" fill-opacity="0.57"/><circle cx="481.0" cy="276.1" r="1.6" fill="#5a6ed8" fill-opacity="0.76"/><circle cx="420.9" cy="261.0" r="1.5" fill="#7484e0" fill-opacity="0.78"/><circle cx="481.2" cy="286.7" r="0.9" fill="#5a6ed8" fill-opacity="0.78"/><circle cx="486.6" cy="269.3" r="1.7" fill="#7484e0" fill-opacity="0.47"/><circle cx="485.5" cy="245.4" r="1.6" fill="#5a6ed8" fill-opacity="0.74"/><circle cx="470.7" cy="318.7" r="0.9" fill="#7484e0" fill-opacity="0.70"/><circle cx="495.1" cy="278.3" r="1.1" fill="#5a6ed8" fill-opacity="0.44"/><circle cx="491.6" cy="262.6" r="0.8" fill="#5a6ed8" fill-opacity="0.34"/><circle cx="447.2" cy="264.1" r="0.9" fill="#7484e0" fill-opacity="0.70"/><circle cx="495.3" cy="263.6" r="0.8" fill="#5060c8" fill-opacity="0.75"/><circle cx="470.5" cy="306.1" r="0.8" fill="#5060c8" fill-opacity="0.62"/><circle cx="427.9" cy="305.1" r="1.1" fill="#7484e0" fill-opacity="0.39"/><circle cx="494.4" cy="256.1" r="1.1" fill="#5a6ed8" fill-opacity="0.45"/><circle cx="491.8" cy="276.7" r="1.5" fill="#5a6ed8" fill-opacity="0.55"/><circle cx="434.0" cy="246.3" r="1.5" fill="#5a6ed8" fill-opacity="0.32"/><circle cx="447.0" cy="310.6" r="1.0" fill="#5a6ed8" fill-opacity="0.39"/><circle cx="490.3" cy="294.1" r="1.3" fill="#7484e0" fill-opacity="0.59"/><circle cx="440.7" cy="248.5" r="1.2" fill="#7484e0" fill-opacity="0.33"/><circle cx="470.6" cy="312.0" r="1.0" fill="#5060c8" fill-opacity="0.49"/><circle cx="434.9" cy="293.4" r="0.8" fill="#5a6ed8" fill-opacity="0.60"/><circle cx="434.2" cy="247.7" r="1.2" fill="#7484e0" fill-opacity="0.45"/><circle cx="497.4" cy="256.2" r="1.2" fill="#7484e0" fill-opacity="0.63"/><circle cx="435.4" cy="293.7" r="1.4" fill="#5060c8" fill-opacity="0.49"/><circle cx="437.4" cy="296.2" r="1.5" fill="#7484e0" fill-opacity="0.39"/><circle cx="435.3" cy="306.0" r="1.7" fill="#7484e0" fill-opacity="0.68"/><circle cx="431.9" cy="299.0" r="1.6" fill="#5a6ed8" fill-opacity="0.53"/><circle cx="481.6" cy="285.0" r="1.5" fill="#7484e0" fill-opacity="0.38"/><circle cx="442.4" cy="276.3" r="1.4" fill="#5a6ed8" fill-opacity="0.66"/><circle cx="442.9" cy="317.5" r="1.0" fill="#5060c8" fill-opacity="0.33"/><circle cx="478.0" cy="289.6" r="1.2" fill="#7484e0" fill-opacity="0.48"/><circle cx="455.6" cy="316.7" r="1.6" fill="#5060c8" fill-opacity="0.67"/><circle cx="442.1" cy="309.7" r="1.2" fill="#5060c8" fill-opacity="0.56"/><circle cx="427.9" cy="254.2" r="1.6" fill="#5060c8" fill-opacity="0.62"/><circle cx="426.0" cy="261.7" r="1.3" fill="#7484e0" fill-opacity="0.38"/><circle cx="429.7" cy="289.5" r="1.1" fill="#5a6ed8" fill-opacity="0.39"/><circle cx="439.0" cy="310.7" r="0.9" fill="#5a6ed8" fill-opacity="0.61"/><circle cx="467.1" cy="256.8" r="0.9" fill="#5a6ed8" fill-opacity="0.73"/><circle cx="424.1" cy="280.4" r="1.2" fill="#5a6ed8" fill-opacity="0.52"/><circle cx="444.0" cy="313.9" r="1.6" fill="#5060c8" fill-opacity="0.46"/><circle cx="481.1" cy="267.3" r="1.3" fill="#7484e0" fill-opacity="0.77"/><circle cx="432.4" cy="259.9" r="1.4" fill="#5a6ed8" fill-opacity="0.43"/><circle cx="462.3" cy="255.2" r="1.6" fill="#5a6ed8" fill-opacity="0.74"/><circle cx="481.7" cy="255.8" r="0.8" fill="#7484e0" fill-opacity="0.64"/><circle cx="473.4" cy="314.0" r="1.2" fill="#5a6ed8" fill-opacity="0.35"/><circle cx="423.3" cy="303.6" r="1.0" fill="#5a6ed8" fill-opacity="0.36"/><circle cx="431.2" cy="280.4" r="1.1" fill="#7484e0" fill-opacity="0.32"/><circle cx="490.6" cy="258.9" r="1.2" fill="#5060c8" fill-opacity="0.53"/><circle cx="441.8" cy="252.5" r="1.4" fill="#5060c8" fill-opacity="0.45"/><circle cx="450.1" cy="313.4" r="1.4" fill="#5a6ed8" fill-opacity="0.43"/><circle cx="441.4" cy="269.1" r="0.9" fill="#5a6ed8" fill-opacity="0.61"/><circle cx="420.0" cy="285.1" r="1.0" fill="#7484e0" fill-opacity="0.44"/><circle cx="474.1" cy="269.5" r="1.5" fill="#5a6ed8" fill-opacity="0.36"/><circle cx="430.3" cy="299.5" r="1.6" fill="#7484e0" fill-opacity="0.47"/><circle cx="461.8" cy="309.3" r="1.5" fill="#5060c8" fill-opacity="0.49"/><circle cx="489.8" cy="278.4" r="0.8" fill="#5a6ed8" fill-opacity="0.38"/><circle cx="450.7" cy="317.5" r="1.7" fill="#5a6ed8" fill-opacity="0.66"/><circle cx="437.1" cy="285.4" r="1.2" fill="#5a6ed8" fill-opacity="0.49"/><circle cx="463.3" cy="313.5" r="1.5" fill="#5060c8" fill-opacity="0.57"/><circle cx="431.6" cy="247.3" r="0.9" fill="#5060c8" fill-opacity="0.31"/><circle cx="460.6" cy="315.5" r="1.4" fill="#5060c8" fill-opacity="0.57"/><circle cx="473.8" cy="295.6" r="0.9" fill="#5060c8" fill-opacity="0.35"/><circle cx="486.7" cy="269.9" r="1.5" fill="#5060c8" fill-opacity="0.47"/></g>
<circle cx="510.5" cy="229.6" r="0.8" fill="#556"/>
<text x="52.4" y="379.2" font-family="Liberation Serif" font-size="7.4" font-weight="bold" fill="#d8143e" text-anchor="middle" textLength="36.4" lengthAdjust="spacingAndGlyphs" >WT BMMC</text>
<polyline points="26.00,410.21 26.68,409.59 27.37,409.27 28.05,409.37 28.73,408.50 29.41,408.14 30.10,407.50 30.78,407.16 31.46,408.42 32.15,408.84 32.83,407.93 33.51,409.07 34.19,409.27 34.88,410.01 35.56,410.05 36.24,410.08 36.93,410.40 37.61,410.11 38.29,410.14 38.97,410.40 39.66,410.40 40.34,410.16 41.02,409.82 41.71,409.89 42.39,409.66 43.07,409.13 43.75,409.28 44.44,408.20 45.12,406.89 45.80,405.66 46.49,404.79 47.17,403.37 47.85,401.93 48.53,400.12 49.22,399.15 49.90,398.59 50.58,396.58 51.27,396.78 51.95,396.87 52.63,398.38 53.31,398.23 54.00,399.95 54.68,402.83 55.36,404.13 56.05,405.02 56.73,406.36 57.41,407.08 58.09,408.77 58.78,409.10 59.46,409.61 60.14,410.07 60.83,410.11 61.51,410.08 62.19,410.16 62.87,410.36 63.56,410.34 64.24,410.40 64.92,410.40 65.61,410.25 66.29,410.40 66.97,410.40 67.65,410.38 68.34,410.30 69.02,410.31 69.70,410.40 70.39,410.40 71.07,410.40 71.75,410.26 72.43,410.39 73.12,410.40 73.80,410.40" fill="none" stroke="#d8143e" stroke-width="1.25" stroke-linejoin="round" />
<polyline points="26.00,402.51 26.68,403.57 27.37,404.10 28.05,404.95 28.73,406.34 29.41,403.10 30.10,395.52 30.78,387.98 31.46,385.77 32.15,387.02 32.83,389.46 33.51,392.26 34.19,396.24 34.88,399.43 35.56,402.14 36.24,404.97 36.93,406.99 37.61,408.50 38.29,409.19 38.97,409.64 39.66,410.19 40.34,410.17 41.02,410.25 41.71,410.27 42.39,410.33 43.07,410.32 43.75,410.39 44.44,410.38 45.12,410.40 45.80,410.40 46.49,410.31 47.17,410.38 47.85,410.40 48.53,410.40 49.22,410.40 49.90,410.40 50.58,410.40 51.27,410.39 51.95,410.37 52.63,410.37 53.31,410.40 54.00,410.40 54.68,410.40 55.36,410.40 56.05,410.38 56.73,410.31 57.41,410.33 58.09,410.33 58.78,410.32 59.46,410.40 60.14,410.32 60.83,410.36 61.51,410.40 62.19,410.40 62.87,410.40 63.56,410.34 64.24,410.40 64.92,410.40 65.61,410.37 66.29,410.40 66.97,410.40 67.65,410.40 68.34,410.39 69.02,410.40 69.70,410.40 70.39,410.35 71.07,410.40 71.75,410.40 72.43,410.40 73.12,410.40 73.80,410.40" fill="none" stroke="#111" stroke-width="1.05" stroke-linejoin="round" />
<rect x="26.00" y="382.00" width="47.80" height="29.20" fill="none" stroke="#000" stroke-width="1.05" />
<line x1="24.50" y1="411.20" x2="26.00" y2="411.20" stroke="#000" stroke-width="0.7" />
<line x1="24.50" y1="405.36" x2="26.00" y2="405.36" stroke="#000" stroke-width="0.7" />
<line x1="24.50" y1="399.52" x2="26.00" y2="399.52" stroke="#000" stroke-width="0.7" />
<line x1="24.50" y1="393.68" x2="26.00" y2="393.68" stroke="#000" stroke-width="0.7" />
<line x1="24.50" y1="387.84" x2="26.00" y2="387.84" stroke="#000" stroke-width="0.7" />
<line x1="24.50" y1="382.00" x2="26.00" y2="382.00" stroke="#000" stroke-width="0.7" />
<rect x="20.4" y="391.0" width="2" height="8" fill="#777"/>
<rect x="22.5" y="383.0" width="1.6" height="2.4" fill="#555"/>
<line x1="26.00" y1="411.20" x2="26.00" y2="412.80" stroke="#000" stroke-width="0.7" />
<rect x="25.0" y="413.2" width="2" height="1.5" fill="#555"/>
<line x1="37.95" y1="411.20" x2="37.95" y2="412.80" stroke="#000" stroke-width="0.7" />
<rect x="37.0" y="413.2" width="2" height="1.5" fill="#555"/>
<line x1="49.90" y1="411.20" x2="49.90" y2="412.80" stroke="#000" stroke-width="0.7" />
<rect x="48.9" y="413.2" width="2" height="1.5" fill="#555"/>
<line x1="61.85" y1="411.20" x2="61.85" y2="412.80" stroke="#000" stroke-width="0.7" />
<rect x="60.8" y="413.2" width="2" height="1.5" fill="#555"/>
<line x1="73.80" y1="411.20" x2="73.80" y2="412.80" stroke="#000" stroke-width="0.7" />
<rect x="72.8" y="413.2" width="2" height="1.5" fill="#555"/>
<rect x="47.4" y="415.2" width="5" height="1.6" fill="#777"/>
<text x="125.6" y="379.2" font-family="Liberation Serif" font-size="7.4" font-weight="bold" fill="#1a1a50" text-anchor="middle" textLength="54.6" lengthAdjust="spacingAndGlyphs" >Stat5 KO BMMC</text>
<polyline points="99.20,410.37 99.89,410.38 100.59,410.60 101.28,410.60 101.98,410.43 102.67,410.48 103.37,410.52 104.06,410.60 104.75,410.55 105.45,410.55 106.14,410.56 106.84,410.60 107.53,410.60 108.23,410.60 108.92,410.47 109.61,410.32 110.31,410.32 111.00,410.49 111.70,410.47 112.39,410.46 113.09,410.42 113.78,410.19 114.47,409.65 115.17,409.49 115.86,408.80 116.56,407.22 117.25,406.94 117.95,405.86 118.64,405.28 119.33,404.47 120.03,402.82 120.72,402.09 121.42,400.62 122.11,399.21 122.81,399.48 123.50,400.40 124.19,399.73 124.89,400.79 125.58,402.06 126.28,403.08 126.97,404.65 127.67,405.86 128.36,407.69 129.05,407.56 129.75,408.30 130.44,409.77 131.14,409.85 131.83,410.12 132.53,410.40 133.22,410.46 133.91,410.54 134.61,410.35 135.30,410.58 136.00,410.43 136.69,410.60 137.39,410.41 138.08,410.40 138.77,410.60 139.47,410.57 140.16,410.39 140.86,410.49 141.55,410.60 142.25,410.60 142.94,410.60 143.63,410.50 144.33,410.60 145.02,410.40 145.72,410.60 146.41,410.39 147.11,410.60 147.80,410.37" fill="none" stroke="#1c1c90" stroke-width="1.25" stroke-linejoin="round" />
<polyline points="99.20,399.31 99.89,401.15 100.59,402.81 101.28,404.37 101.98,402.93 102.67,395.43 103.37,388.53 104.06,386.76 104.75,387.53 105.45,390.05 106.14,393.56 106.84,396.34 107.53,399.77 108.23,402.59 108.92,405.56 109.61,406.80 110.31,408.40 111.00,408.32 111.70,408.60 112.39,408.36 113.09,407.53 113.78,408.08 114.47,407.94 115.17,408.14 115.86,409.24 116.56,409.67 117.25,409.94 117.95,410.34 118.64,410.42 119.33,410.60 120.03,410.60 120.72,410.60 121.42,410.56 122.11,410.60 122.81,410.49 123.50,410.60 124.19,410.54 124.89,410.60 125.58,410.60 126.28,410.52 126.97,410.60 127.67,410.60 128.36,410.55 129.05,410.60 129.75,410.60 130.44,410.48 131.14,410.60 131.83,410.60 132.53,410.60 133.22,410.57 133.91,410.54 134.61,410.60 135.30,410.60 136.00,410.60 136.69,410.60 137.39,410.53 138.08,410.54 138.77,410.50 139.47,410.54 140.16,410.51 140.86,410.55 141.55,410.60 142.25,410.60 142.94,410.56 143.63,410.60 144.33,410.60 145.02,410.60 145.72,410.51 146.41,410.60 147.11,410.58 147.80,410.60" fill="none" stroke="#111" stroke-width="1.05" stroke-linejoin="round" />
<rect x="99.20" y="382.00" width="48.60" height="29.40" fill="none" stroke="#000" stroke-width="1.05" />
<line x1="97.70" y1="411.40" x2="99.20" y2="411.40" stroke="#000" stroke-width="0.7" />
<line x1="97.70" y1="405.52" x2="99.20" y2="405.52" stroke="#000" stroke-width="0.7" />
<line x1="97.70" y1="399.64" x2="99.20" y2="399.64" stroke="#000" stroke-width="0.7" />
<line x1="97.70" y1="393.76" x2="99.20" y2="393.76" stroke="#000" stroke-width="0.7" />
<line x1="97.70" y1="387.88" x2="99.20" y2="387.88" stroke="#000" stroke-width="0.7" />
<line x1="97.70" y1="382.00" x2="99.20" y2="382.00" stroke="#000" stroke-width="0.7" />
<rect x="93.6" y="391.0" width="2" height="8" fill="#777"/>
<rect x="95.7" y="383.0" width="1.6" height="2.4" fill="#555"/>
<line x1="99.20" y1="411.40" x2="99.20" y2="413.00" stroke="#000" stroke-width="0.7" />
<rect x="98.2" y="413.4" width="2" height="1.5" fill="#555"/>
<line x1="111.35" y1="411.40" x2="111.35" y2="413.00" stroke="#000" stroke-width="0.7" />
<rect x="110.4" y="413.4" width="2" height="1.5" fill="#555"/>
<line x1="123.50" y1="411.40" x2="123.50" y2="413.00" stroke="#000" stroke-width="0.7" />
<rect x="122.5" y="413.4" width="2" height="1.5" fill="#555"/>
<line x1="135.65" y1="411.40" x2="135.65" y2="413.00" stroke="#000" stroke-width="0.7" />
<rect x="134.7" y="413.4" width="2" height="1.5" fill="#555"/>
<line x1="147.80" y1="411.40" x2="147.80" y2="413.00" stroke="#000" stroke-width="0.7" />
<rect x="146.8" y="413.4" width="2" height="1.5" fill="#555"/>
<rect x="121.0" y="415.4" width="5" height="1.6" fill="#777"/>
<text x="205.4" y="379.2" font-family="Liberation Serif" font-size="7.4" font-weight="bold" fill="#d8143e" text-anchor="middle" textLength="38" lengthAdjust="spacingAndGlyphs" >WT BMMC</text>
<polyline points="180.20,411.20 180.89,411.18 181.58,411.20 182.27,411.15 182.97,411.14 183.66,411.20 184.35,411.20 185.04,411.03 185.73,411.20 186.42,411.20 187.11,410.95 187.81,411.20 188.50,411.03 189.19,411.20 189.88,411.13 190.57,411.20 191.26,411.13 191.95,411.02 192.65,411.19 193.34,411.08 194.03,411.11 194.72,411.20 195.41,411.07 196.10,411.15 196.79,411.20 197.49,411.20 198.18,411.00 198.87,411.17 199.56,410.97 200.25,410.73 200.94,410.47 201.63,409.72 202.33,409.00 203.02,406.59 203.71,404.75 204.40,400.87 205.09,397.57 205.78,395.67 206.47,393.20 207.17,391.97 207.86,391.19 208.55,394.01 209.24,396.66 209.93,400.58 210.62,403.48 211.31,406.39 212.01,408.46 212.70,409.41 213.39,410.32 214.08,410.61 214.77,410.94 215.46,410.92 216.15,411.00 216.85,410.95 217.54,411.11 218.23,411.20 218.92,411.02 219.61,410.97 220.30,411.00 220.99,411.17 221.69,411.09 222.38,411.20 223.07,411.03 223.76,411.16 224.45,411.20 225.14,411.20 225.83,411.02 226.53,410.95 227.22,411.20 227.91,411.05 228.60,411.20" fill="none" stroke="#d8143e" stroke-width="1.25" stroke-linejoin="round" />
<polyline points="180.20,405.93 180.89,406.43 181.58,406.66 182.27,407.19 182.97,408.50 183.66,408.65 184.35,405.26 185.04,396.91 185.73,388.62 186.42,384.47 187.11,385.79 187.81,389.78 188.50,394.21 189.19,399.76 189.88,404.21 190.57,406.92 191.26,409.42 191.95,410.26 192.65,410.79 193.34,411.01 194.03,411.20 194.72,411.20 195.41,411.10 196.10,411.20 196.79,411.08 197.49,411.10 198.18,411.20 198.87,411.20 199.56,411.19 200.25,411.16 200.94,411.18 201.63,411.19 202.33,411.17 203.02,411.09 203.71,411.20 204.40,411.20 205.09,411.14 205.78,411.20 206.47,411.20 207.17,411.08 207.86,411.19 208.55,411.19 209.24,411.20 209.93,411.20 210.62,411.18 211.31,411.20 212.01,411.17 212.70,411.17 213.39,411.20 214.08,411.17 214.77,411.20 215.46,411.16 216.15,411.20 216.85,411.15 217.54,411.14 218.23,411.20 218.92,411.20 219.61,411.16 220.30,411.08 220.99,411.20 221.69,411.20 222.38,411.18 223.07,411.20 223.76,411.20 224.45,411.20 225.14,411.20 225.83,411.18 226.53,411.20 227.22,411.20 227.91,411.13 228.60,411.20" fill="none" stroke="#111" stroke-width="1.05" stroke-linejoin="round" />
<rect x="180.20" y="382.60" width="48.40" height="29.40" fill="none" stroke="#000" stroke-width="1.05" />
<line x1="178.70" y1="412.00" x2="180.20" y2="412.00" stroke="#000" stroke-width="0.7" />
<line x1="178.70" y1="406.12" x2="180.20" y2="406.12" stroke="#000" stroke-width="0.7" />
<line x1="178.70" y1="400.24" x2="180.20" y2="400.24" stroke="#000" stroke-width="0.7" />
<line x1="178.70" y1="394.36" x2="180.20" y2="394.36" stroke="#000" stroke-width="0.7" />
<line x1="178.70" y1="388.48" x2="180.20" y2="388.48" stroke="#000" stroke-width="0.7" />
<line x1="178.70" y1="382.60" x2="180.20" y2="382.60" stroke="#000" stroke-width="0.7" />
<rect x="174.6" y="391.6" width="2" height="8" fill="#777"/>
<rect x="176.7" y="383.6" width="1.6" height="2.4" fill="#555"/>
<line x1="180.20" y1="412.00" x2="180.20" y2="413.60" stroke="#000" stroke-width="0.7" />
<rect x="179.2" y="414.0" width="2" height="1.5" fill="#555"/>
<line x1="192.30" y1="412.00" x2="192.30" y2="413.60" stroke="#000" stroke-width="0.7" />
<rect x="191.3" y="414.0" width="2" height="1.5" fill="#555"/>
<line x1="204.40" y1="412.00" x2="204.40" y2="413.60" stroke="#000" stroke-width="0.7" />
<rect x="203.4" y="414.0" width="2" height="1.5" fill="#555"/>
<line x1="216.50" y1="412.00" x2="216.50" y2="413.60" stroke="#000" stroke-width="0.7" />
<rect x="215.5" y="414.0" width="2" height="1.5" fill="#555"/>
<line x1="228.60" y1="412.00" x2="228.60" y2="413.60" stroke="#000" stroke-width="0.7" />
<rect x="227.6" y="414.0" width="2" height="1.5" fill="#555"/>
<rect x="201.9" y="416.0" width="5" height="1.6" fill="#777"/>
<text x="278" y="379.2" font-family="Liberation Serif" font-size="7.4" font-weight="bold" fill="#1a1a50" text-anchor="middle" textLength="54.5" lengthAdjust="spacingAndGlyphs" >Stat5 KO BMMC</text>
<polyline points="254.40,411.20 255.09,411.20 255.77,411.20 256.46,411.20 257.14,411.20 257.83,411.20 258.51,411.00 259.20,411.05 259.89,411.07 260.57,411.20 261.26,411.18 261.94,411.20 262.63,411.20 263.31,411.20 264.00,411.20 264.69,410.99 265.37,411.04 266.06,411.05 266.74,411.05 267.43,411.20 268.11,411.20 268.80,411.13 269.49,411.07 270.17,411.00 270.86,410.95 271.54,411.20 272.23,410.87 272.91,410.60 273.60,410.27 274.29,410.15 274.97,408.72 275.66,408.06 276.34,405.04 277.03,403.24 277.71,401.73 278.40,400.20 279.09,397.63 279.77,397.19 280.46,396.45 281.14,397.16 281.83,399.17 282.51,401.33 283.20,403.24 283.89,405.63 284.57,407.89 285.26,409.06 285.94,409.23 286.63,410.61 287.31,411.00 288.00,410.93 288.69,411.20 289.37,411.14 290.06,411.20 290.74,411.20 291.43,410.95 292.11,411.20 292.80,411.20 293.49,411.20 294.17,411.14 294.86,411.20 295.54,411.20 296.23,411.08 296.91,411.20 297.60,411.17 298.29,411.00 298.97,411.20 299.66,411.20 300.34,411.20 301.03,411.07 301.71,411.14 302.40,411.20" fill="none" stroke="#111" stroke-width="1.25" stroke-linejoin="round" />
<polyline points="254.40,403.18 255.09,404.57 255.77,405.61 256.46,407.21 257.14,403.94 257.83,397.50 258.51,392.64 259.20,392.48 259.89,393.83 260.57,397.23 261.26,400.18 261.94,402.79 262.63,405.66 263.31,408.03 264.00,409.02 264.69,410.23 265.37,410.67 266.06,411.05 266.74,411.20 267.43,411.18 268.11,411.20 268.80,411.20 269.49,411.09 270.17,411.20 270.86,411.20 271.54,411.20 272.23,411.20 272.91,411.13 273.60,411.20 274.29,411.20 274.97,411.20 275.66,411.08 276.34,411.20 277.03,411.20 277.71,411.20 278.40,411.20 279.09,411.20 279.77,411.16 280.46,411.20 281.14,411.20 281.83,411.20 282.51,411.20 283.20,411.08 283.89,411.20 284.57,411.19 285.26,411.13 285.94,411.20 286.63,411.08 287.31,411.20 288.00,411.20 288.69,411.20 289.37,411.20 290.06,411.20 290.74,411.20 291.43,411.10 292.11,411.12 292.80,411.20 293.49,411.20 294.17,411.20 294.86,411.20 295.54,411.20 296.23,411.20 296.91,411.11 297.60,411.20 298.29,411.20 298.97,411.10 299.66,411.18 300.34,411.08 301.03,411.20 301.71,411.10 302.40,411.16" fill="none" stroke="#111" stroke-width="1.05" stroke-linejoin="round" />
<rect x="254.40" y="383.20" width="48.00" height="28.80" fill="none" stroke="#000" stroke-width="1.05" />
<line x1="252.90" y1="412.00" x2="254.40" y2="412.00" stroke="#000" stroke-width="0.7" />
<line x1="252.90" y1="406.24" x2="254.40" y2="406.24" stroke="#000" stroke-width="0.7" />
<line x1="252.90" y1="400.48" x2="254.40" y2="400.48" stroke="#000" stroke-width="0.7" />
<line x1="252.90" y1="394.72" x2="254.40" y2="394.72" stroke="#000" stroke-width="0.7" />
<line x1="252.90" y1="388.96" x2="254.40" y2="388.96" stroke="#000" stroke-width="0.7" />
<line x1="252.90" y1="383.20" x2="254.40" y2="383.20" stroke="#000" stroke-width="0.7" />
<rect x="248.8" y="392.2" width="2" height="8" fill="#777"/>
<rect x="250.9" y="384.2" width="1.6" height="2.4" fill="#555"/>
<line x1="254.40" y1="412.00" x2="254.40" y2="413.60" stroke="#000" stroke-width="0.7" />
<rect x="253.4" y="414.0" width="2" height="1.5" fill="#555"/>
<line x1="266.40" y1="412.00" x2="266.40" y2="413.60" stroke="#000" stroke-width="0.7" />
<rect x="265.4" y="414.0" width="2" height="1.5" fill="#555"/>
<line x1="278.40" y1="412.00" x2="278.40" y2="413.60" stroke="#000" stroke-width="0.7" />
<rect x="277.4" y="414.0" width="2" height="1.5" fill="#555"/>
<line x1="290.40" y1="412.00" x2="290.40" y2="413.60" stroke="#000" stroke-width="0.7" />
<rect x="289.4" y="414.0" width="2" height="1.5" fill="#555"/>
<line x1="302.40" y1="412.00" x2="302.40" y2="413.60" stroke="#000" stroke-width="0.7" />
<rect x="301.4" y="414.0" width="2" height="1.5" fill="#555"/>
<rect x="275.9" y="416.0" width="5" height="1.6" fill="#777"/>
<polyline points="29.40,464.54 30.09,464.48 30.78,464.46 31.47,464.38 32.17,464.48 32.86,464.39 33.55,464.60 34.24,464.60 34.93,464.38 35.62,464.53 36.31,464.41 37.01,464.60 37.70,464.60 38.39,464.60 39.08,464.58 39.77,464.56 40.46,464.60 41.15,464.60 41.85,464.60 42.54,464.40 43.23,464.47 43.92,464.60 44.61,464.45 45.30,464.60 45.99,464.53 46.69,464.60 47.38,464.60 48.07,464.24 48.76,464.32 49.45,463.85 50.14,462.06 50.83,460.81 51.53,459.61 52.22,455.63 52.91,452.86 53.60,449.02 54.29,446.63 54.98,443.37 55.67,443.27 56.37,443.99 57.06,446.68 57.75,451.06 58.44,454.57 59.13,458.16 59.82,460.79 60.51,462.77 61.21,463.57 61.90,463.88 62.59,464.54 63.28,464.39 63.97,464.60 64.66,464.60 65.35,464.44 66.05,464.60 66.74,464.60 67.43,464.60 68.12,464.50 68.81,464.60 69.50,464.37 70.19,464.60 70.89,464.48 71.58,464.43 72.27,464.60 72.96,464.46 73.65,464.60 74.34,464.56 75.03,464.60 75.73,464.60 76.42,464.60 77.11,464.38 77.80,464.60" fill="none" stroke="#d8143e" stroke-width="1.25" stroke-linejoin="round" />
<polyline points="29.40,458.99 30.09,459.49 30.78,460.13 31.47,461.25 32.17,461.80 32.86,457.52 33.55,450.75 34.24,443.95 34.93,438.68 35.62,438.49 36.31,440.29 37.01,444.13 37.70,447.32 38.39,452.10 39.08,455.64 39.77,458.48 40.46,460.53 41.15,462.57 41.85,463.33 42.54,464.00 43.23,464.37 43.92,464.52 44.61,464.60 45.30,464.60 45.99,464.60 46.69,464.55 47.38,464.48 48.07,464.60 48.76,464.60 49.45,464.48 50.14,464.59 50.83,464.60 51.53,464.60 52.22,464.58 52.91,464.52 53.60,464.60 54.29,464.60 54.98,464.60 55.67,464.50 56.37,464.60 57.06,464.60 57.75,464.52 58.44,464.60 59.13,464.54 59.82,464.49 60.51,464.57 61.21,464.53 61.90,464.60 62.59,464.60 63.28,464.60 63.97,464.52 64.66,464.60 65.35,464.60 66.05,464.48 66.74,464.51 67.43,464.48 68.12,464.60 68.81,464.60 69.50,464.54 70.19,464.60 70.89,464.60 71.58,464.60 72.27,464.60 72.96,464.60 73.65,464.48 74.34,464.49 75.03,464.57 75.73,464.60 76.42,464.60 77.11,464.60 77.80,464.60" fill="none" stroke="#111" stroke-width="1.05" stroke-linejoin="round" />
<rect x="29.40" y="436.80" width="48.40" height="28.60" fill="none" stroke="#000" stroke-width="1.05" />
<line x1="27.90" y1="465.40" x2="29.40" y2="465.40" stroke="#000" stroke-width="0.7" />
<line x1="27.90" y1="459.68" x2="29.40" y2="459.68" stroke="#000" stroke-width="0.7" />
<line x1="27.90" y1="453.96" x2="29.40" y2="453.96" stroke="#000" stroke-width="0.7" />
<line x1="27.90" y1="448.24" x2="29.40" y2="448.24" stroke="#000" stroke-width="0.7" />
<line x1="27.90" y1="442.52" x2="29.40" y2="442.52" stroke="#000" stroke-width="0.7" />
<line x1="27.90" y1="436.80" x2="29.40" y2="436.80" stroke="#000" stroke-width="0.7" />
<rect x="23.8" y="445.8" width="2" height="8" fill="#777"/>
<rect x="25.9" y="437.8" width="1.6" height="2.4" fill="#555"/>
<line x1="29.40" y1="465.40" x2="29.40" y2="467.00" stroke="#000" stroke-width="0.7" />
<rect x="28.4" y="467.4" width="2" height="1.5" fill="#555"/>
<line x1="41.50" y1="465.40" x2="41.50" y2="467.00" stroke="#000" stroke-width="0.7" />
<rect x="40.5" y="467.4" width="2" height="1.5" fill="#555"/>
<line x1="53.60" y1="465.40" x2="53.60" y2="467.00" stroke="#000" stroke-width="0.7" />
<rect x="52.6" y="467.4" width="2" height="1.5" fill="#555"/>
<line x1="65.70" y1="465.40" x2="65.70" y2="467.00" stroke="#000" stroke-width="0.7" />
<rect x="64.7" y="467.4" width="2" height="1.5" fill="#555"/>
<line x1="77.80" y1="465.40" x2="77.80" y2="467.00" stroke="#000" stroke-width="0.7" />
<rect x="76.8" y="467.4" width="2" height="1.5" fill="#555"/>
<rect x="51.1" y="469.4" width="5" height="1.6" fill="#777"/>
<polyline points="102.60,464.75 103.30,464.74 104.00,464.90 104.70,464.90 105.41,464.90 106.11,464.82 106.81,464.90 107.51,464.77 108.21,464.90 108.91,464.77 109.61,464.90 110.32,464.75 111.02,464.79 111.72,464.90 112.42,464.88 113.12,464.81 113.82,464.90 114.52,464.87 115.23,464.75 115.93,464.90 116.63,464.75 117.33,464.81 118.03,464.73 118.73,464.90 119.43,464.90 120.14,464.74 120.84,464.70 121.54,464.81 122.24,464.83 122.94,464.45 123.64,463.62 124.34,462.99 125.05,460.26 125.75,458.58 126.45,456.38 127.15,452.49 127.85,450.05 128.55,446.92 129.25,446.02 129.96,447.19 130.66,448.82 131.36,451.50 132.06,454.45 132.76,457.14 133.46,461.17 134.16,462.45 134.87,463.26 135.57,464.25 136.27,464.51 136.97,464.90 137.67,464.65 138.37,464.87 139.07,464.90 139.78,464.82 140.48,464.90 141.18,464.90 141.88,464.90 142.58,464.90 143.28,464.90 143.98,464.72 144.69,464.80 145.39,464.90 146.09,464.76 146.79,464.90 147.49,464.90 148.19,464.70 148.89,464.84 149.60,464.90 150.30,464.90 151.00,464.90 151.70,464.90" fill="none" stroke="#1c1c90" stroke-width="1.25" stroke-linejoin="round" />
<polyline points="102.60,458.97 103.30,460.54 104.00,461.02 104.70,461.54 105.41,458.22 106.11,452.58 106.81,448.35 107.51,445.74 108.21,446.33 108.91,448.00 109.61,450.04 110.32,453.02 111.02,455.39 111.72,457.89 112.42,460.21 113.12,461.87 113.82,462.84 114.52,463.82 115.23,464.39 115.93,464.52 116.63,464.80 117.33,464.83 118.03,464.80 118.73,464.90 119.43,464.90 120.14,464.90 120.84,464.88 121.54,464.90 122.24,464.90 122.94,464.90 123.64,464.79 124.34,464.90 125.05,464.90 125.75,464.81 126.45,464.87 127.15,464.90 127.85,464.90 128.55,464.90 129.25,464.90 129.96,464.90 130.66,464.90 131.36,464.82 132.06,464.90 132.76,464.86 133.46,464.78 134.16,464.79 134.87,464.90 135.57,464.87 136.27,464.90 136.97,464.90 137.67,464.90 138.37,464.83 139.07,464.79 139.78,464.90 140.48,464.90 141.18,464.90 141.88,464.90 142.58,464.90 143.28,464.83 143.98,464.90 144.69,464.85 145.39,464.90 146.09,464.79 146.79,464.81 147.49,464.90 148.19,464.90 148.89,464.79 149.60,464.87 150.30,464.90 151.00,464.83 151.70,464.82" fill="none" stroke="#111" stroke-width="1.05" stroke-linejoin="round" />
<rect x="102.60" y="436.50" width="49.10" height="29.20" fill="none" stroke="#000" stroke-width="1.05" />
<line x1="101.10" y1="465.70" x2="102.60" y2="465.70" stroke="#000" stroke-width="0.7" />
<line x1="101.10" y1="459.86" x2="102.60" y2="459.86" stroke="#000" stroke-width="0.7" />
<line x1="101.10" y1="454.02" x2="102.60" y2="454.02" stroke="#000" stroke-width="0.7" />
<line x1="101.10" y1="448.18" x2="102.60" y2="448.18" stroke="#000" stroke-width="0.7" />
<line x1="101.10" y1="442.34" x2="102.60" y2="442.34" stroke="#000" stroke-width="0.7" />
<line x1="101.10" y1="436.50" x2="102.60" y2="436.50" stroke="#000" stroke-width="0.7" />
<rect x="97.0" y="445.5" width="2" height="8" fill="#777"/>
<rect x="99.1" y="437.5" width="1.6" height="2.4" fill="#555"/>
<line x1="102.60" y1="465.70" x2="102.60" y2="467.30" stroke="#000" stroke-width="0.7" />
<rect x="101.6" y="467.7" width="2" height="1.5" fill="#555"/>
<line x1="114.88" y1="465.70" x2="114.88" y2="467.30" stroke="#000" stroke-width="0.7" />
<rect x="113.9" y="467.7" width="2" height="1.5" fill="#555"/>
<line x1="127.15" y1="465.70" x2="127.15" y2="467.30" stroke="#000" stroke-width="0.7" />
<rect x="126.1" y="467.7" width="2" height="1.5" fill="#555"/>
<line x1="139.42" y1="465.70" x2="139.42" y2="467.30" stroke="#000" stroke-width="0.7" />
<rect x="138.4" y="467.7" width="2" height="1.5" fill="#555"/>
<line x1="151.70" y1="465.70" x2="151.70" y2="467.30" stroke="#000" stroke-width="0.7" />
<rect x="150.7" y="467.7" width="2" height="1.5" fill="#555"/>
<rect x="124.6" y="469.7" width="5" height="1.6" fill="#777"/>
<polyline points="182.30,465.10 182.99,465.10 183.68,465.02 184.37,465.10 185.07,465.08 185.76,465.10 186.45,465.10 187.14,465.10 187.83,465.10 188.52,465.10 189.21,465.10 189.91,465.10 190.60,465.10 191.29,464.93 191.98,465.10 192.67,465.10 193.36,465.00 194.05,464.82 194.75,464.95 195.44,464.96 196.13,464.55 196.82,464.81 197.51,464.12 198.20,463.98 198.89,463.88 199.59,463.15 200.28,461.83 200.97,459.77 201.66,459.39 202.35,457.11 203.04,455.30 203.73,454.02 204.43,452.11 205.12,451.52 205.81,450.49 206.50,449.65 207.19,448.78 207.88,449.91 208.57,451.58 209.27,453.16 209.96,455.67 210.65,458.19 211.34,459.39 212.03,461.22 212.72,463.25 213.41,463.68 214.11,464.29 214.80,464.48 215.49,464.77 216.18,465.10 216.87,464.81 217.56,465.10 218.25,465.10 218.95,464.97 219.64,465.10 220.33,465.10 221.02,465.10 221.71,465.02 222.40,464.97 223.09,465.06 223.79,464.91 224.48,465.10 225.17,465.00 225.86,465.05 226.55,465.06 227.24,465.10 227.93,464.93 228.63,464.88 229.32,465.10 230.01,465.02 230.70,465.10" fill="none" stroke="#d8143e" stroke-width="1.25" stroke-linejoin="round" />
<polyline points="182.30,465.05 182.99,465.06 183.68,464.98 184.37,465.02 185.07,465.10 185.76,465.10 186.45,465.00 187.14,464.95 187.83,464.10 188.52,462.38 189.21,458.33 189.91,452.09 190.60,444.75 191.29,441.28 191.98,441.68 192.67,444.92 193.36,449.48 194.05,455.27 194.75,459.18 195.44,461.99 196.13,463.39 196.82,464.46 197.51,464.81 198.20,465.09 198.89,465.10 199.59,465.10 200.28,465.00 200.97,464.99 201.66,465.10 202.35,465.10 203.04,465.10 203.73,465.10 204.43,465.10 205.12,465.08 205.81,465.10 206.50,465.10 207.19,465.10 207.88,465.10 208.57,465.08 209.27,464.99 209.96,465.05 210.65,465.10 211.34,465.07 212.03,465.06 212.72,465.10 213.41,465.00 214.11,465.03 214.80,465.01 215.49,465.03 216.18,465.10 216.87,465.10 217.56,465.10 218.25,465.07 218.95,465.10 219.64,465.10 220.33,465.10 221.02,465.10 221.71,465.10 222.40,465.10 223.09,465.10 223.79,465.10 224.48,465.10 225.17,465.10 225.86,465.10 226.55,465.01 227.24,465.07 227.93,465.10 228.63,465.10 229.32,465.10 230.01,465.10 230.70,465.10" fill="none" stroke="#111" stroke-width="1.05" stroke-linejoin="round" />
<rect x="182.30" y="436.60" width="48.40" height="29.30" fill="none" stroke="#000" stroke-width="1.05" />
<line x1="180.80" y1="465.90" x2="182.30" y2="465.90" stroke="#000" stroke-width="0.7" />
<line x1="180.80" y1="460.04" x2="182.30" y2="460.04" stroke="#000" stroke-width="0.7" />
<line x1="180.80" y1="454.18" x2="182.30" y2="454.18" stroke="#000" stroke-width="0.7" />
<line x1="180.80" y1="448.32" x2="182.30" y2="448.32" stroke="#000" stroke-width="0.7" />
<line x1="180.80" y1="442.46" x2="182.30" y2="442.46" stroke="#000" stroke-width="0.7" />
<line x1="180.80" y1="436.60" x2="182.30" y2="436.60" stroke="#000" stroke-width="0.7" />
<rect x="176.7" y="445.6" width="2" height="8" fill="#777"/>
<rect x="178.8" y="437.6" width="1.6" height="2.4" fill="#555"/>
<line x1="182.30" y1="465.90" x2="182.30" y2="467.50" stroke="#000" stroke-width="0.7" />
<rect x="181.3" y="467.9" width="2" height="1.5" fill="#555"/>
<line x1="194.40" y1="465.90" x2="194.40" y2="467.50" stroke="#000" stroke-width="0.7" />
<rect x="193.4" y="467.9" width="2" height="1.5" fill="#555"/>
<line x1="206.50" y1="465.90" x2="206.50" y2="467.50" stroke="#000" stroke-width="0.7" />
<rect x="205.5" y="467.9" width="2" height="1.5" fill="#555"/>
<line x1="218.60" y1="465.90" x2="218.60" y2="467.50" stroke="#000" stroke-width="0.7" />
<rect x="217.6" y="467.9" width="2" height="1.5" fill="#555"/>
<line x1="230.70" y1="465.90" x2="230.70" y2="467.50" stroke="#000" stroke-width="0.7" />
<rect x="229.7" y="467.9" width="2" height="1.5" fill="#555"/>
<rect x="204.0" y="469.9" width="5" height="1.6" fill="#777"/>
<polyline points="255.90,465.40 256.60,465.17 257.30,465.40 258.00,465.30 258.70,465.40 259.40,465.40 260.10,465.15 260.80,465.40 261.50,465.33 262.20,465.40 262.90,465.40 263.60,465.40 264.30,465.40 265.00,465.23 265.70,465.40 266.40,465.40 267.10,465.40 267.80,465.40 268.50,465.34 269.20,464.99 269.90,465.05 270.60,464.85 271.30,464.23 272.00,462.47 272.70,462.89 273.40,460.47 274.10,459.09 274.80,456.65 275.50,455.24 276.20,452.96 276.90,452.09 277.60,451.34 278.30,451.24 279.00,452.95 279.70,455.50 280.40,457.76 281.10,458.40 281.80,461.06 282.50,463.08 283.20,462.92 283.90,464.38 284.60,464.76 285.30,464.95 286.00,465.39 286.70,465.40 287.40,465.19 288.10,465.40 288.80,465.26 289.50,465.40 290.20,465.30 290.90,465.30 291.60,465.17 292.30,465.23 293.00,465.40 293.70,465.40 294.40,465.40 295.10,465.39 295.80,465.40 296.50,465.40 297.20,465.20 297.90,465.40 298.60,465.30 299.30,465.40 300.00,465.40 300.70,465.40 301.40,465.40 302.10,465.40 302.80,465.40 303.50,465.40 304.20,465.23 304.90,465.20" fill="none" stroke="#111" stroke-width="1.25" stroke-linejoin="round" />
<polyline points="255.90,460.03 256.60,460.48 257.30,461.31 258.00,461.53 258.70,461.90 259.40,461.90 260.10,457.08 260.80,451.65 261.50,446.74 262.20,444.32 262.90,445.69 263.60,448.28 264.30,451.39 265.00,455.15 265.70,458.29 266.40,460.90 267.10,462.82 267.80,463.90 268.50,464.75 269.20,465.18 269.90,465.37 270.60,465.40 271.30,465.38 272.00,465.40 272.70,465.32 273.40,465.40 274.10,465.35 274.80,465.28 275.50,465.40 276.20,465.40 276.90,465.40 277.60,465.40 278.30,465.38 279.00,465.34 279.70,465.40 280.40,465.28 281.10,465.40 281.80,465.31 282.50,465.40 283.20,465.30 283.90,465.40 284.60,465.28 285.30,465.33 286.00,465.28 286.70,465.38 287.40,465.40 288.10,465.28 288.80,465.40 289.50,465.40 290.20,465.37 290.90,465.40 291.60,465.40 292.30,465.40 293.00,465.40 293.70,465.38 294.40,465.40 295.10,465.40 295.80,465.40 296.50,465.34 297.20,465.35 297.90,465.40 298.60,465.40 299.30,465.40 300.00,465.40 300.70,465.40 301.40,465.40 302.10,465.40 302.80,465.34 303.50,465.35 304.20,465.37 304.90,465.40" fill="none" stroke="#111" stroke-width="1.05" stroke-linejoin="round" />
<rect x="255.90" y="436.40" width="49.00" height="29.80" fill="none" stroke="#000" stroke-width="1.05" />
<line x1="254.40" y1="466.20" x2="255.90" y2="466.20" stroke="#000" stroke-width="0.7" />
<line x1="254.40" y1="460.24" x2="255.90" y2="460.24" stroke="#000" stroke-width="0.7" />
<line x1="254.40" y1="454.28" x2="255.90" y2="454.28" stroke="#000" stroke-width="0.7" />
<line x1="254.40" y1="448.32" x2="255.90" y2="448.32" stroke="#000" stroke-width="0.7" />
<line x1="254.40" y1="442.36" x2="255.90" y2="442.36" stroke="#000" stroke-width="0.7" />
<line x1="254.40" y1="436.40" x2="255.90" y2="436.40" stroke="#000" stroke-width="0.7" />
<rect x="250.3" y="445.4" width="2" height="8" fill="#777"/>
<rect x="252.4" y="437.4" width="1.6" height="2.4" fill="#555"/>
<line x1="255.90" y1="466.20" x2="255.90" y2="467.80" stroke="#000" stroke-width="0.7" />
<rect x="254.9" y="468.2" width="2" height="1.5" fill="#555"/>
<line x1="268.15" y1="466.20" x2="268.15" y2="467.80" stroke="#000" stroke-width="0.7" />
<rect x="267.1" y="468.2" width="2" height="1.5" fill="#555"/>
<line x1="280.40" y1="466.20" x2="280.40" y2="467.80" stroke="#000" stroke-width="0.7" />
<rect x="279.4" y="468.2" width="2" height="1.5" fill="#555"/>
<line x1="292.65" y1="466.20" x2="292.65" y2="467.80" stroke="#000" stroke-width="0.7" />
<rect x="291.6" y="468.2" width="2" height="1.5" fill="#555"/>
<line x1="304.90" y1="466.20" x2="304.90" y2="467.80" stroke="#000" stroke-width="0.7" />
<rect x="303.9" y="468.2" width="2" height="1.5" fill="#555"/>
<rect x="277.9" y="470.2" width="5" height="1.6" fill="#777"/>
<text x="91.0" y="431.0" font-family="Liberation Serif" font-size="7.1" font-weight="bold" fill="#000" text-anchor="middle" textLength="54.6" lengthAdjust="spacingAndGlyphs" >FcεRI Expression</text>
<text x="245.2" y="430.7" font-family="Liberation Serif" font-size="7.1" font-weight="bold" fill="#000" text-anchor="middle" textLength="58.3" lengthAdjust="spacingAndGlyphs" >T1/ST2 Expression</text>
<text x="91.6" y="484.6" font-family="Liberation Serif" font-size="7.1" font-weight="bold" fill="#000" text-anchor="middle" textLength="45.8" lengthAdjust="spacingAndGlyphs" >Kit Expression</text>
<text x="244.8" y="484.6" font-family="Liberation Serif" font-size="7.1" font-weight="bold" fill="#000" text-anchor="middle" textLength="73" lengthAdjust="spacingAndGlyphs" >FcγRII/RIII Expression</text>
<text x="72.2" y="507.2" font-family="Liberation Serif" font-size="9.5" font-weight="bold" fill="#000" text-anchor="middle" textLength="79.5" lengthAdjust="spacingAndGlyphs" >Fluorescence Intensity</text>
<text transform="translate(7.6,443) rotate(-90)" x="0" y="0" font-family="Liberation Serif" font-size="8.6" font-weight="bold" fill="#000" text-anchor="middle" textLength="79.4" lengthAdjust="spacingAndGlyphs" >Relative Cell Number</text>
<line x1="13.80" y1="392.00" x2="13.80" y2="495.50" stroke="#000" stroke-width="1.6" />
<line x1="13.00" y1="495.00" x2="133.00" y2="495.00" stroke="#000" stroke-width="1.6" />
<path d="M13.8,381 L10.6,393 L17,393 Z" fill="#000"/>
<path d="M144,495 L132,490.2 L132,499.8 Z" fill="#000"/>
<rect x="358.50" y="368.20" width="156.30" height="116.70" fill="none" stroke="#111" stroke-width="1.2" />
<line x1="356.00" y1="484.90" x2="358.50" y2="484.90" stroke="#111" stroke-width="1" />
<text x="359.6" y="490.8" font-family="Liberation Serif" font-size="6.6" font-weight="bold" fill="#000" text-anchor="middle" >0</text>
<line x1="356.00" y1="455.72" x2="358.50" y2="455.72" stroke="#111" stroke-width="1" />
<text x="354.6" y="457.62499999999994" font-family="Liberation Serif" font-size="5.6" font-weight="bold" fill="#000" text-anchor="end" textLength="14.2" lengthAdjust="spacingAndGlyphs" stroke="#000" stroke-width="0.3">10,000</text>
<line x1="356.00" y1="426.55" x2="358.50" y2="426.55" stroke="#111" stroke-width="1" />
<text x="354.6" y="428.44999999999993" font-family="Liberation Serif" font-size="5.6" font-weight="bold" fill="#000" text-anchor="end" textLength="14.2" lengthAdjust="spacingAndGlyphs" stroke="#000" stroke-width="0.3">20,000</text>
<line x1="356.00" y1="397.38" x2="358.50" y2="397.38" stroke="#111" stroke-width="1" />
<text x="354.6" y="399.275" font-family="Liberation Serif" font-size="5.6" font-weight="bold" fill="#000" text-anchor="end" textLength="14.2" lengthAdjust="spacingAndGlyphs" stroke="#000" stroke-width="0.3">30,000</text>
<line x1="356.00" y1="368.20" x2="358.50" y2="368.20" stroke="#111" stroke-width="1" />
<text x="354.6" y="370.09999999999997" font-family="Liberation Serif" font-size="5.6" font-weight="bold" fill="#000" text-anchor="end" textLength="14.2" lengthAdjust="spacingAndGlyphs" stroke="#000" stroke-width="0.3">40,000</text>
<line x1="397.57" y1="484.90" x2="397.57" y2="487.40" stroke="#111" stroke-width="1" />
<text x="397.575" y="491.6" font-family="Liberation Serif" font-size="6.6" font-weight="bold" fill="#000" text-anchor="middle" >2</text>
<line x1="436.65" y1="484.90" x2="436.65" y2="487.40" stroke="#111" stroke-width="1" />
<text x="436.65" y="491.6" font-family="Liberation Serif" font-size="6.6" font-weight="bold" fill="#000" text-anchor="middle" >4</text>
<line x1="475.72" y1="484.90" x2="475.72" y2="487.40" stroke="#111" stroke-width="1" />
<text x="475.72499999999997" y="491.6" font-family="Liberation Serif" font-size="6.6" font-weight="bold" fill="#000" text-anchor="middle" >6</text>
<line x1="514.80" y1="484.90" x2="514.80" y2="487.40" stroke="#111" stroke-width="1" />
<text x="514.8" y="491.6" font-family="Liberation Serif" font-size="6.6" font-weight="bold" fill="#000" text-anchor="middle" >8</text>
<text x="437.6" y="501.5" font-family="Liberation Serif" font-size="8.0" font-weight="bold" fill="#000" text-anchor="middle" textLength="49.3" lengthAdjust="spacingAndGlyphs" >Days in Culture</text>
<text transform="translate(336.5,422.6) rotate(-90)" x="0" y="0" font-family="Liberation Serif" font-size="8.6" font-weight="bold" fill="#000" text-anchor="middle" textLength="78.4" lengthAdjust="spacingAndGlyphs" >Number of Viable Cells</text>
<polyline points="362.41,459.23 436.65,421.88 495.26,401.90" fill="none" stroke="#ec6a88" stroke-width="1.0" stroke-linejoin="round" stroke-dasharray="3,1.5"/>
<polyline points="362.41,444.93 436.65,441.20 495.26,462.14" fill="none" stroke="#2a2a70" stroke-width="1.2" stroke-linejoin="round" stroke-dasharray="1.5,1"/>
<polyline points="362.41,444.93 436.65,403.79 495.26,397.96" fill="none" stroke="#101030" stroke-width="1.5" stroke-linejoin="round" />
<polyline points="362.41,459.23 436.65,409.04 495.26,390.81" fill="none" stroke="#e8284c" stroke-width="1.25" stroke-linejoin="round" />
<rect x="360.81" y="457.63" width="3.20" height="3.20" fill="#f0103c" stroke="none" stroke-width="1" />
<rect x="435.05" y="407.44" width="3.20" height="3.20" fill="#f0103c" stroke="none" stroke-width="1" />
<rect x="493.66" y="389.21" width="3.20" height="3.20" fill="#f0103c" stroke="none" stroke-width="1" />
<rect x="361.01" y="457.83" width="2.80" height="2.80" fill="#e04060" stroke="none" stroke-width="1" />
<rect x="435.25" y="420.48" width="2.80" height="2.80" fill="#e04060" stroke="none" stroke-width="1" />
<rect x="493.86" y="400.50" width="2.80" height="2.80" fill="#e04060" stroke="none" stroke-width="1" />
<circle cx="362.41" cy="444.93" r="1.60" fill="#101030" />
<circle cx="436.65" cy="403.79" r="1.60" fill="#101030" />
<circle cx="495.26" cy="397.96" r="1.60" fill="#101030" />
<circle cx="362.41" cy="444.93" r="1.60" fill="#1c1c60" />
<circle cx="436.65" cy="441.20" r="1.60" fill="#1c1c60" />
<circle cx="495.26" cy="462.14" r="1.60" fill="#1c1c60" />
<line x1="437.30" y1="400.40" x2="437.30" y2="425.40" stroke="#333" stroke-width="1.1" />
<line x1="435.80" y1="400.40" x2="438.80" y2="400.40" stroke="#333" stroke-width="1" />
<line x1="435.80" y1="425.40" x2="438.80" y2="425.40" stroke="#333" stroke-width="1" />
<line x1="495.40" y1="383.50" x2="495.40" y2="408.00" stroke="#333" stroke-width="1.1" />
<line x1="493.90" y1="383.50" x2="496.90" y2="383.50" stroke="#333" stroke-width="1" />
<line x1="493.90" y1="408.00" x2="496.90" y2="408.00" stroke="#333" stroke-width="1" />
<line x1="359.00" y1="376.20" x2="371.30" y2="376.20" stroke="#f0103c" stroke-width="1.2" />
<circle cx="365.00" cy="376.20" r="1.30" fill="#f0103c" />
<text x="374.6" y="378.3" font-family="Liberation Serif" font-size="6.0" font-weight="bold" fill="#f0103c" text-anchor="start" textLength="34.2" lengthAdjust="spacingAndGlyphs" stroke="#f0103c" stroke-width="0.4">WT IL-3+SCF</text>
<line x1="359.00" y1="385.60" x2="371.30" y2="385.60" stroke="#e04060" stroke-width="1.2" stroke-dasharray="2.5,1.2"/>
<circle cx="365.00" cy="385.60" r="1.30" fill="#e04060" />
<text x="374.6" y="387.70000000000005" font-family="Liberation Serif" font-size="6.0" font-weight="bold" fill="#f0103c" text-anchor="start" textLength="20.8" lengthAdjust="spacingAndGlyphs" stroke="#f0103c" stroke-width="0.4">WT IL-3</text>
<line x1="359.00" y1="394.80" x2="371.30" y2="394.80" stroke="#101030" stroke-width="1.2" />
<circle cx="365.00" cy="394.80" r="1.30" fill="#101030" />
<text x="374.6" y="396.90000000000003" font-family="Liberation Serif" font-size="6.0" font-weight="bold" fill="#101030" text-anchor="start" textLength="49.4" lengthAdjust="spacingAndGlyphs" stroke="#101030" stroke-width="0.4">Stat5 -/- IL-3+SCF</text>
<line x1="359.00" y1="403.50" x2="371.30" y2="403.50" stroke="#2a2a70" stroke-width="1.2" stroke-dasharray="1.5,1"/>
<circle cx="365.00" cy="403.50" r="1.30" fill="#2a2a70" />
<text x="374.6" y="405.6" font-family="Liberation Serif" font-size="6.0" font-weight="bold" fill="#101030" text-anchor="start" textLength="35.8" lengthAdjust="spacingAndGlyphs" stroke="#101030" stroke-width="0.4">Stat5 -/- IL-3</text>
</svg>
</body></html>
